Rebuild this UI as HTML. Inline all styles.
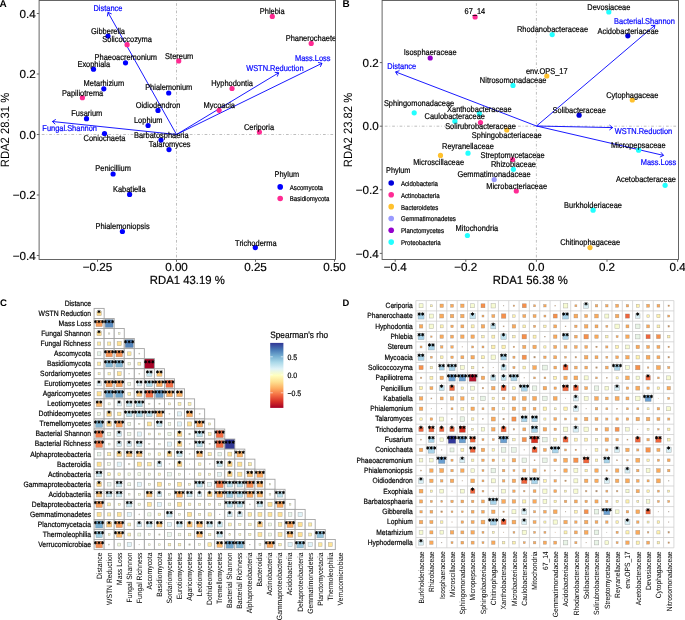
<!DOCTYPE html>
<html><head><meta charset="utf-8"><style>
html,body{margin:0;padding:0;background:#fff;}
body{width:685px;height:620px;overflow:hidden;}
svg{display:block;will-change:transform;text-rendering:geometricPrecision;}
</style></head><body>
<svg width="685" height="620" viewBox="0 0 685 620" font-family='"Liberation Sans", sans-serif'>
<rect width="685" height="620" fill="#fff"/>
<line x1="176.5" y1="0.45" x2="176.5" y2="259.5" stroke="#a8a8a8" stroke-width="0.75" stroke-dasharray="0.7 2 2.7 2"/>
<line x1="39.1" y1="134.5" x2="335.5" y2="134.5" stroke="#a8a8a8" stroke-width="0.75" stroke-dasharray="0.7 2 2.7 2"/>
<line x1="176.5" y1="134.5" x2="108" y2="12.4" stroke="#0000ff" stroke-width="0.9"/>
<polyline points="111.69,13.94 108,12.4 107.39,16.35" fill="none" stroke="#0000ff" stroke-width="0.9"/>
<line x1="176.5" y1="134.5" x2="52.4" y2="121.5" stroke="#0000ff" stroke-width="0.9"/>
<polyline points="55.79,119.38 52.4,121.5 55.28,124.28" fill="none" stroke="#0000ff" stroke-width="0.9"/>
<line x1="176.5" y1="134.5" x2="278.7" y2="72.8" stroke="#0000ff" stroke-width="0.9"/>
<polyline points="277.27,76.54 278.7,72.8 274.73,72.32" fill="none" stroke="#0000ff" stroke-width="0.9"/>
<line x1="176.5" y1="134.5" x2="322" y2="63.3" stroke="#0000ff" stroke-width="0.9"/>
<polyline points="320.25,66.9 322,63.3 318.09,62.47" fill="none" stroke="#0000ff" stroke-width="0.9"/>
<circle cx="108" cy="36" r="2.6" fill="#0000ff"/>
<circle cx="125.5" cy="62.8" r="2.6" fill="#0000ff"/>
<circle cx="93.5" cy="69.2" r="2.6" fill="#0000ff"/>
<circle cx="103.8" cy="88.8" r="2.6" fill="#0000ff"/>
<circle cx="168.7" cy="93" r="2.6" fill="#0000ff"/>
<circle cx="158" cy="110.4" r="2.6" fill="#0000ff"/>
<circle cx="86.5" cy="118.7" r="2.6" fill="#0000ff"/>
<circle cx="148.1" cy="125.5" r="2.6" fill="#0000ff"/>
<circle cx="104.5" cy="133.5" r="2.6" fill="#0000ff"/>
<circle cx="161" cy="140.1" r="2.6" fill="#0000ff"/>
<circle cx="169" cy="149.6" r="2.6" fill="#0000ff"/>
<circle cx="113.1" cy="174" r="2.6" fill="#0000ff"/>
<circle cx="129.6" cy="194.4" r="2.6" fill="#0000ff"/>
<circle cx="122.4" cy="231.5" r="2.6" fill="#0000ff"/>
<circle cx="255.3" cy="247.6" r="2.6" fill="#0000ff"/>
<circle cx="127.1" cy="44.7" r="2.6" fill="#ff2a92"/>
<circle cx="82.4" cy="97.7" r="2.6" fill="#ff2a92"/>
<circle cx="178.7" cy="60.9" r="2.6" fill="#ff2a92"/>
<circle cx="272.3" cy="16.4" r="2.6" fill="#ff2a92"/>
<circle cx="311.2" cy="43.4" r="2.6" fill="#ff2a92"/>
<circle cx="232" cy="88.5" r="2.6" fill="#ff2a92"/>
<circle cx="219.1" cy="110.3" r="2.6" fill="#ff2a92"/>
<circle cx="259.4" cy="132.1" r="2.6" fill="#ff2a92"/>
<text transform="translate(108,33.6) scale(1,1.13)" font-size="7.45" fill="#000" stroke="#000" stroke-width="0.18" text-anchor="middle" >Gibberella</text>
<text transform="translate(125.8,60.3) scale(1,1.13)" font-size="7.45" fill="#000" stroke="#000" stroke-width="0.18" text-anchor="middle" >Phaeoacremonium</text>
<text transform="translate(93.75,66.6) scale(1,1.13)" font-size="7.45" fill="#000" stroke="#000" stroke-width="0.18" text-anchor="middle" >Exophiala</text>
<text transform="translate(103.85,86.4) scale(1,1.13)" font-size="7.45" fill="#000" stroke="#000" stroke-width="0.18" text-anchor="middle" >Metarhizium</text>
<text transform="translate(168.7,90.4) scale(1,1.13)" font-size="7.45" fill="#000" stroke="#000" stroke-width="0.18" text-anchor="middle" >Phialemonium</text>
<text transform="translate(158,107.8) scale(1,1.13)" font-size="7.45" fill="#000" stroke="#000" stroke-width="0.18" text-anchor="middle" >Oidiodendron</text>
<text transform="translate(86.75,115.6) scale(1,1.13)" font-size="7.45" fill="#000" stroke="#000" stroke-width="0.18" text-anchor="middle" >Fusarium</text>
<text transform="translate(148.25,122.8) scale(1,1.13)" font-size="7.45" fill="#000" stroke="#000" stroke-width="0.18" text-anchor="middle" >Lophium</text>
<text transform="translate(104.45,141.4) scale(1,1.13)" font-size="7.45" fill="#000" stroke="#000" stroke-width="0.18" text-anchor="middle" >Coniochaeta</text>
<text transform="translate(161.3,137.8) scale(1,1.13)" font-size="7.45" fill="#000" stroke="#000" stroke-width="0.18" text-anchor="middle" >Barbatosphaeria</text>
<text transform="translate(169.7,147.1) scale(1,1.13)" font-size="7.45" fill="#000" stroke="#000" stroke-width="0.18" text-anchor="middle" >Talaromyces</text>
<text transform="translate(113.1,171.2) scale(1,1.13)" font-size="7.45" fill="#000" stroke="#000" stroke-width="0.18" text-anchor="middle" >Penicillium</text>
<text transform="translate(129.3,192) scale(1,1.13)" font-size="7.45" fill="#000" stroke="#000" stroke-width="0.18" text-anchor="middle" >Kabatiella</text>
<text transform="translate(122.55,229) scale(1,1.13)" font-size="7.45" fill="#000" stroke="#000" stroke-width="0.18" text-anchor="middle" >Phialemoniopsis</text>
<text transform="translate(255.85,246.2) scale(1,1.13)" font-size="7.45" fill="#000" stroke="#000" stroke-width="0.18" text-anchor="middle" >Trichoderma</text>
<text transform="translate(127.1,42.2) scale(1,1.13)" font-size="7.45" fill="#000" stroke="#000" stroke-width="0.18" text-anchor="middle" >Solicoccozyma</text>
<text transform="translate(82.55,95.6) scale(1,1.13)" font-size="7.45" fill="#000" stroke="#000" stroke-width="0.18" text-anchor="middle" >Papiliotrema</text>
<text transform="translate(179.15,59.2) scale(1,1.13)" font-size="7.45" fill="#000" stroke="#000" stroke-width="0.18" text-anchor="middle" >Stereum</text>
<text transform="translate(272.25,14) scale(1,1.13)" font-size="7.45" fill="#000" stroke="#000" stroke-width="0.18" text-anchor="middle" >Phlebia</text>
<text transform="translate(310.9,41) scale(1,1.13)" font-size="7.45" fill="#000" stroke="#000" stroke-width="0.18" text-anchor="middle" >Phanerochaete</text>
<text transform="translate(232.05,86.1) scale(1,1.13)" font-size="7.45" fill="#000" stroke="#000" stroke-width="0.18" text-anchor="middle" >Hyphodontia</text>
<text transform="translate(219.25,108.4) scale(1,1.13)" font-size="7.45" fill="#000" stroke="#000" stroke-width="0.18" text-anchor="middle" >Mycoacia</text>
<text transform="translate(259,130.4) scale(1,1.13)" font-size="7.45" fill="#000" stroke="#000" stroke-width="0.18" text-anchor="middle" >Ceriporia</text>
<text transform="translate(107.95,10.9) scale(1,1.13)" font-size="7.45" fill="#0000ff" stroke="#0000ff" stroke-width="0.18" text-anchor="middle" >Distance</text>
<text transform="translate(69.65,131.1) scale(1,1.13)" font-size="7.45" fill="#0000ff" stroke="#0000ff" stroke-width="0.18" text-anchor="middle" >Fungal.Shannon</text>
<text transform="translate(274.85,70.7) scale(1,1.13)" font-size="7.45" fill="#0000ff" stroke="#0000ff" stroke-width="0.18" text-anchor="middle" >WSTN.Reduction</text>
<text transform="translate(312.7,60.8) scale(1,1.13)" font-size="7.45" fill="#0000ff" stroke="#0000ff" stroke-width="0.18" text-anchor="middle" >Mass.Loss</text>
<rect x="39.1" y="0.45" width="296.4" height="259.05" fill="none" stroke="#555555" stroke-width="0.9"/>
<line x1="36.8" y1="13.5" x2="39.1" y2="13.5" stroke="#555555" stroke-width="0.9"/>
<text x="35.65" y="17.65" font-size="11.65" fill="#000" stroke="#000" stroke-width="0.18" text-anchor="end" >0.4</text>
<line x1="36.8" y1="74" x2="39.1" y2="74" stroke="#555555" stroke-width="0.9"/>
<text x="35.65" y="78.15" font-size="11.65" fill="#000" stroke="#000" stroke-width="0.18" text-anchor="end" >0.2</text>
<line x1="36.8" y1="134.5" x2="39.1" y2="134.5" stroke="#555555" stroke-width="0.9"/>
<text x="35.65" y="138.65" font-size="11.65" fill="#000" stroke="#000" stroke-width="0.18" text-anchor="end" >0.0</text>
<line x1="36.8" y1="195" x2="39.1" y2="195" stroke="#555555" stroke-width="0.9"/>
<text x="35.65" y="199.15" font-size="11.65" fill="#000" stroke="#000" stroke-width="0.18" text-anchor="end" >−0.2</text>
<line x1="36.8" y1="255.5" x2="39.1" y2="255.5" stroke="#555555" stroke-width="0.9"/>
<text x="35.65" y="259.65" font-size="11.65" fill="#000" stroke="#000" stroke-width="0.18" text-anchor="end" >−0.4</text>
<line x1="97.5" y1="259.5" x2="97.5" y2="261.8" stroke="#555555" stroke-width="0.9"/>
<text x="97.5" y="271.35" font-size="11.65" fill="#000" stroke="#000" stroke-width="0.18" text-anchor="middle" >−0.25</text>
<line x1="176.5" y1="259.5" x2="176.5" y2="261.8" stroke="#555555" stroke-width="0.9"/>
<text x="176.5" y="271.35" font-size="11.65" fill="#000" stroke="#000" stroke-width="0.18" text-anchor="middle" >0.00</text>
<line x1="255.5" y1="259.5" x2="255.5" y2="261.8" stroke="#555555" stroke-width="0.9"/>
<text x="255.5" y="271.35" font-size="11.65" fill="#000" stroke="#000" stroke-width="0.18" text-anchor="middle" >0.25</text>
<line x1="334.5" y1="259.5" x2="334.5" y2="261.8" stroke="#555555" stroke-width="0.9"/>
<text x="334.5" y="271.35" font-size="11.65" fill="#000" stroke="#000" stroke-width="0.18" text-anchor="middle" >0.50</text>
<text x="187.3" y="283.9" font-size="11.7" fill="#000" stroke="#000" stroke-width="0.18" text-anchor="middle" textLength="74.9" lengthAdjust="spacingAndGlyphs">RDA1 43.19 %</text>
<text transform="translate(9,129.97) rotate(-90)" font-size="12" text-anchor="middle" textLength="74.5" lengthAdjust="spacingAndGlyphs">RDA2 28.31 %</text>
<text x="-0.4" y="6.95" font-size="10" font-weight="bold">A</text>
<text transform="translate(274.6,177.3) scale(1,1.13)" font-size="7.35" fill="#000" stroke="#000" stroke-width="0.18" text-anchor="start" >Phylum</text>
<circle cx="280.2" cy="186.9" r="2.8" fill="#0000ff"/>
<circle cx="280.2" cy="198.5" r="2.8" fill="#ff2a92"/>
<text transform="translate(289.8,189.7) scale(1,1.13)" font-size="6.1" fill="#000" stroke="#000" stroke-width="0.18" text-anchor="start" >Ascomycota</text>
<text transform="translate(289.8,201.3) scale(1,1.13)" font-size="6.1" fill="#000" stroke="#000" stroke-width="0.18" text-anchor="start" >Basidiomycota</text>
<line x1="536.4" y1="0.45" x2="536.4" y2="259.5" stroke="#a8a8a8" stroke-width="0.75" stroke-dasharray="0.7 2 2.7 2"/>
<line x1="382.1" y1="126.2" x2="678.5" y2="126.2" stroke="#a8a8a8" stroke-width="0.75" stroke-dasharray="0.7 2 2.7 2"/>
<line x1="536.5" y1="126" x2="395.6" y2="71.9" stroke="#0000ff" stroke-width="0.9"/>
<polyline points="399.43,70.73 395.6,71.9 397.66,75.33" fill="none" stroke="#0000ff" stroke-width="0.9"/>
<line x1="536.5" y1="126" x2="654.9" y2="25.3" stroke="#0000ff" stroke-width="0.9"/>
<polyline points="654.09,29.22 654.9,25.3 650.9,25.47" fill="none" stroke="#0000ff" stroke-width="0.9"/>
<line x1="536.5" y1="126" x2="612.6" y2="127.6" stroke="#0000ff" stroke-width="0.9"/>
<polyline points="609.4,130 612.6,127.6 609.5,125.07" fill="none" stroke="#0000ff" stroke-width="0.9"/>
<line x1="536.5" y1="126" x2="663.5" y2="155.4" stroke="#0000ff" stroke-width="0.9"/>
<polyline points="659.87,157.09 663.5,155.4 660.98,152.29" fill="none" stroke="#0000ff" stroke-width="0.9"/>
<circle cx="627.8" cy="35.8" r="2.6" fill="#0000dc"/>
<circle cx="579.1" cy="115.2" r="2.6" fill="#0000dc"/>
<circle cx="475.1" cy="16.9" r="2.6" fill="#ff2b95"/>
<circle cx="480.5" cy="122.6" r="2.6" fill="#ff2b95"/>
<circle cx="512.6" cy="159.5" r="2.6" fill="#ff2b95"/>
<circle cx="516.3" cy="191" r="2.6" fill="#ff2b95"/>
<circle cx="546.8" cy="76" r="2.6" fill="#ffc12e"/>
<circle cx="506.8" cy="130" r="2.6" fill="#ffc12e"/>
<circle cx="632.3" cy="100" r="2.6" fill="#ffc12e"/>
<circle cx="440.5" cy="155.4" r="2.6" fill="#ffc12e"/>
<circle cx="590" cy="247.6" r="2.6" fill="#ffc12e"/>
<circle cx="494.2" cy="179.5" r="2.6" fill="#9a9aff"/>
<circle cx="430.2" cy="58" r="2.6" fill="#9400cc"/>
<circle cx="608.8" cy="12" r="2.6" fill="#22ffff"/>
<circle cx="552.2" cy="34.6" r="2.6" fill="#22ffff"/>
<circle cx="513" cy="85.4" r="2.6" fill="#22ffff"/>
<circle cx="414.2" cy="112.8" r="2.6" fill="#22ffff"/>
<circle cx="479.4" cy="113.6" r="2.6" fill="#22ffff"/>
<circle cx="454.9" cy="121.2" r="2.6" fill="#22ffff"/>
<circle cx="468" cy="153.2" r="2.6" fill="#22ffff"/>
<circle cx="513.4" cy="169.3" r="2.6" fill="#22ffff"/>
<circle cx="638.6" cy="150.2" r="2.6" fill="#22ffff"/>
<circle cx="665.1" cy="185.3" r="2.6" fill="#22ffff"/>
<circle cx="593.1" cy="210.2" r="2.6" fill="#22ffff"/>
<circle cx="467.4" cy="235.5" r="2.6" fill="#22ffff"/>
<text transform="translate(628.1,33.6) scale(1,1.13)" font-size="7.45" fill="#000" stroke="#000" stroke-width="0.18" text-anchor="middle" >Acidobacteriaceae</text>
<text transform="translate(579.2,112.5) scale(1,1.13)" font-size="7.45" fill="#000" stroke="#000" stroke-width="0.18" text-anchor="middle" >Solibacteraceae</text>
<text transform="translate(474.85,14.3) scale(1,1.13)" font-size="7.45" fill="#000" stroke="#000" stroke-width="0.18" text-anchor="middle" >67_14</text>
<text transform="translate(480.5,128.7) scale(1,1.13)" font-size="7.45" fill="#000" stroke="#000" stroke-width="0.18" text-anchor="middle" >Solirubrobacteraceae</text>
<text transform="translate(512.6,157.7) scale(1,1.13)" font-size="7.45" fill="#000" stroke="#000" stroke-width="0.18" text-anchor="middle" >Streptomycetaceae</text>
<text transform="translate(516.65,188.7) scale(1,1.13)" font-size="7.45" fill="#000" stroke="#000" stroke-width="0.18" text-anchor="middle" >Microbacteriaceae</text>
<text transform="translate(546.75,73.7) scale(1,1.13)" font-size="7.45" fill="#000" stroke="#000" stroke-width="0.18" text-anchor="middle" >env.OPS_17</text>
<text transform="translate(506.75,137.9) scale(1,1.13)" font-size="7.45" fill="#000" stroke="#000" stroke-width="0.18" text-anchor="middle" >Sphingobacteriaceae</text>
<text transform="translate(632.3,98) scale(1,1.13)" font-size="7.45" fill="#000" stroke="#000" stroke-width="0.18" text-anchor="middle" >Cytophagaceae</text>
<text transform="translate(438.6,164.6) scale(1,1.13)" font-size="7.45" fill="#000" stroke="#000" stroke-width="0.18" text-anchor="middle" >Microscillaceae</text>
<text transform="translate(590.15,244.9) scale(1,1.13)" font-size="7.45" fill="#000" stroke="#000" stroke-width="0.18" text-anchor="middle" >Chitinophagaceae</text>
<text transform="translate(494,177) scale(1,1.13)" font-size="7.45" fill="#000" stroke="#000" stroke-width="0.18" text-anchor="middle" >Gemmatimonadaceae</text>
<text transform="translate(430.15,55.4) scale(1,1.13)" font-size="7.45" fill="#000" stroke="#000" stroke-width="0.18" text-anchor="middle" >Isosphaeraceae</text>
<text transform="translate(608.85,9.8) scale(1,1.13)" font-size="7.45" fill="#000" stroke="#000" stroke-width="0.18" text-anchor="middle" >Devosiaceae</text>
<text transform="translate(552.45,32.4) scale(1,1.13)" font-size="7.45" fill="#000" stroke="#000" stroke-width="0.18" text-anchor="middle" >Rhodanobacteraceae</text>
<text transform="translate(513.15,83.4) scale(1,1.13)" font-size="7.45" fill="#000" stroke="#000" stroke-width="0.18" text-anchor="middle" >Nitrosomonadaceae</text>
<text transform="translate(419.05,106.1) scale(1,1.13)" font-size="7.45" fill="#000" stroke="#000" stroke-width="0.18" text-anchor="middle" >Sphingomonadaceae</text>
<text transform="translate(479.3,111.6) scale(1,1.13)" font-size="7.45" fill="#000" stroke="#000" stroke-width="0.18" text-anchor="middle" >Xanthobacteraceae</text>
<text transform="translate(454.8,118.6) scale(1,1.13)" font-size="7.45" fill="#000" stroke="#000" stroke-width="0.18" text-anchor="middle" >Caulobacteraceae</text>
<text transform="translate(467.95,148.9) scale(1,1.13)" font-size="7.45" fill="#000" stroke="#000" stroke-width="0.18" text-anchor="middle" >Reyranellaceae</text>
<text transform="translate(513.45,167) scale(1,1.13)" font-size="7.45" fill="#000" stroke="#000" stroke-width="0.18" text-anchor="middle" >Rhizobiaceae</text>
<text transform="translate(638.3,148.3) scale(1,1.13)" font-size="7.45" fill="#000" stroke="#000" stroke-width="0.18" text-anchor="middle" >Micropepsaceae</text>
<text transform="translate(646,181.6) scale(1,1.13)" font-size="7.45" fill="#000" stroke="#000" stroke-width="0.18" text-anchor="middle" >Acetobacteraceae</text>
<text transform="translate(593.05,207.8) scale(1,1.13)" font-size="7.45" fill="#000" stroke="#000" stroke-width="0.18" text-anchor="middle" >Burkholderiaceae</text>
<text transform="translate(476.9,231.2) scale(1,1.13)" font-size="7.45" fill="#000" stroke="#000" stroke-width="0.18" text-anchor="middle" >Mitochondria</text>
<text transform="translate(401.75,69.2) scale(1,1.13)" font-size="7.45" fill="#0000ff" stroke="#0000ff" stroke-width="0.18" text-anchor="middle" >Distance</text>
<text transform="translate(644.5,23.8) scale(1,1.13)" font-size="7.45" fill="#0000ff" stroke="#0000ff" stroke-width="0.18" text-anchor="middle" >Bacterial.Shannon</text>
<text transform="translate(643.5,133.6) scale(1,1.13)" font-size="7.45" fill="#0000ff" stroke="#0000ff" stroke-width="0.18" text-anchor="middle" >WSTN.Reduction</text>
<text transform="translate(658.45,164.6) scale(1,1.13)" font-size="7.45" fill="#0000ff" stroke="#0000ff" stroke-width="0.18" text-anchor="middle" >Mass.Loss</text>
<rect x="382.1" y="0.45" width="296.4" height="259.05" fill="none" stroke="#555555" stroke-width="0.9"/>
<line x1="379.8" y1="62.6" x2="382.1" y2="62.6" stroke="#555555" stroke-width="0.9"/>
<text x="378.65" y="66.75" font-size="11.65" fill="#000" stroke="#000" stroke-width="0.18" text-anchor="end" >0.2</text>
<line x1="379.8" y1="126.2" x2="382.1" y2="126.2" stroke="#555555" stroke-width="0.9"/>
<text x="378.65" y="130.35" font-size="11.65" fill="#000" stroke="#000" stroke-width="0.18" text-anchor="end" >0.0</text>
<line x1="379.8" y1="189.8" x2="382.1" y2="189.8" stroke="#555555" stroke-width="0.9"/>
<text x="378.65" y="193.95" font-size="11.65" fill="#000" stroke="#000" stroke-width="0.18" text-anchor="end" >−0.2</text>
<line x1="379.8" y1="253.4" x2="382.1" y2="253.4" stroke="#555555" stroke-width="0.9"/>
<text x="378.65" y="257.55" font-size="11.65" fill="#000" stroke="#000" stroke-width="0.18" text-anchor="end" >−0.4</text>
<line x1="395.2" y1="259.5" x2="395.2" y2="261.8" stroke="#555555" stroke-width="0.9"/>
<text x="395.2" y="271.35" font-size="11.65" fill="#000" stroke="#000" stroke-width="0.18" text-anchor="middle" >−0.4</text>
<line x1="465.8" y1="259.5" x2="465.8" y2="261.8" stroke="#555555" stroke-width="0.9"/>
<text x="465.8" y="271.35" font-size="11.65" fill="#000" stroke="#000" stroke-width="0.18" text-anchor="middle" >−0.2</text>
<line x1="536.4" y1="259.5" x2="536.4" y2="261.8" stroke="#555555" stroke-width="0.9"/>
<text x="536.4" y="271.35" font-size="11.65" fill="#000" stroke="#000" stroke-width="0.18" text-anchor="middle" >0.0</text>
<line x1="607" y1="259.5" x2="607" y2="261.8" stroke="#555555" stroke-width="0.9"/>
<text x="607" y="271.35" font-size="11.65" fill="#000" stroke="#000" stroke-width="0.18" text-anchor="middle" >0.2</text>
<line x1="677.6" y1="259.5" x2="677.6" y2="261.8" stroke="#555555" stroke-width="0.9"/>
<text x="677.6" y="271.35" font-size="11.65" fill="#000" stroke="#000" stroke-width="0.18" text-anchor="middle" >0.4</text>
<text x="530.3" y="283.9" font-size="11.7" fill="#000" stroke="#000" stroke-width="0.18" text-anchor="middle" textLength="74.9" lengthAdjust="spacingAndGlyphs">RDA1 56.38 %</text>
<text transform="translate(351.9,129.97) rotate(-90)" font-size="12" text-anchor="middle" textLength="74.5" lengthAdjust="spacingAndGlyphs">RDA2 23.82 %</text>
<text x="342.4" y="6.95" font-size="10" font-weight="bold">B</text>
<text transform="translate(386,173.2) scale(1,1.13)" font-size="7.35" fill="#000" stroke="#000" stroke-width="0.18" text-anchor="start" >Phylum</text>
<circle cx="391.2" cy="183" r="2.8" fill="#0000dc"/>
<text transform="translate(401,186) scale(1,1.13)" font-size="6.1" fill="#000" stroke="#000" stroke-width="0.18" text-anchor="start" >Acidobacteria</text>
<circle cx="391.2" cy="194.82" r="2.8" fill="#ff2b95"/>
<text transform="translate(401,197.82) scale(1,1.13)" font-size="6.1" fill="#000" stroke="#000" stroke-width="0.18" text-anchor="start" >Actinobacteria</text>
<circle cx="391.2" cy="206.64" r="2.8" fill="#ffc12e"/>
<text transform="translate(401,209.64) scale(1,1.13)" font-size="6.1" fill="#000" stroke="#000" stroke-width="0.18" text-anchor="start" >Bacteroidetes</text>
<circle cx="391.2" cy="218.46" r="2.8" fill="#9a9aff"/>
<text transform="translate(401,221.46) scale(1,1.13)" font-size="6.1" fill="#000" stroke="#000" stroke-width="0.18" text-anchor="start" >Gemmatimonadetes</text>
<circle cx="391.2" cy="230.28" r="2.8" fill="#9400cc"/>
<text transform="translate(401,233.28) scale(1,1.13)" font-size="6.1" fill="#000" stroke="#000" stroke-width="0.18" text-anchor="start" >Planctomycetes</text>
<circle cx="391.2" cy="242.1" r="2.8" fill="#22ffff"/>
<text transform="translate(401,245.1) scale(1,1.13)" font-size="6.1" fill="#000" stroke="#000" stroke-width="0.18" text-anchor="start" >Proteobacteria</text>
<text transform="translate(91.1,305.77) scale(1,1.13)" font-size="6.8" fill="#000" stroke="#000" stroke-width="0.18" text-anchor="end" >Distance</text>
<text transform="translate(91.1,315.82) scale(1,1.13)" font-size="6.8" fill="#000" stroke="#000" stroke-width="0.18" text-anchor="end" >WSTN Reduction</text>
<text transform="translate(91.1,325.88) scale(1,1.13)" font-size="6.8" fill="#000" stroke="#000" stroke-width="0.18" text-anchor="end" >Mass Loss</text>
<text transform="translate(91.1,335.93) scale(1,1.13)" font-size="6.8" fill="#000" stroke="#000" stroke-width="0.18" text-anchor="end" >Fungal Shannon</text>
<text transform="translate(91.1,345.98) scale(1,1.13)" font-size="6.8" fill="#000" stroke="#000" stroke-width="0.18" text-anchor="end" >Fungal Richness</text>
<text transform="translate(91.1,356.02) scale(1,1.13)" font-size="6.8" fill="#000" stroke="#000" stroke-width="0.18" text-anchor="end" >Ascomycota</text>
<text transform="translate(91.1,366.07) scale(1,1.13)" font-size="6.8" fill="#000" stroke="#000" stroke-width="0.18" text-anchor="end" >Basidiomycota</text>
<text transform="translate(91.1,376.12) scale(1,1.13)" font-size="6.8" fill="#000" stroke="#000" stroke-width="0.18" text-anchor="end" >Sordariomycetes</text>
<text transform="translate(91.1,386.18) scale(1,1.13)" font-size="6.8" fill="#000" stroke="#000" stroke-width="0.18" text-anchor="end" >Eurotiomycetes</text>
<text transform="translate(91.1,396.23) scale(1,1.13)" font-size="6.8" fill="#000" stroke="#000" stroke-width="0.18" text-anchor="end" >Agaricomycetes</text>
<text transform="translate(91.1,406.27) scale(1,1.13)" font-size="6.8" fill="#000" stroke="#000" stroke-width="0.18" text-anchor="end" >Leotiomycetes</text>
<text transform="translate(91.1,416.32) scale(1,1.13)" font-size="6.8" fill="#000" stroke="#000" stroke-width="0.18" text-anchor="end" >Dothideomycetes</text>
<text transform="translate(91.1,426.38) scale(1,1.13)" font-size="6.8" fill="#000" stroke="#000" stroke-width="0.18" text-anchor="end" >Tremellomycetes</text>
<text transform="translate(91.1,436.43) scale(1,1.13)" font-size="6.8" fill="#000" stroke="#000" stroke-width="0.18" text-anchor="end" >Bacterial Shannon</text>
<text transform="translate(91.1,446.48) scale(1,1.13)" font-size="6.8" fill="#000" stroke="#000" stroke-width="0.18" text-anchor="end" >Bacterial Richness</text>
<text transform="translate(91.1,456.52) scale(1,1.13)" font-size="6.8" fill="#000" stroke="#000" stroke-width="0.18" text-anchor="end" >Alphaproteobacteria</text>
<text transform="translate(91.1,466.58) scale(1,1.13)" font-size="6.8" fill="#000" stroke="#000" stroke-width="0.18" text-anchor="end" >Bacteroidia</text>
<text transform="translate(91.1,476.62) scale(1,1.13)" font-size="6.8" fill="#000" stroke="#000" stroke-width="0.18" text-anchor="end" >Actinobacteria</text>
<text transform="translate(91.1,486.68) scale(1,1.13)" font-size="6.8" fill="#000" stroke="#000" stroke-width="0.18" text-anchor="end" >Gammaproteobacteria</text>
<text transform="translate(91.1,496.73) scale(1,1.13)" font-size="6.8" fill="#000" stroke="#000" stroke-width="0.18" text-anchor="end" >Acidobacteriia</text>
<text transform="translate(91.1,506.77) scale(1,1.13)" font-size="6.8" fill="#000" stroke="#000" stroke-width="0.18" text-anchor="end" >Deltaproteobacteria</text>
<text transform="translate(91.1,516.83) scale(1,1.13)" font-size="6.8" fill="#000" stroke="#000" stroke-width="0.18" text-anchor="end" >Gemmatimonadetes</text>
<text transform="translate(91.1,526.88) scale(1,1.13)" font-size="6.8" fill="#000" stroke="#000" stroke-width="0.18" text-anchor="end" >Planctomycetacia</text>
<text transform="translate(91.1,536.93) scale(1,1.13)" font-size="6.8" fill="#000" stroke="#000" stroke-width="0.18" text-anchor="end" >Thermoleophilia</text>
<text transform="translate(91.1,546.98) scale(1,1.13)" font-size="6.8" fill="#000" stroke="#000" stroke-width="0.18" text-anchor="end" >Verrucomicrobiae</text>
<g fill="#fff" stroke="#a3a3a3" stroke-width="0.9">
<rect x="94.1" y="308.4" width="10.05" height="10.05"/>
<rect x="94.1" y="318.45" width="10.05" height="10.05"/>
<rect x="104.15" y="318.45" width="10.05" height="10.05"/>
<rect x="94.1" y="328.5" width="10.05" height="10.05"/>
<rect x="104.15" y="328.5" width="10.05" height="10.05"/>
<rect x="114.2" y="328.5" width="10.05" height="10.05"/>
<rect x="94.1" y="338.55" width="10.05" height="10.05"/>
<rect x="104.15" y="338.55" width="10.05" height="10.05"/>
<rect x="114.2" y="338.55" width="10.05" height="10.05"/>
<rect x="124.25" y="338.55" width="10.05" height="10.05"/>
<rect x="94.1" y="348.6" width="10.05" height="10.05"/>
<rect x="104.15" y="348.6" width="10.05" height="10.05"/>
<rect x="114.2" y="348.6" width="10.05" height="10.05"/>
<rect x="124.25" y="348.6" width="10.05" height="10.05"/>
<rect x="134.3" y="348.6" width="10.05" height="10.05"/>
<rect x="94.1" y="358.65" width="10.05" height="10.05"/>
<rect x="104.15" y="358.65" width="10.05" height="10.05"/>
<rect x="114.2" y="358.65" width="10.05" height="10.05"/>
<rect x="124.25" y="358.65" width="10.05" height="10.05"/>
<rect x="134.3" y="358.65" width="10.05" height="10.05"/>
<rect x="144.35" y="358.65" width="10.05" height="10.05"/>
<rect x="94.1" y="368.7" width="10.05" height="10.05"/>
<rect x="104.15" y="368.7" width="10.05" height="10.05"/>
<rect x="114.2" y="368.7" width="10.05" height="10.05"/>
<rect x="124.25" y="368.7" width="10.05" height="10.05"/>
<rect x="134.3" y="368.7" width="10.05" height="10.05"/>
<rect x="144.35" y="368.7" width="10.05" height="10.05"/>
<rect x="154.4" y="368.7" width="10.05" height="10.05"/>
<rect x="94.1" y="378.75" width="10.05" height="10.05"/>
<rect x="104.15" y="378.75" width="10.05" height="10.05"/>
<rect x="114.2" y="378.75" width="10.05" height="10.05"/>
<rect x="124.25" y="378.75" width="10.05" height="10.05"/>
<rect x="134.3" y="378.75" width="10.05" height="10.05"/>
<rect x="144.35" y="378.75" width="10.05" height="10.05"/>
<rect x="154.4" y="378.75" width="10.05" height="10.05"/>
<rect x="164.45" y="378.75" width="10.05" height="10.05"/>
<rect x="94.1" y="388.8" width="10.05" height="10.05"/>
<rect x="104.15" y="388.8" width="10.05" height="10.05"/>
<rect x="114.2" y="388.8" width="10.05" height="10.05"/>
<rect x="124.25" y="388.8" width="10.05" height="10.05"/>
<rect x="134.3" y="388.8" width="10.05" height="10.05"/>
<rect x="144.35" y="388.8" width="10.05" height="10.05"/>
<rect x="154.4" y="388.8" width="10.05" height="10.05"/>
<rect x="164.45" y="388.8" width="10.05" height="10.05"/>
<rect x="174.5" y="388.8" width="10.05" height="10.05"/>
<rect x="94.1" y="398.85" width="10.05" height="10.05"/>
<rect x="104.15" y="398.85" width="10.05" height="10.05"/>
<rect x="114.2" y="398.85" width="10.05" height="10.05"/>
<rect x="124.25" y="398.85" width="10.05" height="10.05"/>
<rect x="134.3" y="398.85" width="10.05" height="10.05"/>
<rect x="144.35" y="398.85" width="10.05" height="10.05"/>
<rect x="154.4" y="398.85" width="10.05" height="10.05"/>
<rect x="164.45" y="398.85" width="10.05" height="10.05"/>
<rect x="174.5" y="398.85" width="10.05" height="10.05"/>
<rect x="184.55" y="398.85" width="10.05" height="10.05"/>
<rect x="94.1" y="408.9" width="10.05" height="10.05"/>
<rect x="104.15" y="408.9" width="10.05" height="10.05"/>
<rect x="114.2" y="408.9" width="10.05" height="10.05"/>
<rect x="124.25" y="408.9" width="10.05" height="10.05"/>
<rect x="134.3" y="408.9" width="10.05" height="10.05"/>
<rect x="144.35" y="408.9" width="10.05" height="10.05"/>
<rect x="154.4" y="408.9" width="10.05" height="10.05"/>
<rect x="164.45" y="408.9" width="10.05" height="10.05"/>
<rect x="174.5" y="408.9" width="10.05" height="10.05"/>
<rect x="184.55" y="408.9" width="10.05" height="10.05"/>
<rect x="194.6" y="408.9" width="10.05" height="10.05"/>
<rect x="94.1" y="418.95" width="10.05" height="10.05"/>
<rect x="104.15" y="418.95" width="10.05" height="10.05"/>
<rect x="114.2" y="418.95" width="10.05" height="10.05"/>
<rect x="124.25" y="418.95" width="10.05" height="10.05"/>
<rect x="134.3" y="418.95" width="10.05" height="10.05"/>
<rect x="144.35" y="418.95" width="10.05" height="10.05"/>
<rect x="154.4" y="418.95" width="10.05" height="10.05"/>
<rect x="164.45" y="418.95" width="10.05" height="10.05"/>
<rect x="174.5" y="418.95" width="10.05" height="10.05"/>
<rect x="184.55" y="418.95" width="10.05" height="10.05"/>
<rect x="194.6" y="418.95" width="10.05" height="10.05"/>
<rect x="204.65" y="418.95" width="10.05" height="10.05"/>
<rect x="94.1" y="429" width="10.05" height="10.05"/>
<rect x="104.15" y="429" width="10.05" height="10.05"/>
<rect x="114.2" y="429" width="10.05" height="10.05"/>
<rect x="124.25" y="429" width="10.05" height="10.05"/>
<rect x="134.3" y="429" width="10.05" height="10.05"/>
<rect x="144.35" y="429" width="10.05" height="10.05"/>
<rect x="154.4" y="429" width="10.05" height="10.05"/>
<rect x="164.45" y="429" width="10.05" height="10.05"/>
<rect x="174.5" y="429" width="10.05" height="10.05"/>
<rect x="184.55" y="429" width="10.05" height="10.05"/>
<rect x="194.6" y="429" width="10.05" height="10.05"/>
<rect x="204.65" y="429" width="10.05" height="10.05"/>
<rect x="214.7" y="429" width="10.05" height="10.05"/>
<rect x="94.1" y="439.05" width="10.05" height="10.05"/>
<rect x="104.15" y="439.05" width="10.05" height="10.05"/>
<rect x="114.2" y="439.05" width="10.05" height="10.05"/>
<rect x="124.25" y="439.05" width="10.05" height="10.05"/>
<rect x="134.3" y="439.05" width="10.05" height="10.05"/>
<rect x="144.35" y="439.05" width="10.05" height="10.05"/>
<rect x="154.4" y="439.05" width="10.05" height="10.05"/>
<rect x="164.45" y="439.05" width="10.05" height="10.05"/>
<rect x="174.5" y="439.05" width="10.05" height="10.05"/>
<rect x="184.55" y="439.05" width="10.05" height="10.05"/>
<rect x="194.6" y="439.05" width="10.05" height="10.05"/>
<rect x="204.65" y="439.05" width="10.05" height="10.05"/>
<rect x="214.7" y="439.05" width="10.05" height="10.05"/>
<rect x="224.75" y="439.05" width="10.05" height="10.05"/>
<rect x="94.1" y="449.1" width="10.05" height="10.05"/>
<rect x="104.15" y="449.1" width="10.05" height="10.05"/>
<rect x="114.2" y="449.1" width="10.05" height="10.05"/>
<rect x="124.25" y="449.1" width="10.05" height="10.05"/>
<rect x="134.3" y="449.1" width="10.05" height="10.05"/>
<rect x="144.35" y="449.1" width="10.05" height="10.05"/>
<rect x="154.4" y="449.1" width="10.05" height="10.05"/>
<rect x="164.45" y="449.1" width="10.05" height="10.05"/>
<rect x="174.5" y="449.1" width="10.05" height="10.05"/>
<rect x="184.55" y="449.1" width="10.05" height="10.05"/>
<rect x="194.6" y="449.1" width="10.05" height="10.05"/>
<rect x="204.65" y="449.1" width="10.05" height="10.05"/>
<rect x="214.7" y="449.1" width="10.05" height="10.05"/>
<rect x="224.75" y="449.1" width="10.05" height="10.05"/>
<rect x="234.8" y="449.1" width="10.05" height="10.05"/>
<rect x="94.1" y="459.15" width="10.05" height="10.05"/>
<rect x="104.15" y="459.15" width="10.05" height="10.05"/>
<rect x="114.2" y="459.15" width="10.05" height="10.05"/>
<rect x="124.25" y="459.15" width="10.05" height="10.05"/>
<rect x="134.3" y="459.15" width="10.05" height="10.05"/>
<rect x="144.35" y="459.15" width="10.05" height="10.05"/>
<rect x="154.4" y="459.15" width="10.05" height="10.05"/>
<rect x="164.45" y="459.15" width="10.05" height="10.05"/>
<rect x="174.5" y="459.15" width="10.05" height="10.05"/>
<rect x="184.55" y="459.15" width="10.05" height="10.05"/>
<rect x="194.6" y="459.15" width="10.05" height="10.05"/>
<rect x="204.65" y="459.15" width="10.05" height="10.05"/>
<rect x="214.7" y="459.15" width="10.05" height="10.05"/>
<rect x="224.75" y="459.15" width="10.05" height="10.05"/>
<rect x="234.8" y="459.15" width="10.05" height="10.05"/>
<rect x="244.85" y="459.15" width="10.05" height="10.05"/>
<rect x="94.1" y="469.2" width="10.05" height="10.05"/>
<rect x="104.15" y="469.2" width="10.05" height="10.05"/>
<rect x="114.2" y="469.2" width="10.05" height="10.05"/>
<rect x="124.25" y="469.2" width="10.05" height="10.05"/>
<rect x="134.3" y="469.2" width="10.05" height="10.05"/>
<rect x="144.35" y="469.2" width="10.05" height="10.05"/>
<rect x="154.4" y="469.2" width="10.05" height="10.05"/>
<rect x="164.45" y="469.2" width="10.05" height="10.05"/>
<rect x="174.5" y="469.2" width="10.05" height="10.05"/>
<rect x="184.55" y="469.2" width="10.05" height="10.05"/>
<rect x="194.6" y="469.2" width="10.05" height="10.05"/>
<rect x="204.65" y="469.2" width="10.05" height="10.05"/>
<rect x="214.7" y="469.2" width="10.05" height="10.05"/>
<rect x="224.75" y="469.2" width="10.05" height="10.05"/>
<rect x="234.8" y="469.2" width="10.05" height="10.05"/>
<rect x="244.85" y="469.2" width="10.05" height="10.05"/>
<rect x="254.9" y="469.2" width="10.05" height="10.05"/>
<rect x="94.1" y="479.25" width="10.05" height="10.05"/>
<rect x="104.15" y="479.25" width="10.05" height="10.05"/>
<rect x="114.2" y="479.25" width="10.05" height="10.05"/>
<rect x="124.25" y="479.25" width="10.05" height="10.05"/>
<rect x="134.3" y="479.25" width="10.05" height="10.05"/>
<rect x="144.35" y="479.25" width="10.05" height="10.05"/>
<rect x="154.4" y="479.25" width="10.05" height="10.05"/>
<rect x="164.45" y="479.25" width="10.05" height="10.05"/>
<rect x="174.5" y="479.25" width="10.05" height="10.05"/>
<rect x="184.55" y="479.25" width="10.05" height="10.05"/>
<rect x="194.6" y="479.25" width="10.05" height="10.05"/>
<rect x="204.65" y="479.25" width="10.05" height="10.05"/>
<rect x="214.7" y="479.25" width="10.05" height="10.05"/>
<rect x="224.75" y="479.25" width="10.05" height="10.05"/>
<rect x="234.8" y="479.25" width="10.05" height="10.05"/>
<rect x="244.85" y="479.25" width="10.05" height="10.05"/>
<rect x="254.9" y="479.25" width="10.05" height="10.05"/>
<rect x="264.95" y="479.25" width="10.05" height="10.05"/>
<rect x="94.1" y="489.3" width="10.05" height="10.05"/>
<rect x="104.15" y="489.3" width="10.05" height="10.05"/>
<rect x="114.2" y="489.3" width="10.05" height="10.05"/>
<rect x="124.25" y="489.3" width="10.05" height="10.05"/>
<rect x="134.3" y="489.3" width="10.05" height="10.05"/>
<rect x="144.35" y="489.3" width="10.05" height="10.05"/>
<rect x="154.4" y="489.3" width="10.05" height="10.05"/>
<rect x="164.45" y="489.3" width="10.05" height="10.05"/>
<rect x="174.5" y="489.3" width="10.05" height="10.05"/>
<rect x="184.55" y="489.3" width="10.05" height="10.05"/>
<rect x="194.6" y="489.3" width="10.05" height="10.05"/>
<rect x="204.65" y="489.3" width="10.05" height="10.05"/>
<rect x="214.7" y="489.3" width="10.05" height="10.05"/>
<rect x="224.75" y="489.3" width="10.05" height="10.05"/>
<rect x="234.8" y="489.3" width="10.05" height="10.05"/>
<rect x="244.85" y="489.3" width="10.05" height="10.05"/>
<rect x="254.9" y="489.3" width="10.05" height="10.05"/>
<rect x="264.95" y="489.3" width="10.05" height="10.05"/>
<rect x="275" y="489.3" width="10.05" height="10.05"/>
<rect x="94.1" y="499.35" width="10.05" height="10.05"/>
<rect x="104.15" y="499.35" width="10.05" height="10.05"/>
<rect x="114.2" y="499.35" width="10.05" height="10.05"/>
<rect x="124.25" y="499.35" width="10.05" height="10.05"/>
<rect x="134.3" y="499.35" width="10.05" height="10.05"/>
<rect x="144.35" y="499.35" width="10.05" height="10.05"/>
<rect x="154.4" y="499.35" width="10.05" height="10.05"/>
<rect x="164.45" y="499.35" width="10.05" height="10.05"/>
<rect x="174.5" y="499.35" width="10.05" height="10.05"/>
<rect x="184.55" y="499.35" width="10.05" height="10.05"/>
<rect x="194.6" y="499.35" width="10.05" height="10.05"/>
<rect x="204.65" y="499.35" width="10.05" height="10.05"/>
<rect x="214.7" y="499.35" width="10.05" height="10.05"/>
<rect x="224.75" y="499.35" width="10.05" height="10.05"/>
<rect x="234.8" y="499.35" width="10.05" height="10.05"/>
<rect x="244.85" y="499.35" width="10.05" height="10.05"/>
<rect x="254.9" y="499.35" width="10.05" height="10.05"/>
<rect x="264.95" y="499.35" width="10.05" height="10.05"/>
<rect x="275" y="499.35" width="10.05" height="10.05"/>
<rect x="285.05" y="499.35" width="10.05" height="10.05"/>
<rect x="94.1" y="509.4" width="10.05" height="10.05"/>
<rect x="104.15" y="509.4" width="10.05" height="10.05"/>
<rect x="114.2" y="509.4" width="10.05" height="10.05"/>
<rect x="124.25" y="509.4" width="10.05" height="10.05"/>
<rect x="134.3" y="509.4" width="10.05" height="10.05"/>
<rect x="144.35" y="509.4" width="10.05" height="10.05"/>
<rect x="154.4" y="509.4" width="10.05" height="10.05"/>
<rect x="164.45" y="509.4" width="10.05" height="10.05"/>
<rect x="174.5" y="509.4" width="10.05" height="10.05"/>
<rect x="184.55" y="509.4" width="10.05" height="10.05"/>
<rect x="194.6" y="509.4" width="10.05" height="10.05"/>
<rect x="204.65" y="509.4" width="10.05" height="10.05"/>
<rect x="214.7" y="509.4" width="10.05" height="10.05"/>
<rect x="224.75" y="509.4" width="10.05" height="10.05"/>
<rect x="234.8" y="509.4" width="10.05" height="10.05"/>
<rect x="244.85" y="509.4" width="10.05" height="10.05"/>
<rect x="254.9" y="509.4" width="10.05" height="10.05"/>
<rect x="264.95" y="509.4" width="10.05" height="10.05"/>
<rect x="275" y="509.4" width="10.05" height="10.05"/>
<rect x="285.05" y="509.4" width="10.05" height="10.05"/>
<rect x="295.1" y="509.4" width="10.05" height="10.05"/>
<rect x="94.1" y="519.45" width="10.05" height="10.05"/>
<rect x="104.15" y="519.45" width="10.05" height="10.05"/>
<rect x="114.2" y="519.45" width="10.05" height="10.05"/>
<rect x="124.25" y="519.45" width="10.05" height="10.05"/>
<rect x="134.3" y="519.45" width="10.05" height="10.05"/>
<rect x="144.35" y="519.45" width="10.05" height="10.05"/>
<rect x="154.4" y="519.45" width="10.05" height="10.05"/>
<rect x="164.45" y="519.45" width="10.05" height="10.05"/>
<rect x="174.5" y="519.45" width="10.05" height="10.05"/>
<rect x="184.55" y="519.45" width="10.05" height="10.05"/>
<rect x="194.6" y="519.45" width="10.05" height="10.05"/>
<rect x="204.65" y="519.45" width="10.05" height="10.05"/>
<rect x="214.7" y="519.45" width="10.05" height="10.05"/>
<rect x="224.75" y="519.45" width="10.05" height="10.05"/>
<rect x="234.8" y="519.45" width="10.05" height="10.05"/>
<rect x="244.85" y="519.45" width="10.05" height="10.05"/>
<rect x="254.9" y="519.45" width="10.05" height="10.05"/>
<rect x="264.95" y="519.45" width="10.05" height="10.05"/>
<rect x="275" y="519.45" width="10.05" height="10.05"/>
<rect x="285.05" y="519.45" width="10.05" height="10.05"/>
<rect x="295.1" y="519.45" width="10.05" height="10.05"/>
<rect x="305.15" y="519.45" width="10.05" height="10.05"/>
<rect x="94.1" y="529.5" width="10.05" height="10.05"/>
<rect x="104.15" y="529.5" width="10.05" height="10.05"/>
<rect x="114.2" y="529.5" width="10.05" height="10.05"/>
<rect x="124.25" y="529.5" width="10.05" height="10.05"/>
<rect x="134.3" y="529.5" width="10.05" height="10.05"/>
<rect x="144.35" y="529.5" width="10.05" height="10.05"/>
<rect x="154.4" y="529.5" width="10.05" height="10.05"/>
<rect x="164.45" y="529.5" width="10.05" height="10.05"/>
<rect x="174.5" y="529.5" width="10.05" height="10.05"/>
<rect x="184.55" y="529.5" width="10.05" height="10.05"/>
<rect x="194.6" y="529.5" width="10.05" height="10.05"/>
<rect x="204.65" y="529.5" width="10.05" height="10.05"/>
<rect x="214.7" y="529.5" width="10.05" height="10.05"/>
<rect x="224.75" y="529.5" width="10.05" height="10.05"/>
<rect x="234.8" y="529.5" width="10.05" height="10.05"/>
<rect x="244.85" y="529.5" width="10.05" height="10.05"/>
<rect x="254.9" y="529.5" width="10.05" height="10.05"/>
<rect x="264.95" y="529.5" width="10.05" height="10.05"/>
<rect x="275" y="529.5" width="10.05" height="10.05"/>
<rect x="285.05" y="529.5" width="10.05" height="10.05"/>
<rect x="295.1" y="529.5" width="10.05" height="10.05"/>
<rect x="305.15" y="529.5" width="10.05" height="10.05"/>
<rect x="315.2" y="529.5" width="10.05" height="10.05"/>
<rect x="94.1" y="539.55" width="10.05" height="10.05"/>
<rect x="104.15" y="539.55" width="10.05" height="10.05"/>
<rect x="114.2" y="539.55" width="10.05" height="10.05"/>
<rect x="124.25" y="539.55" width="10.05" height="10.05"/>
<rect x="134.3" y="539.55" width="10.05" height="10.05"/>
<rect x="144.35" y="539.55" width="10.05" height="10.05"/>
<rect x="154.4" y="539.55" width="10.05" height="10.05"/>
<rect x="164.45" y="539.55" width="10.05" height="10.05"/>
<rect x="174.5" y="539.55" width="10.05" height="10.05"/>
<rect x="184.55" y="539.55" width="10.05" height="10.05"/>
<rect x="194.6" y="539.55" width="10.05" height="10.05"/>
<rect x="204.65" y="539.55" width="10.05" height="10.05"/>
<rect x="214.7" y="539.55" width="10.05" height="10.05"/>
<rect x="224.75" y="539.55" width="10.05" height="10.05"/>
<rect x="234.8" y="539.55" width="10.05" height="10.05"/>
<rect x="244.85" y="539.55" width="10.05" height="10.05"/>
<rect x="254.9" y="539.55" width="10.05" height="10.05"/>
<rect x="264.95" y="539.55" width="10.05" height="10.05"/>
<rect x="275" y="539.55" width="10.05" height="10.05"/>
<rect x="285.05" y="539.55" width="10.05" height="10.05"/>
<rect x="295.1" y="539.55" width="10.05" height="10.05"/>
<rect x="305.15" y="539.55" width="10.05" height="10.05"/>
<rect x="315.2" y="539.55" width="10.05" height="10.05"/>
<rect x="325.25" y="539.55" width="10.05" height="10.05"/>
</g>
<rect x="96.93" y="311.23" width="4.38" height="4.38" fill="#fedb8b" stroke="#808080" stroke-opacity="0.6" stroke-width="0.5"/>
<rect x="95.99" y="320.34" width="6.27" height="6.27" fill="#fb9e5a" stroke="#808080" stroke-opacity="0.6" stroke-width="0.5"/>
<rect x="105.21" y="319.51" width="7.93" height="7.93" fill="#588bc0" stroke="#808080" stroke-opacity="0.6" stroke-width="0.5"/>
<rect x="96.93" y="331.33" width="4.38" height="4.38" fill="#fedb8b" stroke="#808080" stroke-opacity="0.6" stroke-width="0.5"/>
<rect x="108.51" y="332.86" width="1.32" height="1.32" fill="#fcfec5" stroke="#808080" stroke-opacity="0.6" stroke-width="0.5"/>
<rect x="118.42" y="332.72" width="1.62" height="1.62" fill="#fafdc8" stroke="#808080" stroke-opacity="0.6" stroke-width="0.5"/>
<rect x="97.51" y="341.96" width="3.24" height="3.24" fill="#feeca3" stroke="#808080" stroke-opacity="0.6" stroke-width="0.5"/>
<rect x="107.56" y="341.96" width="3.24" height="3.24" fill="#feeca3" stroke="#808080" stroke-opacity="0.6" stroke-width="0.5"/>
<rect x="117.14" y="341.49" width="4.18" height="4.18" fill="#fee090" stroke="#808080" stroke-opacity="0.6" stroke-width="0.5"/>
<rect x="125.23" y="339.53" width="8.09" height="8.09" fill="#5183bb" stroke="#808080" stroke-opacity="0.6" stroke-width="0.5"/>
<rect x="97.32" y="351.82" width="3.62" height="3.62" fill="#e8f6ea" stroke="#808080" stroke-opacity="0.6" stroke-width="0.5"/>
<rect x="105.94" y="350.39" width="6.48" height="6.48" fill="#f99455" stroke="#808080" stroke-opacity="0.6" stroke-width="0.5"/>
<rect x="115.99" y="350.39" width="6.48" height="6.48" fill="#f99455" stroke="#808080" stroke-opacity="0.6" stroke-width="0.5"/>
<rect x="127.47" y="351.82" width="3.62" height="3.62" fill="#fee89c" stroke="#808080" stroke-opacity="0.6" stroke-width="0.5"/>
<rect x="138.86" y="353.16" width="0.93" height="0.93" fill="#fdfec2" stroke="#808080" stroke-opacity="0.6" stroke-width="0.5"/>
<rect x="97.51" y="362.06" width="3.24" height="3.24" fill="#feeca3" stroke="#808080" stroke-opacity="0.6" stroke-width="0.5"/>
<rect x="105.71" y="360.21" width="6.93" height="6.93" fill="#82b8d7" stroke="#808080" stroke-opacity="0.6" stroke-width="0.5"/>
<rect x="115.76" y="360.21" width="6.93" height="6.93" fill="#82b8d7" stroke="#808080" stroke-opacity="0.6" stroke-width="0.5"/>
<rect x="127.95" y="362.35" width="2.64" height="2.64" fill="#f3fad6" stroke="#808080" stroke-opacity="0.6" stroke-width="0.5"/>
<rect x="137.85" y="362.2" width="2.96" height="2.96" fill="#fef0a8" stroke="#808080" stroke-opacity="0.6" stroke-width="0.5"/>
<rect x="144.73" y="359.03" width="9.3" height="9.3" fill="#a80226" stroke="#808080" stroke-opacity="0.6" stroke-width="0.5"/>
<rect x="98.08" y="372.68" width="2.09" height="2.09" fill="#fff7b3" stroke="#808080" stroke-opacity="0.6" stroke-width="0.5"/>
<rect x="107.94" y="372.49" width="2.47" height="2.47" fill="#fff4af" stroke="#808080" stroke-opacity="0.6" stroke-width="0.5"/>
<rect x="117.24" y="371.74" width="3.97" height="3.97" fill="#fee395" stroke="#808080" stroke-opacity="0.6" stroke-width="0.5"/>
<rect x="128.81" y="373.26" width="0.93" height="0.93" fill="#fdfec2" stroke="#808080" stroke-opacity="0.6" stroke-width="0.5"/>
<rect x="138.86" y="373.26" width="0.93" height="0.93" fill="#fdfec2" stroke="#808080" stroke-opacity="0.6" stroke-width="0.5"/>
<rect x="146.82" y="371.17" width="5.12" height="5.12" fill="#c6e6f0" stroke="#808080" stroke-opacity="0.6" stroke-width="0.5"/>
<rect x="156.87" y="371.17" width="5.12" height="5.12" fill="#fec778" stroke="#808080" stroke-opacity="0.6" stroke-width="0.5"/>
<rect x="97.04" y="381.69" width="4.18" height="4.18" fill="#e0f3f8" stroke="#808080" stroke-opacity="0.6" stroke-width="0.5"/>
<rect x="106.04" y="380.64" width="6.27" height="6.27" fill="#fb9e5a" stroke="#808080" stroke-opacity="0.6" stroke-width="0.5"/>
<rect x="116.09" y="380.64" width="6.27" height="6.27" fill="#fb9e5a" stroke="#808080" stroke-opacity="0.6" stroke-width="0.5"/>
<rect x="127.8" y="382.3" width="2.96" height="2.96" fill="#f0f9dc" stroke="#808080" stroke-opacity="0.6" stroke-width="0.5"/>
<rect x="137.13" y="381.58" width="4.38" height="4.38" fill="#dbf0f6" stroke="#808080" stroke-opacity="0.6" stroke-width="0.5"/>
<rect x="146.49" y="380.89" width="5.76" height="5.76" fill="#b0dcea" stroke="#808080" stroke-opacity="0.6" stroke-width="0.5"/>
<rect x="156.47" y="380.82" width="5.91" height="5.91" fill="#fdae61" stroke="#808080" stroke-opacity="0.6" stroke-width="0.5"/>
<rect x="165.86" y="380.16" width="7.24" height="7.24" fill="#f46d43" stroke="#808080" stroke-opacity="0.6" stroke-width="0.5"/>
<rect x="97.04" y="391.74" width="4.18" height="4.18" fill="#fee090" stroke="#808080" stroke-opacity="0.6" stroke-width="0.5"/>
<rect x="105.5" y="390.15" width="7.36" height="7.36" fill="#6fa7ce" stroke="#808080" stroke-opacity="0.6" stroke-width="0.5"/>
<rect x="115.55" y="390.15" width="7.36" height="7.36" fill="#6fa7ce" stroke="#808080" stroke-opacity="0.6" stroke-width="0.5"/>
<rect x="127.8" y="392.35" width="2.96" height="2.96" fill="#fef0a8" stroke="#808080" stroke-opacity="0.6" stroke-width="0.5"/>
<rect x="136.77" y="391.27" width="5.12" height="5.12" fill="#fec778" stroke="#808080" stroke-opacity="0.6" stroke-width="0.5"/>
<rect x="145.76" y="390.21" width="7.24" height="7.24" fill="#f46d43" stroke="#808080" stroke-opacity="0.6" stroke-width="0.5"/>
<rect x="155.63" y="390.03" width="7.59" height="7.59" fill="#669cc8" stroke="#808080" stroke-opacity="0.6" stroke-width="0.5"/>
<rect x="166.52" y="390.87" width="5.91" height="5.91" fill="#fdae61" stroke="#808080" stroke-opacity="0.6" stroke-width="0.5"/>
<rect x="176.64" y="390.94" width="5.76" height="5.76" fill="#fdb366" stroke="#808080" stroke-opacity="0.6" stroke-width="0.5"/>
<rect x="96.36" y="401.11" width="5.53" height="5.53" fill="#fdba6d" stroke="#808080" stroke-opacity="0.6" stroke-width="0.5"/>
<rect x="108.13" y="402.83" width="2.09" height="2.09" fill="#f7fccd" stroke="#808080" stroke-opacity="0.6" stroke-width="0.5"/>
<rect x="117.14" y="401.79" width="4.18" height="4.18" fill="#e0f3f8" stroke="#808080" stroke-opacity="0.6" stroke-width="0.5"/>
<rect x="126.72" y="401.32" width="5.12" height="5.12" fill="#c6e6f0" stroke="#808080" stroke-opacity="0.6" stroke-width="0.5"/>
<rect x="136.44" y="400.99" width="5.76" height="5.76" fill="#b0dcea" stroke="#808080" stroke-opacity="0.6" stroke-width="0.5"/>
<rect x="148.71" y="403.21" width="1.32" height="1.32" fill="#fcfec5" stroke="#808080" stroke-opacity="0.6" stroke-width="0.5"/>
<rect x="158.76" y="403.21" width="1.32" height="1.32" fill="#fcfec5" stroke="#808080" stroke-opacity="0.6" stroke-width="0.5"/>
<rect x="168.43" y="402.83" width="2.09" height="2.09" fill="#fff7b3" stroke="#808080" stroke-opacity="0.6" stroke-width="0.5"/>
<rect x="178.05" y="402.4" width="2.96" height="2.96" fill="#fef0a8" stroke="#808080" stroke-opacity="0.6" stroke-width="0.5"/>
<rect x="188.1" y="402.4" width="2.96" height="2.96" fill="#fef0a8" stroke="#808080" stroke-opacity="0.6" stroke-width="0.5"/>
<rect x="97.65" y="412.45" width="2.96" height="2.96" fill="#f0f9dc" stroke="#808080" stroke-opacity="0.6" stroke-width="0.5"/>
<rect x="106.84" y="411.59" width="4.67" height="4.67" fill="#fed484" stroke="#808080" stroke-opacity="0.6" stroke-width="0.5"/>
<rect x="117.42" y="412.12" width="3.62" height="3.62" fill="#fee89c" stroke="#808080" stroke-opacity="0.6" stroke-width="0.5"/>
<rect x="126.51" y="411.16" width="5.53" height="5.53" fill="#b8e0ed" stroke="#808080" stroke-opacity="0.6" stroke-width="0.5"/>
<rect x="136.37" y="410.97" width="5.91" height="5.91" fill="#abd9e9" stroke="#808080" stroke-opacity="0.6" stroke-width="0.5"/>
<rect x="146.61" y="411.16" width="5.53" height="5.53" fill="#b8e0ed" stroke="#808080" stroke-opacity="0.6" stroke-width="0.5"/>
<rect x="156.47" y="410.97" width="5.91" height="5.91" fill="#fdae61" stroke="#808080" stroke-opacity="0.6" stroke-width="0.5"/>
<rect x="169.01" y="413.46" width="0.93" height="0.93" fill="#fdfec2" stroke="#808080" stroke-opacity="0.6" stroke-width="0.5"/>
<rect x="177.44" y="411.84" width="4.18" height="4.18" fill="#e0f3f8" stroke="#808080" stroke-opacity="0.6" stroke-width="0.5"/>
<rect x="186.62" y="410.97" width="5.91" height="5.91" fill="#fdae61" stroke="#808080" stroke-opacity="0.6" stroke-width="0.5"/>
<rect x="199.16" y="413.46" width="0.93" height="0.93" fill="#fdfec2" stroke="#808080" stroke-opacity="0.6" stroke-width="0.5"/>
<rect x="95.66" y="420.51" width="6.93" height="6.93" fill="#82b8d7" stroke="#808080" stroke-opacity="0.6" stroke-width="0.5"/>
<rect x="106.84" y="421.64" width="4.67" height="4.67" fill="#fed484" stroke="#808080" stroke-opacity="0.6" stroke-width="0.5"/>
<rect x="116.09" y="420.84" width="6.27" height="6.27" fill="#fb9e5a" stroke="#808080" stroke-opacity="0.6" stroke-width="0.5"/>
<rect x="127.8" y="422.5" width="2.96" height="2.96" fill="#f0f9dc" stroke="#808080" stroke-opacity="0.6" stroke-width="0.5"/>
<rect x="138.66" y="423.31" width="1.32" height="1.32" fill="#fcfec5" stroke="#808080" stroke-opacity="0.6" stroke-width="0.5"/>
<rect x="147.39" y="421.99" width="3.97" height="3.97" fill="#fee395" stroke="#808080" stroke-opacity="0.6" stroke-width="0.5"/>
<rect x="156.87" y="421.42" width="5.12" height="5.12" fill="#c6e6f0" stroke="#808080" stroke-opacity="0.6" stroke-width="0.5"/>
<rect x="168.15" y="422.65" width="2.64" height="2.64" fill="#f3fad6" stroke="#808080" stroke-opacity="0.6" stroke-width="0.5"/>
<rect x="177.44" y="421.89" width="4.18" height="4.18" fill="#e0f3f8" stroke="#808080" stroke-opacity="0.6" stroke-width="0.5"/>
<rect x="187.49" y="421.89" width="4.18" height="4.18" fill="#fee090" stroke="#808080" stroke-opacity="0.6" stroke-width="0.5"/>
<rect x="196.6" y="420.95" width="6.06" height="6.06" fill="#fca85e" stroke="#808080" stroke-opacity="0.6" stroke-width="0.5"/>
<rect x="208.63" y="422.93" width="2.09" height="2.09" fill="#fff7b3" stroke="#808080" stroke-opacity="0.6" stroke-width="0.5"/>
<rect x="95.66" y="430.56" width="6.93" height="6.93" fill="#f67d4a" stroke="#808080" stroke-opacity="0.6" stroke-width="0.5"/>
<rect x="107.56" y="432.41" width="3.24" height="3.24" fill="#ecf8e1" stroke="#808080" stroke-opacity="0.6" stroke-width="0.5"/>
<rect x="116.89" y="431.69" width="4.67" height="4.67" fill="#d3ecf4" stroke="#808080" stroke-opacity="0.6" stroke-width="0.5"/>
<rect x="127.66" y="432.41" width="3.24" height="3.24" fill="#ecf8e1" stroke="#808080" stroke-opacity="0.6" stroke-width="0.5"/>
<rect x="137.24" y="431.94" width="4.18" height="4.18" fill="#e0f3f8" stroke="#808080" stroke-opacity="0.6" stroke-width="0.5"/>
<rect x="148.44" y="433.09" width="1.87" height="1.87" fill="#fff9b6" stroke="#808080" stroke-opacity="0.6" stroke-width="0.5"/>
<rect x="158.49" y="433.09" width="1.87" height="1.87" fill="#fff9b6" stroke="#808080" stroke-opacity="0.6" stroke-width="0.5"/>
<rect x="167.86" y="432.41" width="3.24" height="3.24" fill="#ecf8e1" stroke="#808080" stroke-opacity="0.6" stroke-width="0.5"/>
<rect x="177.19" y="431.69" width="4.67" height="4.67" fill="#fed484" stroke="#808080" stroke-opacity="0.6" stroke-width="0.5"/>
<rect x="188.77" y="433.22" width="1.62" height="1.62" fill="#fafdc8" stroke="#808080" stroke-opacity="0.6" stroke-width="0.5"/>
<rect x="196.86" y="431.26" width="5.53" height="5.53" fill="#b8e0ed" stroke="#808080" stroke-opacity="0.6" stroke-width="0.5"/>
<rect x="208.2" y="432.55" width="2.96" height="2.96" fill="#fef0a8" stroke="#808080" stroke-opacity="0.6" stroke-width="0.5"/>
<rect x="216.11" y="430.41" width="7.24" height="7.24" fill="#f46d43" stroke="#808080" stroke-opacity="0.6" stroke-width="0.5"/>
<rect x="95.66" y="440.61" width="6.93" height="6.93" fill="#f67d4a" stroke="#808080" stroke-opacity="0.6" stroke-width="0.5"/>
<rect x="108.24" y="443.14" width="1.87" height="1.87" fill="#f9fdca" stroke="#808080" stroke-opacity="0.6" stroke-width="0.5"/>
<rect x="116.89" y="441.74" width="4.67" height="4.67" fill="#d3ecf4" stroke="#808080" stroke-opacity="0.6" stroke-width="0.5"/>
<rect x="126.94" y="441.74" width="4.67" height="4.67" fill="#d3ecf4" stroke="#808080" stroke-opacity="0.6" stroke-width="0.5"/>
<rect x="136.77" y="441.52" width="5.12" height="5.12" fill="#c6e6f0" stroke="#808080" stroke-opacity="0.6" stroke-width="0.5"/>
<rect x="148.71" y="443.41" width="1.32" height="1.32" fill="#fcfec5" stroke="#808080" stroke-opacity="0.6" stroke-width="0.5"/>
<rect x="158.62" y="443.27" width="1.62" height="1.62" fill="#fafdc8" stroke="#808080" stroke-opacity="0.6" stroke-width="0.5"/>
<rect x="167.39" y="441.99" width="4.18" height="4.18" fill="#e0f3f8" stroke="#808080" stroke-opacity="0.6" stroke-width="0.5"/>
<rect x="177.19" y="441.74" width="4.67" height="4.67" fill="#fed484" stroke="#808080" stroke-opacity="0.6" stroke-width="0.5"/>
<rect x="189.11" y="443.61" width="0.93" height="0.93" fill="#fdfec2" stroke="#808080" stroke-opacity="0.6" stroke-width="0.5"/>
<rect x="196.86" y="441.31" width="5.53" height="5.53" fill="#b8e0ed" stroke="#808080" stroke-opacity="0.6" stroke-width="0.5"/>
<rect x="209.01" y="443.41" width="1.32" height="1.32" fill="#fcfec5" stroke="#808080" stroke-opacity="0.6" stroke-width="0.5"/>
<rect x="216.11" y="440.46" width="7.24" height="7.24" fill="#f46d43" stroke="#808080" stroke-opacity="0.6" stroke-width="0.5"/>
<rect x="225.13" y="439.43" width="9.3" height="9.3" fill="#323997" stroke="#808080" stroke-opacity="0.6" stroke-width="0.5"/>
<rect x="97.32" y="452.32" width="3.62" height="3.62" fill="#e8f6ea" stroke="#808080" stroke-opacity="0.6" stroke-width="0.5"/>
<rect x="107.56" y="452.51" width="3.24" height="3.24" fill="#feeca3" stroke="#808080" stroke-opacity="0.6" stroke-width="0.5"/>
<rect x="116.89" y="451.79" width="4.67" height="4.67" fill="#fed484" stroke="#808080" stroke-opacity="0.6" stroke-width="0.5"/>
<rect x="126.63" y="451.48" width="5.29" height="5.29" fill="#fdc274" stroke="#808080" stroke-opacity="0.6" stroke-width="0.5"/>
<rect x="136.68" y="451.48" width="5.29" height="5.29" fill="#fdc274" stroke="#808080" stroke-opacity="0.6" stroke-width="0.5"/>
<rect x="148.33" y="453.08" width="2.09" height="2.09" fill="#f7fccd" stroke="#808080" stroke-opacity="0.6" stroke-width="0.5"/>
<rect x="158.1" y="452.8" width="2.64" height="2.64" fill="#fff3ac" stroke="#808080" stroke-opacity="0.6" stroke-width="0.5"/>
<rect x="167.14" y="451.79" width="4.67" height="4.67" fill="#fed484" stroke="#808080" stroke-opacity="0.6" stroke-width="0.5"/>
<rect x="176.97" y="451.57" width="5.12" height="5.12" fill="#c6e6f0" stroke="#808080" stroke-opacity="0.6" stroke-width="0.5"/>
<rect x="189.11" y="453.66" width="0.93" height="0.93" fill="#fdfec2" stroke="#808080" stroke-opacity="0.6" stroke-width="0.5"/>
<rect x="196.86" y="451.36" width="5.53" height="5.53" fill="#fdba6d" stroke="#808080" stroke-opacity="0.6" stroke-width="0.5"/>
<rect x="208.06" y="452.51" width="3.24" height="3.24" fill="#feeca3" stroke="#808080" stroke-opacity="0.6" stroke-width="0.5"/>
<rect x="217.92" y="452.32" width="3.62" height="3.62" fill="#e8f6ea" stroke="#808080" stroke-opacity="0.6" stroke-width="0.5"/>
<rect x="227.79" y="452.14" width="3.97" height="3.97" fill="#fee395" stroke="#808080" stroke-opacity="0.6" stroke-width="0.5"/>
<rect x="236.94" y="451.24" width="5.76" height="5.76" fill="#fdb366" stroke="#808080" stroke-opacity="0.6" stroke-width="0.5"/>
<rect x="97.04" y="462.09" width="4.18" height="4.18" fill="#fee090" stroke="#808080" stroke-opacity="0.6" stroke-width="0.5"/>
<rect x="107.7" y="462.7" width="2.96" height="2.96" fill="#f0f9dc" stroke="#808080" stroke-opacity="0.6" stroke-width="0.5"/>
<rect x="117.14" y="462.09" width="4.18" height="4.18" fill="#e0f3f8" stroke="#808080" stroke-opacity="0.6" stroke-width="0.5"/>
<rect x="128.61" y="463.51" width="1.32" height="1.32" fill="#fcfec5" stroke="#808080" stroke-opacity="0.6" stroke-width="0.5"/>
<rect x="137.24" y="462.09" width="4.18" height="4.18" fill="#fee090" stroke="#808080" stroke-opacity="0.6" stroke-width="0.5"/>
<rect x="147.57" y="462.37" width="3.62" height="3.62" fill="#fee89c" stroke="#808080" stroke-opacity="0.6" stroke-width="0.5"/>
<rect x="157.09" y="461.84" width="4.67" height="4.67" fill="#d3ecf4" stroke="#808080" stroke-opacity="0.6" stroke-width="0.5"/>
<rect x="169.01" y="463.71" width="0.93" height="0.93" fill="#fdfec2" stroke="#808080" stroke-opacity="0.6" stroke-width="0.5"/>
<rect x="177.19" y="461.84" width="4.67" height="4.67" fill="#fed484" stroke="#808080" stroke-opacity="0.6" stroke-width="0.5"/>
<rect x="189.24" y="463.84" width="0.66" height="0.66" fill="#feffc0" stroke="#808080" stroke-opacity="0.6" stroke-width="0.5"/>
<rect x="198.3" y="462.85" width="2.64" height="2.64" fill="#fff3ac" stroke="#808080" stroke-opacity="0.6" stroke-width="0.5"/>
<rect x="209.21" y="463.71" width="0.93" height="0.93" fill="#fdfec2" stroke="#808080" stroke-opacity="0.6" stroke-width="0.5"/>
<rect x="217.17" y="461.62" width="5.12" height="5.12" fill="#c6e6f0" stroke="#808080" stroke-opacity="0.6" stroke-width="0.5"/>
<rect x="227.44" y="461.84" width="4.67" height="4.67" fill="#fed484" stroke="#808080" stroke-opacity="0.6" stroke-width="0.5"/>
<rect x="237.74" y="462.09" width="4.18" height="4.18" fill="#fee090" stroke="#808080" stroke-opacity="0.6" stroke-width="0.5"/>
<rect x="248.26" y="462.56" width="3.24" height="3.24" fill="#feeca3" stroke="#808080" stroke-opacity="0.6" stroke-width="0.5"/>
<rect x="96.57" y="471.67" width="5.12" height="5.12" fill="#c6e6f0" stroke="#808080" stroke-opacity="0.6" stroke-width="0.5"/>
<rect x="107.7" y="472.75" width="2.96" height="2.96" fill="#fef0a8" stroke="#808080" stroke-opacity="0.6" stroke-width="0.5"/>
<rect x="117.9" y="472.9" width="2.64" height="2.64" fill="#fff3ac" stroke="#808080" stroke-opacity="0.6" stroke-width="0.5"/>
<rect x="127.95" y="472.9" width="2.64" height="2.64" fill="#f3fad6" stroke="#808080" stroke-opacity="0.6" stroke-width="0.5"/>
<rect x="137.85" y="472.75" width="2.96" height="2.96" fill="#f0f9dc" stroke="#808080" stroke-opacity="0.6" stroke-width="0.5"/>
<rect x="148.23" y="473.08" width="2.29" height="2.29" fill="#f6fbd0" stroke="#808080" stroke-opacity="0.6" stroke-width="0.5"/>
<rect x="158.19" y="472.99" width="2.47" height="2.47" fill="#fff4af" stroke="#808080" stroke-opacity="0.6" stroke-width="0.5"/>
<rect x="167.67" y="472.42" width="3.62" height="3.62" fill="#e8f6ea" stroke="#808080" stroke-opacity="0.6" stroke-width="0.5"/>
<rect x="178.48" y="473.18" width="2.09" height="2.09" fill="#f7fccd" stroke="#808080" stroke-opacity="0.6" stroke-width="0.5"/>
<rect x="189.11" y="473.76" width="0.93" height="0.93" fill="#fdfec2" stroke="#808080" stroke-opacity="0.6" stroke-width="0.5"/>
<rect x="198.3" y="472.9" width="2.64" height="2.64" fill="#fff3ac" stroke="#808080" stroke-opacity="0.6" stroke-width="0.5"/>
<rect x="208.63" y="473.18" width="2.09" height="2.09" fill="#fff7b3" stroke="#808080" stroke-opacity="0.6" stroke-width="0.5"/>
<rect x="217.74" y="472.24" width="3.97" height="3.97" fill="#e3f4f2" stroke="#808080" stroke-opacity="0.6" stroke-width="0.5"/>
<rect x="227.44" y="471.89" width="4.67" height="4.67" fill="#fed484" stroke="#808080" stroke-opacity="0.6" stroke-width="0.5"/>
<rect x="237.74" y="472.14" width="4.18" height="4.18" fill="#fee090" stroke="#808080" stroke-opacity="0.6" stroke-width="0.5"/>
<rect x="247.23" y="471.58" width="5.29" height="5.29" fill="#fdc274" stroke="#808080" stroke-opacity="0.6" stroke-width="0.5"/>
<rect x="256.9" y="471.2" width="6.06" height="6.06" fill="#fca85e" stroke="#808080" stroke-opacity="0.6" stroke-width="0.5"/>
<rect x="96.79" y="481.94" width="4.67" height="4.67" fill="#fed484" stroke="#808080" stroke-opacity="0.6" stroke-width="0.5"/>
<rect x="107.37" y="482.47" width="3.62" height="3.62" fill="#e8f6ea" stroke="#808080" stroke-opacity="0.6" stroke-width="0.5"/>
<rect x="116.67" y="481.72" width="5.12" height="5.12" fill="#c6e6f0" stroke="#808080" stroke-opacity="0.6" stroke-width="0.5"/>
<rect x="127.8" y="482.8" width="2.96" height="2.96" fill="#f0f9dc" stroke="#808080" stroke-opacity="0.6" stroke-width="0.5"/>
<rect x="137.24" y="482.19" width="4.18" height="4.18" fill="#e0f3f8" stroke="#808080" stroke-opacity="0.6" stroke-width="0.5"/>
<rect x="148.33" y="483.23" width="2.09" height="2.09" fill="#f7fccd" stroke="#808080" stroke-opacity="0.6" stroke-width="0.5"/>
<rect x="157.34" y="482.19" width="4.18" height="4.18" fill="#fee090" stroke="#808080" stroke-opacity="0.6" stroke-width="0.5"/>
<rect x="168.43" y="483.23" width="2.09" height="2.09" fill="#fff7b3" stroke="#808080" stroke-opacity="0.6" stroke-width="0.5"/>
<rect x="177.54" y="482.29" width="3.97" height="3.97" fill="#fee395" stroke="#808080" stroke-opacity="0.6" stroke-width="0.5"/>
<rect x="188.53" y="483.23" width="2.09" height="2.09" fill="#fff7b3" stroke="#808080" stroke-opacity="0.6" stroke-width="0.5"/>
<rect x="196.86" y="481.51" width="5.53" height="5.53" fill="#b8e0ed" stroke="#808080" stroke-opacity="0.6" stroke-width="0.5"/>
<rect x="207.69" y="482.29" width="3.97" height="3.97" fill="#e3f4f2" stroke="#808080" stroke-opacity="0.6" stroke-width="0.5"/>
<rect x="216.26" y="480.81" width="6.93" height="6.93" fill="#f67d4a" stroke="#808080" stroke-opacity="0.6" stroke-width="0.5"/>
<rect x="227.01" y="481.51" width="5.53" height="5.53" fill="#b8e0ed" stroke="#808080" stroke-opacity="0.6" stroke-width="0.5"/>
<rect x="237.06" y="481.51" width="5.53" height="5.53" fill="#b8e0ed" stroke="#808080" stroke-opacity="0.6" stroke-width="0.5"/>
<rect x="246.57" y="480.97" width="6.61" height="6.61" fill="#f88e52" stroke="#808080" stroke-opacity="0.6" stroke-width="0.5"/>
<rect x="257.04" y="481.39" width="5.76" height="5.76" fill="#fdb366" stroke="#808080" stroke-opacity="0.6" stroke-width="0.5"/>
<rect x="269.31" y="483.61" width="1.32" height="1.32" fill="#fcfec5" stroke="#808080" stroke-opacity="0.6" stroke-width="0.5"/>
<rect x="96.48" y="491.68" width="5.29" height="5.29" fill="#fdc274" stroke="#808080" stroke-opacity="0.6" stroke-width="0.5"/>
<rect x="106.62" y="491.77" width="5.12" height="5.12" fill="#c6e6f0" stroke="#808080" stroke-opacity="0.6" stroke-width="0.5"/>
<rect x="116.67" y="491.77" width="5.12" height="5.12" fill="#c6e6f0" stroke="#808080" stroke-opacity="0.6" stroke-width="0.5"/>
<rect x="128.47" y="493.52" width="1.62" height="1.62" fill="#fafdc8" stroke="#808080" stroke-opacity="0.6" stroke-width="0.5"/>
<rect x="138.28" y="493.28" width="2.09" height="2.09" fill="#f7fccd" stroke="#808080" stroke-opacity="0.6" stroke-width="0.5"/>
<rect x="146.73" y="491.68" width="5.29" height="5.29" fill="#fdc274" stroke="#808080" stroke-opacity="0.6" stroke-width="0.5"/>
<rect x="157.09" y="491.99" width="4.67" height="4.67" fill="#d3ecf4" stroke="#808080" stroke-opacity="0.6" stroke-width="0.5"/>
<rect x="168.43" y="493.28" width="2.09" height="2.09" fill="#f7fccd" stroke="#808080" stroke-opacity="0.6" stroke-width="0.5"/>
<rect x="176.57" y="491.37" width="5.91" height="5.91" fill="#fdae61" stroke="#808080" stroke-opacity="0.6" stroke-width="0.5"/>
<rect x="187.1" y="491.85" width="4.95" height="4.95" fill="#cbe9f2" stroke="#808080" stroke-opacity="0.6" stroke-width="0.5"/>
<rect x="197.43" y="492.13" width="4.38" height="4.38" fill="#dbf0f6" stroke="#808080" stroke-opacity="0.6" stroke-width="0.5"/>
<rect x="207.34" y="491.99" width="4.67" height="4.67" fill="#fed484" stroke="#808080" stroke-opacity="0.6" stroke-width="0.5"/>
<rect x="216.77" y="491.37" width="5.91" height="5.91" fill="#fdae61" stroke="#808080" stroke-opacity="0.6" stroke-width="0.5"/>
<rect x="226.64" y="491.19" width="6.27" height="6.27" fill="#9dcee3" stroke="#808080" stroke-opacity="0.6" stroke-width="0.5"/>
<rect x="236.94" y="491.44" width="5.76" height="5.76" fill="#b0dcea" stroke="#808080" stroke-opacity="0.6" stroke-width="0.5"/>
<rect x="246.85" y="491.3" width="6.06" height="6.06" fill="#fca85e" stroke="#808080" stroke-opacity="0.6" stroke-width="0.5"/>
<rect x="257.16" y="491.56" width="5.53" height="5.53" fill="#fdba6d" stroke="#808080" stroke-opacity="0.6" stroke-width="0.5"/>
<rect x="269.17" y="493.52" width="1.62" height="1.62" fill="#fafdc8" stroke="#808080" stroke-opacity="0.6" stroke-width="0.5"/>
<rect x="277.26" y="491.56" width="5.53" height="5.53" fill="#b8e0ed" stroke="#808080" stroke-opacity="0.6" stroke-width="0.5"/>
<rect x="95.99" y="501.24" width="6.27" height="6.27" fill="#fb9e5a" stroke="#808080" stroke-opacity="0.6" stroke-width="0.5"/>
<rect x="107.7" y="502.9" width="2.96" height="2.96" fill="#fef0a8" stroke="#808080" stroke-opacity="0.6" stroke-width="0.5"/>
<rect x="118.18" y="503.33" width="2.09" height="2.09" fill="#fff7b3" stroke="#808080" stroke-opacity="0.6" stroke-width="0.5"/>
<rect x="126.72" y="501.82" width="5.12" height="5.12" fill="#c6e6f0" stroke="#808080" stroke-opacity="0.6" stroke-width="0.5"/>
<rect x="138.09" y="503.14" width="2.47" height="2.47" fill="#f4fbd3" stroke="#808080" stroke-opacity="0.6" stroke-width="0.5"/>
<rect x="147.39" y="502.39" width="3.97" height="3.97" fill="#fee395" stroke="#808080" stroke-opacity="0.6" stroke-width="0.5"/>
<rect x="157.34" y="502.29" width="4.18" height="4.18" fill="#e0f3f8" stroke="#808080" stroke-opacity="0.6" stroke-width="0.5"/>
<rect x="168.15" y="503.05" width="2.64" height="2.64" fill="#f3fad6" stroke="#808080" stroke-opacity="0.6" stroke-width="0.5"/>
<rect x="177.44" y="502.29" width="4.18" height="4.18" fill="#fee090" stroke="#808080" stroke-opacity="0.6" stroke-width="0.5"/>
<rect x="188.25" y="503.05" width="2.64" height="2.64" fill="#fff3ac" stroke="#808080" stroke-opacity="0.6" stroke-width="0.5"/>
<rect x="198.48" y="503.23" width="2.29" height="2.29" fill="#fff6b1" stroke="#808080" stroke-opacity="0.6" stroke-width="0.5"/>
<rect x="208.63" y="503.33" width="2.09" height="2.09" fill="#fff7b3" stroke="#808080" stroke-opacity="0.6" stroke-width="0.5"/>
<rect x="218.68" y="503.33" width="2.09" height="2.09" fill="#f7fccd" stroke="#808080" stroke-opacity="0.6" stroke-width="0.5"/>
<rect x="227.01" y="501.61" width="5.53" height="5.53" fill="#b8e0ed" stroke="#808080" stroke-opacity="0.6" stroke-width="0.5"/>
<rect x="237.06" y="501.61" width="5.53" height="5.53" fill="#b8e0ed" stroke="#808080" stroke-opacity="0.6" stroke-width="0.5"/>
<rect x="249.41" y="503.91" width="0.93" height="0.93" fill="#fdfec2" stroke="#808080" stroke-opacity="0.6" stroke-width="0.5"/>
<rect x="257.37" y="501.82" width="5.12" height="5.12" fill="#c6e6f0" stroke="#808080" stroke-opacity="0.6" stroke-width="0.5"/>
<rect x="267.89" y="502.29" width="4.18" height="4.18" fill="#fee090" stroke="#808080" stroke-opacity="0.6" stroke-width="0.5"/>
<rect x="277" y="501.35" width="6.06" height="6.06" fill="#fca85e" stroke="#808080" stroke-opacity="0.6" stroke-width="0.5"/>
<rect x="289.27" y="503.57" width="1.62" height="1.62" fill="#fafdc8" stroke="#808080" stroke-opacity="0.6" stroke-width="0.5"/>
<rect x="97.04" y="512.34" width="4.18" height="4.18" fill="#fee090" stroke="#808080" stroke-opacity="0.6" stroke-width="0.5"/>
<rect x="107.56" y="512.81" width="3.24" height="3.24" fill="#feeca3" stroke="#808080" stroke-opacity="0.6" stroke-width="0.5"/>
<rect x="117.24" y="512.44" width="3.97" height="3.97" fill="#fee395" stroke="#808080" stroke-opacity="0.6" stroke-width="0.5"/>
<rect x="127.19" y="512.34" width="4.18" height="4.18" fill="#e0f3f8" stroke="#808080" stroke-opacity="0.6" stroke-width="0.5"/>
<rect x="138.86" y="513.96" width="0.93" height="0.93" fill="#fdfec2" stroke="#808080" stroke-opacity="0.6" stroke-width="0.5"/>
<rect x="147.76" y="512.81" width="3.24" height="3.24" fill="#ecf8e1" stroke="#808080" stroke-opacity="0.6" stroke-width="0.5"/>
<rect x="158.1" y="513.1" width="2.64" height="2.64" fill="#fff3ac" stroke="#808080" stroke-opacity="0.6" stroke-width="0.5"/>
<rect x="166.92" y="511.87" width="5.12" height="5.12" fill="#c6e6f0" stroke="#808080" stroke-opacity="0.6" stroke-width="0.5"/>
<rect x="178.59" y="513.49" width="1.87" height="1.87" fill="#f9fdca" stroke="#808080" stroke-opacity="0.6" stroke-width="0.5"/>
<rect x="187.49" y="512.34" width="4.18" height="4.18" fill="#fee090" stroke="#808080" stroke-opacity="0.6" stroke-width="0.5"/>
<rect x="198.48" y="513.28" width="2.29" height="2.29" fill="#fff6b1" stroke="#808080" stroke-opacity="0.6" stroke-width="0.5"/>
<rect x="208.06" y="512.81" width="3.24" height="3.24" fill="#feeca3" stroke="#808080" stroke-opacity="0.6" stroke-width="0.5"/>
<rect x="219.39" y="514.09" width="0.66" height="0.66" fill="#feffc0" stroke="#808080" stroke-opacity="0.6" stroke-width="0.5"/>
<rect x="227.44" y="512.09" width="4.67" height="4.67" fill="#d3ecf4" stroke="#808080" stroke-opacity="0.6" stroke-width="0.5"/>
<rect x="237.49" y="512.09" width="4.67" height="4.67" fill="#d3ecf4" stroke="#808080" stroke-opacity="0.6" stroke-width="0.5"/>
<rect x="248.07" y="512.62" width="3.62" height="3.62" fill="#fee89c" stroke="#808080" stroke-opacity="0.6" stroke-width="0.5"/>
<rect x="257.94" y="512.44" width="3.97" height="3.97" fill="#fee395" stroke="#808080" stroke-opacity="0.6" stroke-width="0.5"/>
<rect x="267.99" y="512.44" width="3.97" height="3.97" fill="#fee395" stroke="#808080" stroke-opacity="0.6" stroke-width="0.5"/>
<rect x="277.94" y="512.34" width="4.18" height="4.18" fill="#fee090" stroke="#808080" stroke-opacity="0.6" stroke-width="0.5"/>
<rect x="288.27" y="512.62" width="3.62" height="3.62" fill="#e8f6ea" stroke="#808080" stroke-opacity="0.6" stroke-width="0.5"/>
<rect x="298.04" y="512.34" width="4.18" height="4.18" fill="#e0f3f8" stroke="#808080" stroke-opacity="0.6" stroke-width="0.5"/>
<rect x="95.51" y="520.86" width="7.24" height="7.24" fill="#74add1" stroke="#808080" stroke-opacity="0.6" stroke-width="0.5"/>
<rect x="106.62" y="521.92" width="5.12" height="5.12" fill="#fec778" stroke="#808080" stroke-opacity="0.6" stroke-width="0.5"/>
<rect x="116.09" y="521.34" width="6.27" height="6.27" fill="#fb9e5a" stroke="#808080" stroke-opacity="0.6" stroke-width="0.5"/>
<rect x="127.8" y="523" width="2.96" height="2.96" fill="#fef0a8" stroke="#808080" stroke-opacity="0.6" stroke-width="0.5"/>
<rect x="136.99" y="522.14" width="4.67" height="4.67" fill="#d3ecf4" stroke="#808080" stroke-opacity="0.6" stroke-width="0.5"/>
<rect x="146.82" y="521.92" width="5.12" height="5.12" fill="#c6e6f0" stroke="#808080" stroke-opacity="0.6" stroke-width="0.5"/>
<rect x="156.87" y="521.92" width="5.12" height="5.12" fill="#fec778" stroke="#808080" stroke-opacity="0.6" stroke-width="0.5"/>
<rect x="167.39" y="522.39" width="4.18" height="4.18" fill="#e0f3f8" stroke="#808080" stroke-opacity="0.6" stroke-width="0.5"/>
<rect x="176.97" y="521.92" width="5.12" height="5.12" fill="#c6e6f0" stroke="#808080" stroke-opacity="0.6" stroke-width="0.5"/>
<rect x="187.02" y="521.92" width="5.12" height="5.12" fill="#fec778" stroke="#808080" stroke-opacity="0.6" stroke-width="0.5"/>
<rect x="196.86" y="521.71" width="5.53" height="5.53" fill="#fdba6d" stroke="#808080" stroke-opacity="0.6" stroke-width="0.5"/>
<rect x="207.12" y="521.92" width="5.12" height="5.12" fill="#c6e6f0" stroke="#808080" stroke-opacity="0.6" stroke-width="0.5"/>
<rect x="217.25" y="522" width="4.95" height="4.95" fill="#cbe9f2" stroke="#808080" stroke-opacity="0.6" stroke-width="0.5"/>
<rect x="228.3" y="523" width="2.96" height="2.96" fill="#fef0a8" stroke="#808080" stroke-opacity="0.6" stroke-width="0.5"/>
<rect x="238.68" y="523.33" width="2.29" height="2.29" fill="#fff6b1" stroke="#808080" stroke-opacity="0.6" stroke-width="0.5"/>
<rect x="248.55" y="523.15" width="2.64" height="2.64" fill="#fff3ac" stroke="#808080" stroke-opacity="0.6" stroke-width="0.5"/>
<rect x="257.45" y="522" width="4.95" height="4.95" fill="#fecc7d" stroke="#808080" stroke-opacity="0.6" stroke-width="0.5"/>
<rect x="268.5" y="523" width="2.96" height="2.96" fill="#f0f9dc" stroke="#808080" stroke-opacity="0.6" stroke-width="0.5"/>
<rect x="278.22" y="522.67" width="3.62" height="3.62" fill="#fee89c" stroke="#808080" stroke-opacity="0.6" stroke-width="0.5"/>
<rect x="287.05" y="521.45" width="6.06" height="6.06" fill="#fca85e" stroke="#808080" stroke-opacity="0.6" stroke-width="0.5"/>
<rect x="298.04" y="522.39" width="4.18" height="4.18" fill="#fee090" stroke="#808080" stroke-opacity="0.6" stroke-width="0.5"/>
<rect x="308.56" y="522.86" width="3.24" height="3.24" fill="#feeca3" stroke="#808080" stroke-opacity="0.6" stroke-width="0.5"/>
<rect x="95.99" y="531.39" width="6.27" height="6.27" fill="#9dcee3" stroke="#808080" stroke-opacity="0.6" stroke-width="0.5"/>
<rect x="108.24" y="533.59" width="1.87" height="1.87" fill="#fff9b6" stroke="#808080" stroke-opacity="0.6" stroke-width="0.5"/>
<rect x="116.46" y="531.76" width="5.53" height="5.53" fill="#fdba6d" stroke="#808080" stroke-opacity="0.6" stroke-width="0.5"/>
<rect x="127.8" y="533.05" width="2.96" height="2.96" fill="#fef0a8" stroke="#808080" stroke-opacity="0.6" stroke-width="0.5"/>
<rect x="137.85" y="533.05" width="2.96" height="2.96" fill="#f0f9dc" stroke="#808080" stroke-opacity="0.6" stroke-width="0.5"/>
<rect x="148.57" y="533.72" width="1.62" height="1.62" fill="#fafdc8" stroke="#808080" stroke-opacity="0.6" stroke-width="0.5"/>
<rect x="158.76" y="533.86" width="1.32" height="1.32" fill="#fcfec5" stroke="#808080" stroke-opacity="0.6" stroke-width="0.5"/>
<rect x="167.67" y="532.72" width="3.62" height="3.62" fill="#e8f6ea" stroke="#808080" stroke-opacity="0.6" stroke-width="0.5"/>
<rect x="178.2" y="533.2" width="2.64" height="2.64" fill="#f3fad6" stroke="#808080" stroke-opacity="0.6" stroke-width="0.5"/>
<rect x="188.25" y="533.2" width="2.64" height="2.64" fill="#fff3ac" stroke="#808080" stroke-opacity="0.6" stroke-width="0.5"/>
<rect x="196.86" y="531.76" width="5.53" height="5.53" fill="#fdba6d" stroke="#808080" stroke-opacity="0.6" stroke-width="0.5"/>
<rect x="208.44" y="533.29" width="2.47" height="2.47" fill="#fff4af" stroke="#808080" stroke-opacity="0.6" stroke-width="0.5"/>
<rect x="217.17" y="531.97" width="5.12" height="5.12" fill="#c6e6f0" stroke="#808080" stroke-opacity="0.6" stroke-width="0.5"/>
<rect x="228.84" y="533.59" width="1.87" height="1.87" fill="#fff9b6" stroke="#808080" stroke-opacity="0.6" stroke-width="0.5"/>
<rect x="238.78" y="533.48" width="2.09" height="2.09" fill="#fff7b3" stroke="#808080" stroke-opacity="0.6" stroke-width="0.5"/>
<rect x="248.73" y="533.38" width="2.29" height="2.29" fill="#fff6b1" stroke="#808080" stroke-opacity="0.6" stroke-width="0.5"/>
<rect x="257.94" y="532.54" width="3.97" height="3.97" fill="#fee395" stroke="#808080" stroke-opacity="0.6" stroke-width="0.5"/>
<rect x="268.5" y="533.05" width="2.96" height="2.96" fill="#f0f9dc" stroke="#808080" stroke-opacity="0.6" stroke-width="0.5"/>
<rect x="278.04" y="532.54" width="3.97" height="3.97" fill="#fee395" stroke="#808080" stroke-opacity="0.6" stroke-width="0.5"/>
<rect x="287.31" y="531.76" width="5.53" height="5.53" fill="#fdba6d" stroke="#808080" stroke-opacity="0.6" stroke-width="0.5"/>
<rect x="298.04" y="532.44" width="4.18" height="4.18" fill="#fee090" stroke="#808080" stroke-opacity="0.6" stroke-width="0.5"/>
<rect x="308.7" y="533.05" width="2.96" height="2.96" fill="#fef0a8" stroke="#808080" stroke-opacity="0.6" stroke-width="0.5"/>
<rect x="316.92" y="531.22" width="6.61" height="6.61" fill="#90c3dd" stroke="#808080" stroke-opacity="0.6" stroke-width="0.5"/>
<rect x="95.82" y="541.27" width="6.61" height="6.61" fill="#f88e52" stroke="#808080" stroke-opacity="0.6" stroke-width="0.5"/>
<rect x="108.71" y="544.11" width="0.93" height="0.93" fill="#fdfec2" stroke="#808080" stroke-opacity="0.6" stroke-width="0.5"/>
<rect x="117.75" y="543.1" width="2.96" height="2.96" fill="#f0f9dc" stroke="#808080" stroke-opacity="0.6" stroke-width="0.5"/>
<rect x="127.19" y="542.49" width="4.18" height="4.18" fill="#e0f3f8" stroke="#808080" stroke-opacity="0.6" stroke-width="0.5"/>
<rect x="138.99" y="544.24" width="0.66" height="0.66" fill="#feffc0" stroke="#808080" stroke-opacity="0.6" stroke-width="0.5"/>
<rect x="148.57" y="543.77" width="1.62" height="1.62" fill="#fafdc8" stroke="#808080" stroke-opacity="0.6" stroke-width="0.5"/>
<rect x="158.62" y="543.77" width="1.62" height="1.62" fill="#fafdc8" stroke="#808080" stroke-opacity="0.6" stroke-width="0.5"/>
<rect x="168.15" y="543.25" width="2.64" height="2.64" fill="#fff3ac" stroke="#808080" stroke-opacity="0.6" stroke-width="0.5"/>
<rect x="178.2" y="543.25" width="2.64" height="2.64" fill="#fff3ac" stroke="#808080" stroke-opacity="0.6" stroke-width="0.5"/>
<rect x="188.77" y="543.77" width="1.62" height="1.62" fill="#fafdc8" stroke="#808080" stroke-opacity="0.6" stroke-width="0.5"/>
<rect x="198.69" y="543.64" width="1.87" height="1.87" fill="#f9fdca" stroke="#808080" stroke-opacity="0.6" stroke-width="0.5"/>
<rect x="207.87" y="542.77" width="3.62" height="3.62" fill="#fee89c" stroke="#808080" stroke-opacity="0.6" stroke-width="0.5"/>
<rect x="216.96" y="541.81" width="5.53" height="5.53" fill="#fdba6d" stroke="#808080" stroke-opacity="0.6" stroke-width="0.5"/>
<rect x="226.1" y="540.9" width="7.36" height="7.36" fill="#6fa7ce" stroke="#808080" stroke-opacity="0.6" stroke-width="0.5"/>
<rect x="236.36" y="541.11" width="6.93" height="6.93" fill="#82b8d7" stroke="#808080" stroke-opacity="0.6" stroke-width="0.5"/>
<rect x="249.54" y="544.24" width="0.66" height="0.66" fill="#feffc0" stroke="#808080" stroke-opacity="0.6" stroke-width="0.5"/>
<rect x="258.99" y="543.64" width="1.87" height="1.87" fill="#f9fdca" stroke="#808080" stroke-opacity="0.6" stroke-width="0.5"/>
<rect x="266.95" y="541.55" width="6.06" height="6.06" fill="#fca85e" stroke="#808080" stroke-opacity="0.6" stroke-width="0.5"/>
<rect x="278.7" y="543.25" width="2.64" height="2.64" fill="#fff3ac" stroke="#808080" stroke-opacity="0.6" stroke-width="0.5"/>
<rect x="287.99" y="542.49" width="4.18" height="4.18" fill="#e0f3f8" stroke="#808080" stroke-opacity="0.6" stroke-width="0.5"/>
<rect x="296.82" y="541.27" width="6.61" height="6.61" fill="#90c3dd" stroke="#808080" stroke-opacity="0.6" stroke-width="0.5"/>
<rect x="308.09" y="542.49" width="4.18" height="4.18" fill="#e0f3f8" stroke="#808080" stroke-opacity="0.6" stroke-width="0.5"/>
<rect x="318.42" y="542.77" width="3.62" height="3.62" fill="#fee89c" stroke="#808080" stroke-opacity="0.6" stroke-width="0.5"/>
<rect x="328.29" y="542.59" width="3.97" height="3.97" fill="#fee395" stroke="#808080" stroke-opacity="0.6" stroke-width="0.5"/>
<path d="M98.97 310.27L98.97 312.88M97.85 310.93L100.1 312.22M97.85 312.22L100.1 310.93M95.38 320.32L95.38 322.93M94.25 320.98L96.5 322.27M94.25 322.27L96.5 320.98M98.97 320.32L98.97 322.93M97.85 320.98L100.1 322.27M97.85 322.27L100.1 320.98M102.57 320.32L102.57 322.93M101.45 320.98L103.7 322.27M101.45 322.27L103.7 320.98M105.42 320.32L105.42 322.93M104.3 320.98L106.55 322.27M104.3 322.27L106.55 320.98M109.02 320.32L109.02 322.93M107.9 320.98L110.15 322.27M107.9 322.27L110.15 320.98M112.62 320.32L112.62 322.93M111.5 320.98L113.75 322.27M111.5 322.27L113.75 320.98M98.97 330.38L98.97 332.98M97.85 331.03L100.1 332.32M97.85 332.32L100.1 331.03M125.53 340.43L125.53 343.03M124.4 341.08L126.65 342.38M124.4 342.38L126.65 341.08M129.12 340.43L129.12 343.03M128 341.08L130.25 342.38M128 342.38L130.25 341.08M132.72 340.43L132.72 343.03M131.6 341.08L133.85 342.38M131.6 342.38L133.85 341.08M105.42 350.47L105.42 353.07M104.3 351.12L106.55 352.42M104.3 352.42L106.55 351.12M109.02 350.47L109.02 353.07M107.9 351.12L110.15 352.42M107.9 352.42L110.15 351.12M112.62 350.47L112.62 353.07M111.5 351.12L113.75 352.42M111.5 352.42L113.75 351.12M115.47 350.47L115.47 353.07M114.35 351.12L116.6 352.42M114.35 352.42L116.6 351.12M119.07 350.47L119.07 353.07M117.95 351.12L120.2 352.42M117.95 352.42L120.2 351.12M122.67 350.47L122.67 353.07M121.55 351.12L123.8 352.42M121.55 352.42L123.8 351.12M105.42 360.52L105.42 363.12M104.3 361.18L106.55 362.47M104.3 362.47L106.55 361.18M109.02 360.52L109.02 363.12M107.9 361.18L110.15 362.47M107.9 362.47L110.15 361.18M112.62 360.52L112.62 363.12M111.5 361.18L113.75 362.47M111.5 362.47L113.75 361.18M115.47 360.52L115.47 363.12M114.35 361.18L116.6 362.47M114.35 362.47L116.6 361.18M119.07 360.52L119.07 363.12M117.95 361.18L120.2 362.47M117.95 362.47L120.2 361.18M122.67 360.52L122.67 363.12M121.55 361.18L123.8 362.47M121.55 362.47L123.8 361.18M145.62 360.52L145.62 363.12M144.5 361.18L146.75 362.47M144.5 362.47L146.75 361.18M149.22 360.52L149.22 363.12M148.1 361.18L150.35 362.47M148.1 362.47L150.35 361.18M152.82 360.52L152.82 363.12M151.7 361.18L153.95 362.47M151.7 362.47L153.95 361.18M147.42 370.57L147.42 373.18M146.3 371.23L148.55 372.52M146.3 372.52L148.55 371.23M151.03 370.57L151.03 373.18M149.9 371.23L152.15 372.52M149.9 372.52L152.15 371.23M157.47 370.57L157.47 373.18M156.35 371.23L158.6 372.52M156.35 372.52L158.6 371.23M161.08 370.57L161.08 373.18M159.95 371.23L162.2 372.52M159.95 372.52L162.2 371.23M98.97 380.62L98.97 383.23M97.85 381.28L100.1 382.57M97.85 382.57L100.1 381.28M105.42 380.62L105.42 383.23M104.3 381.28L106.55 382.57M104.3 382.57L106.55 381.28M109.02 380.62L109.02 383.23M107.9 381.28L110.15 382.57M107.9 382.57L110.15 381.28M112.62 380.62L112.62 383.23M111.5 381.28L113.75 382.57M111.5 382.57L113.75 381.28M115.47 380.62L115.47 383.23M114.35 381.28L116.6 382.57M114.35 382.57L116.6 381.28M119.07 380.62L119.07 383.23M117.95 381.28L120.2 382.57M117.95 382.57L120.2 381.28M122.67 380.62L122.67 383.23M121.55 381.28L123.8 382.57M121.55 382.57L123.8 381.28M137.37 380.62L137.37 383.23M136.25 381.28L138.5 382.57M136.25 382.57L138.5 381.28M140.97 380.62L140.97 383.23M139.85 381.28L142.1 382.57M139.85 382.57L142.1 381.28M145.62 380.62L145.62 383.23M144.5 381.28L146.75 382.57M144.5 382.57L146.75 381.28M149.22 380.62L149.22 383.23M148.1 381.28L150.35 382.57M148.1 382.57L150.35 381.28M152.82 380.62L152.82 383.23M151.7 381.28L153.95 382.57M151.7 382.57L153.95 381.28M155.68 380.62L155.68 383.23M154.55 381.28L156.8 382.57M154.55 382.57L156.8 381.28M159.28 380.62L159.28 383.23M158.15 381.28L160.4 382.57M158.15 382.57L160.4 381.28M162.88 380.62L162.88 383.23M161.75 381.28L164 382.57M161.75 382.57L164 381.28M165.72 380.62L165.72 383.23M164.6 381.28L166.85 382.57M164.6 382.57L166.85 381.28M169.32 380.62L169.32 383.23M168.2 381.28L170.45 382.57M168.2 382.57L170.45 381.28M172.92 380.62L172.92 383.23M171.8 381.28L174.05 382.57M171.8 382.57L174.05 381.28M105.42 390.68L105.42 393.28M104.3 391.33L106.55 392.62M104.3 392.62L106.55 391.33M109.02 390.68L109.02 393.28M107.9 391.33L110.15 392.62M107.9 392.62L110.15 391.33M112.62 390.68L112.62 393.28M111.5 391.33L113.75 392.62M111.5 392.62L113.75 391.33M115.47 390.68L115.47 393.28M114.35 391.33L116.6 392.62M114.35 392.62L116.6 391.33M119.07 390.68L119.07 393.28M117.95 391.33L120.2 392.62M117.95 392.62L120.2 391.33M122.67 390.68L122.67 393.28M121.55 391.33L123.8 392.62M121.55 392.62L123.8 391.33M137.37 390.68L137.37 393.28M136.25 391.33L138.5 392.62M136.25 392.62L138.5 391.33M140.97 390.68L140.97 393.28M139.85 391.33L142.1 392.62M139.85 392.62L142.1 391.33M145.62 390.68L145.62 393.28M144.5 391.33L146.75 392.62M144.5 392.62L146.75 391.33M149.22 390.68L149.22 393.28M148.1 391.33L150.35 392.62M148.1 392.62L150.35 391.33M152.82 390.68L152.82 393.28M151.7 391.33L153.95 392.62M151.7 392.62L153.95 391.33M155.68 390.68L155.68 393.28M154.55 391.33L156.8 392.62M154.55 392.62L156.8 391.33M159.28 390.68L159.28 393.28M158.15 391.33L160.4 392.62M158.15 392.62L160.4 391.33M162.88 390.68L162.88 393.28M161.75 391.33L164 392.62M161.75 392.62L164 391.33M165.72 390.68L165.72 393.28M164.6 391.33L166.85 392.62M164.6 392.62L166.85 391.33M169.32 390.68L169.32 393.28M168.2 391.33L170.45 392.62M168.2 392.62L170.45 391.33M172.92 390.68L172.92 393.28M171.8 391.33L174.05 392.62M171.8 392.62L174.05 391.33M177.57 390.68L177.57 393.28M176.45 391.33L178.7 392.62M176.45 392.62L178.7 391.33M181.18 390.68L181.18 393.28M180.05 391.33L182.3 392.62M180.05 392.62L182.3 391.33M97.17 400.72L97.17 403.32M96.05 401.38L98.3 402.67M96.05 402.67L98.3 401.38M100.77 400.72L100.77 403.32M99.65 401.38L101.9 402.67M99.65 402.67L101.9 401.38M119.07 400.72L119.07 403.32M117.95 401.38L120.2 402.67M117.95 402.67L120.2 401.38M127.33 400.72L127.33 403.32M126.2 401.38L128.45 402.67M126.2 402.67L128.45 401.38M130.93 400.72L130.93 403.32M129.8 401.38L132.05 402.67M129.8 402.67L132.05 401.38M135.57 400.72L135.57 403.32M134.45 401.38L136.7 402.67M134.45 402.67L136.7 401.38M139.17 400.72L139.17 403.32M138.05 401.38L140.3 402.67M138.05 402.67L140.3 401.38M142.77 400.72L142.77 403.32M141.65 401.38L143.9 402.67M141.65 402.67L143.9 401.38M109.02 410.77L109.02 413.38M107.9 411.43L110.15 412.72M107.9 412.72L110.15 411.43M125.53 410.77L125.53 413.38M124.4 411.43L126.65 412.72M124.4 412.72L126.65 411.43M129.12 410.77L129.12 413.38M128 411.43L130.25 412.72M128 412.72L130.25 411.43M132.72 410.77L132.72 413.38M131.6 411.43L133.85 412.72M131.6 412.72L133.85 411.43M135.57 410.77L135.57 413.38M134.45 411.43L136.7 412.72M134.45 412.72L136.7 411.43M139.17 410.77L139.17 413.38M138.05 411.43L140.3 412.72M138.05 412.72L140.3 411.43M142.77 410.77L142.77 413.38M141.65 411.43L143.9 412.72M141.65 412.72L143.9 411.43M145.62 410.77L145.62 413.38M144.5 411.43L146.75 412.72M144.5 412.72L146.75 411.43M149.22 410.77L149.22 413.38M148.1 411.43L150.35 412.72M148.1 412.72L150.35 411.43M152.82 410.77L152.82 413.38M151.7 411.43L153.95 412.72M151.7 412.72L153.95 411.43M155.68 410.77L155.68 413.38M154.55 411.43L156.8 412.72M154.55 412.72L156.8 411.43M159.28 410.77L159.28 413.38M158.15 411.43L160.4 412.72M158.15 412.72L160.4 411.43M162.88 410.77L162.88 413.38M161.75 411.43L164 412.72M161.75 412.72L164 411.43M187.62 410.77L187.62 413.38M186.5 411.43L188.75 412.72M186.5 412.72L188.75 411.43M191.22 410.77L191.22 413.38M190.1 411.43L192.35 412.72M190.1 412.72L192.35 411.43M95.38 420.82L95.38 423.43M94.25 421.48L96.5 422.77M94.25 422.77L96.5 421.48M98.97 420.82L98.97 423.43M97.85 421.48L100.1 422.77M97.85 422.77L100.1 421.48M102.57 420.82L102.57 423.43M101.45 421.48L103.7 422.77M101.45 422.77L103.7 421.48M109.02 420.82L109.02 423.43M107.9 421.48L110.15 422.77M107.9 422.77L110.15 421.48M115.47 420.82L115.47 423.43M114.35 421.48L116.6 422.77M114.35 422.77L116.6 421.48M119.07 420.82L119.07 423.43M117.95 421.48L120.2 422.77M117.95 422.77L120.2 421.48M122.67 420.82L122.67 423.43M121.55 421.48L123.8 422.77M121.55 422.77L123.8 421.48M157.47 420.82L157.47 423.43M156.35 421.48L158.6 422.77M156.35 422.77L158.6 421.48M161.08 420.82L161.08 423.43M159.95 421.48L162.2 422.77M159.95 422.77L162.2 421.48M195.88 420.82L195.88 423.43M194.75 421.48L197 422.77M194.75 422.77L197 421.48M199.47 420.82L199.47 423.43M198.35 421.48L200.6 422.77M198.35 422.77L200.6 421.48M203.07 420.82L203.07 423.43M201.95 421.48L204.2 422.77M201.95 422.77L204.2 421.48M95.38 430.88L95.38 433.48M94.25 431.53L96.5 432.82M94.25 432.82L96.5 431.53M98.97 430.88L98.97 433.48M97.85 431.53L100.1 432.82M97.85 432.82L100.1 431.53M102.57 430.88L102.57 433.48M101.45 431.53L103.7 432.82M101.45 432.82L103.7 431.53M119.07 430.88L119.07 433.48M117.95 431.53L120.2 432.82M117.95 432.82L120.2 431.53M179.38 430.88L179.38 433.48M178.25 431.53L180.5 432.82M178.25 432.82L180.5 431.53M195.88 430.88L195.88 433.48M194.75 431.53L197 432.82M194.75 432.82L197 431.53M199.47 430.88L199.47 433.48M198.35 431.53L200.6 432.82M198.35 432.82L200.6 431.53M203.07 430.88L203.07 433.48M201.95 431.53L204.2 432.82M201.95 432.82L204.2 431.53M215.98 430.88L215.98 433.48M214.85 431.53L217.1 432.82M214.85 432.82L217.1 431.53M219.58 430.88L219.58 433.48M218.45 431.53L220.7 432.82M218.45 432.82L220.7 431.53M223.18 430.88L223.18 433.48M222.05 431.53L224.3 432.82M222.05 432.82L224.3 431.53M95.38 440.93L95.38 443.53M94.25 441.58L96.5 442.88M94.25 442.88L96.5 441.58M98.97 440.93L98.97 443.53M97.85 441.58L100.1 442.88M97.85 442.88L100.1 441.58M102.57 440.93L102.57 443.53M101.45 441.58L103.7 442.88M101.45 442.88L103.7 441.58M119.07 440.93L119.07 443.53M117.95 441.58L120.2 442.88M117.95 442.88L120.2 441.58M129.12 440.93L129.12 443.53M128 441.58L130.25 442.88M128 442.88L130.25 441.58M137.37 440.93L137.37 443.53M136.25 441.58L138.5 442.88M136.25 442.88L138.5 441.58M140.97 440.93L140.97 443.53M139.85 441.58L142.1 442.88M139.85 442.88L142.1 441.58M179.38 440.93L179.38 443.53M178.25 441.58L180.5 442.88M178.25 442.88L180.5 441.58M195.88 440.93L195.88 443.53M194.75 441.58L197 442.88M194.75 442.88L197 441.58M199.47 440.93L199.47 443.53M198.35 441.58L200.6 442.88M198.35 442.88L200.6 441.58M203.07 440.93L203.07 443.53M201.95 441.58L204.2 442.88M201.95 442.88L204.2 441.58M215.98 440.93L215.98 443.53M214.85 441.58L217.1 442.88M214.85 442.88L217.1 441.58M219.58 440.93L219.58 443.53M218.45 441.58L220.7 442.88M218.45 442.88L220.7 441.58M223.18 440.93L223.18 443.53M222.05 441.58L224.3 442.88M222.05 442.88L224.3 441.58M226.03 440.93L226.03 443.53M224.9 441.58L227.15 442.88M224.9 442.88L227.15 441.58M229.62 440.93L229.62 443.53M228.5 441.58L230.75 442.88M228.5 442.88L230.75 441.58M233.22 440.93L233.22 443.53M232.1 441.58L234.35 442.88M232.1 442.88L234.35 441.58M119.07 450.97L119.07 453.57M117.95 451.62L120.2 452.92M117.95 452.92L120.2 451.62M127.33 450.97L127.33 453.57M126.2 451.62L128.45 452.92M126.2 452.92L128.45 451.62M130.93 450.97L130.93 453.57M129.8 451.62L132.05 452.92M129.8 452.92L132.05 451.62M137.37 450.97L137.37 453.57M136.25 451.62L138.5 452.92M136.25 452.92L138.5 451.62M140.97 450.97L140.97 453.57M139.85 451.62L142.1 452.92M139.85 452.92L142.1 451.62M169.32 450.97L169.32 453.57M168.2 451.62L170.45 452.92M168.2 452.92L170.45 451.62M177.57 450.97L177.57 453.57M176.45 451.62L178.7 452.92M176.45 452.92L178.7 451.62M181.18 450.97L181.18 453.57M180.05 451.62L182.3 452.92M180.05 452.92L182.3 451.62M197.67 450.97L197.67 453.57M196.55 451.62L198.8 452.92M196.55 452.92L198.8 451.62M201.28 450.97L201.28 453.57M200.15 451.62L202.4 452.92M200.15 452.92L202.4 451.62M236.08 450.97L236.08 453.57M234.95 451.62L237.2 452.92M234.95 452.92L237.2 451.62M239.68 450.97L239.68 453.57M238.55 451.62L240.8 452.92M238.55 452.92L240.8 451.62M243.28 450.97L243.28 453.57M242.15 451.62L244.4 452.92M242.15 452.92L244.4 451.62M159.28 461.03L159.28 463.63M158.15 461.68L160.4 462.98M158.15 462.98L160.4 461.68M179.38 461.03L179.38 463.63M178.25 461.68L180.5 462.98M178.25 462.98L180.5 461.68M217.78 461.03L217.78 463.63M216.65 461.68L218.9 462.98M216.65 462.98L218.9 461.68M221.38 461.03L221.38 463.63M220.25 461.68L222.5 462.98M220.25 462.98L222.5 461.68M229.62 461.03L229.62 463.63M228.5 461.68L230.75 462.98M228.5 462.98L230.75 461.68M97.17 471.07L97.17 473.68M96.05 471.73L98.3 473.02M96.05 473.02L98.3 471.73M100.77 471.07L100.77 473.68M99.65 471.73L101.9 473.02M99.65 473.02L101.9 471.73M229.62 471.07L229.62 473.68M228.5 471.73L230.75 473.02M228.5 473.02L230.75 471.73M247.92 471.07L247.92 473.68M246.8 471.73L249.05 473.02M246.8 473.02L249.05 471.73M251.53 471.07L251.53 473.68M250.4 471.73L252.65 473.02M250.4 473.02L252.65 471.73M256.18 471.07L256.18 473.68M255.05 471.73L257.3 473.02M255.05 473.02L257.3 471.73M259.78 471.07L259.78 473.68M258.65 471.73L260.9 473.02M258.65 473.02L260.9 471.73M263.38 471.07L263.38 473.68M262.25 471.73L264.5 473.02M262.25 473.02L264.5 471.73M98.97 481.12L98.97 483.73M97.85 481.78L100.1 483.07M97.85 483.07L100.1 481.78M117.27 481.12L117.27 483.73M116.15 481.78L118.4 483.07M116.15 483.07L118.4 481.78M120.87 481.12L120.87 483.73M119.75 481.78L122 483.07M119.75 483.07L122 481.78M195.88 481.12L195.88 483.73M194.75 481.78L197 483.07M194.75 483.07L197 481.78M199.47 481.12L199.47 483.73M198.35 481.78L200.6 483.07M198.35 483.07L200.6 481.78M203.07 481.12L203.07 483.73M201.95 481.78L204.2 483.07M201.95 483.07L204.2 481.78M215.98 481.12L215.98 483.73M214.85 481.78L217.1 483.07M214.85 483.07L217.1 481.78M219.58 481.12L219.58 483.73M218.45 481.78L220.7 483.07M218.45 483.07L220.7 481.78M223.18 481.12L223.18 483.73M222.05 481.78L224.3 483.07M222.05 483.07L224.3 481.78M226.03 481.12L226.03 483.73M224.9 481.78L227.15 483.07M224.9 483.07L227.15 481.78M229.62 481.12L229.62 483.73M228.5 481.78L230.75 483.07M228.5 483.07L230.75 481.78M233.22 481.12L233.22 483.73M232.1 481.78L234.35 483.07M232.1 483.07L234.35 481.78M236.08 481.12L236.08 483.73M234.95 481.78L237.2 483.07M234.95 483.07L237.2 481.78M239.68 481.12L239.68 483.73M238.55 481.78L240.8 483.07M238.55 483.07L240.8 481.78M243.28 481.12L243.28 483.73M242.15 481.78L244.4 483.07M242.15 483.07L244.4 481.78M246.12 481.12L246.12 483.73M245 481.78L247.25 483.07M245 483.07L247.25 481.78M249.72 481.12L249.72 483.73M248.6 481.78L250.85 483.07M248.6 483.07L250.85 481.78M253.32 481.12L253.32 483.73M252.2 481.78L254.45 483.07M252.2 483.07L254.45 481.78M257.98 481.12L257.98 483.73M256.85 481.78L259.1 483.07M256.85 483.07L259.1 481.78M261.58 481.12L261.58 483.73M260.45 481.78L262.7 483.07M260.45 483.07L262.7 481.78M97.17 491.18L97.17 493.78M96.05 491.83L98.3 493.12M96.05 493.12L98.3 491.83M100.77 491.18L100.77 493.78M99.65 491.83L101.9 493.12M99.65 493.12L101.9 491.83M107.22 491.18L107.22 493.78M106.1 491.83L108.35 493.12M106.1 493.12L108.35 491.83M110.82 491.18L110.82 493.78M109.7 491.83L111.95 493.12M109.7 493.12L111.95 491.83M117.27 491.18L117.27 493.78M116.15 491.83L118.4 493.12M116.15 493.12L118.4 491.83M120.87 491.18L120.87 493.78M119.75 491.83L122 493.12M119.75 493.12L122 491.83M147.42 491.18L147.42 493.78M146.3 491.83L148.55 493.12M146.3 493.12L148.55 491.83M151.03 491.18L151.03 493.78M149.9 491.83L152.15 493.12M149.9 493.12L152.15 491.83M159.28 491.18L159.28 493.78M158.15 491.83L160.4 493.12M158.15 493.12L160.4 491.83M175.78 491.18L175.78 493.78M174.65 491.83L176.9 493.12M174.65 493.12L176.9 491.83M179.38 491.18L179.38 493.78M178.25 491.83L180.5 493.12M178.25 493.12L180.5 491.83M182.97 491.18L182.97 493.78M181.85 491.83L184.1 493.12M181.85 493.12L184.1 491.83M187.62 491.18L187.62 493.78M186.5 491.83L188.75 493.12M186.5 493.12L188.75 491.83M191.22 491.18L191.22 493.78M190.1 491.83L192.35 493.12M190.1 493.12L192.35 491.83M199.47 491.18L199.47 493.78M198.35 491.83L200.6 493.12M198.35 493.12L200.6 491.83M209.53 491.18L209.53 493.78M208.4 491.83L210.65 493.12M208.4 493.12L210.65 491.83M215.98 491.18L215.98 493.78M214.85 491.83L217.1 493.12M214.85 493.12L217.1 491.83M219.58 491.18L219.58 493.78M218.45 491.83L220.7 493.12M218.45 493.12L220.7 491.83M223.18 491.18L223.18 493.78M222.05 491.83L224.3 493.12M222.05 493.12L224.3 491.83M226.03 491.18L226.03 493.78M224.9 491.83L227.15 493.12M224.9 493.12L227.15 491.83M229.62 491.18L229.62 493.78M228.5 491.83L230.75 493.12M228.5 493.12L230.75 491.83M233.22 491.18L233.22 493.78M232.1 491.83L234.35 493.12M232.1 493.12L234.35 491.83M236.08 491.18L236.08 493.78M234.95 491.83L237.2 493.12M234.95 493.12L237.2 491.83M239.68 491.18L239.68 493.78M238.55 491.83L240.8 493.12M238.55 493.12L240.8 491.83M243.28 491.18L243.28 493.78M242.15 491.83L244.4 493.12M242.15 493.12L244.4 491.83M246.12 491.18L246.12 493.78M245 491.83L247.25 493.12M245 493.12L247.25 491.83M249.72 491.18L249.72 493.78M248.6 491.83L250.85 493.12M248.6 493.12L250.85 491.83M253.32 491.18L253.32 493.78M252.2 491.83L254.45 493.12M252.2 493.12L254.45 491.83M257.98 491.18L257.98 493.78M256.85 491.83L259.1 493.12M256.85 493.12L259.1 491.83M261.58 491.18L261.58 493.78M260.45 491.83L262.7 493.12M260.45 493.12L262.7 491.83M276.27 491.18L276.27 493.78M275.15 491.83L277.4 493.12M275.15 493.12L277.4 491.83M279.88 491.18L279.88 493.78M278.75 491.83L281 493.12M278.75 493.12L281 491.83M283.48 491.18L283.48 493.78M282.35 491.83L284.6 493.12M282.35 493.12L284.6 491.83M95.38 501.22L95.38 503.82M94.25 501.88L96.5 503.17M94.25 503.17L96.5 501.88M98.97 501.22L98.97 503.82M97.85 501.88L100.1 503.17M97.85 503.17L100.1 501.88M102.57 501.22L102.57 503.82M101.45 501.88L103.7 503.17M101.45 503.17L103.7 501.88M127.33 501.22L127.33 503.82M126.2 501.88L128.45 503.17M126.2 503.17L128.45 501.88M130.93 501.22L130.93 503.82M129.8 501.88L132.05 503.17M129.8 503.17L132.05 501.88M226.03 501.22L226.03 503.82M224.9 501.88L227.15 503.17M224.9 503.17L227.15 501.88M229.62 501.22L229.62 503.82M228.5 501.88L230.75 503.17M228.5 503.17L230.75 501.88M233.22 501.22L233.22 503.82M232.1 501.88L234.35 503.17M232.1 503.17L234.35 501.88M236.08 501.22L236.08 503.82M234.95 501.88L237.2 503.17M234.95 503.17L237.2 501.88M239.68 501.22L239.68 503.82M238.55 501.88L240.8 503.17M238.55 503.17L240.8 501.88M243.28 501.22L243.28 503.82M242.15 501.88L244.4 503.17M242.15 503.17L244.4 501.88M257.98 501.22L257.98 503.82M256.85 501.88L259.1 503.17M256.85 503.17L259.1 501.88M261.58 501.22L261.58 503.82M260.45 501.88L262.7 503.17M260.45 503.17L262.7 501.88M276.27 501.22L276.27 503.82M275.15 501.88L277.4 503.17M275.15 503.17L277.4 501.88M279.88 501.22L279.88 503.82M278.75 501.88L281 503.17M278.75 503.17L281 501.88M283.48 501.22L283.48 503.82M282.35 501.88L284.6 503.17M282.35 503.17L284.6 501.88M167.52 511.28L167.52 513.88M166.4 511.93L168.65 513.23M166.4 513.23L168.65 511.93M171.12 511.28L171.12 513.88M170 511.93L172.25 513.23M170 513.23L172.25 511.93M229.62 511.28L229.62 513.88M228.5 511.93L230.75 513.23M228.5 513.23L230.75 511.93M239.68 511.28L239.68 513.88M238.55 511.93L240.8 513.23M238.55 513.23L240.8 511.93M95.38 521.33L95.38 523.92M94.25 521.98L96.5 523.27M94.25 523.27L96.5 521.98M98.97 521.33L98.97 523.92M97.85 521.98L100.1 523.27M97.85 523.27L100.1 521.98M102.57 521.33L102.57 523.92M101.45 521.98L103.7 523.27M101.45 523.27L103.7 521.98M109.02 521.33L109.02 523.92M107.9 521.98L110.15 523.27M107.9 523.27L110.15 521.98M115.47 521.33L115.47 523.92M114.35 521.98L116.6 523.27M114.35 523.27L116.6 521.98M119.07 521.33L119.07 523.92M117.95 521.98L120.2 523.27M117.95 523.27L120.2 521.98M122.67 521.33L122.67 523.92M121.55 521.98L123.8 523.27M121.55 523.27L123.8 521.98M139.17 521.33L139.17 523.92M138.05 521.98L140.3 523.27M138.05 523.27L140.3 521.98M147.42 521.33L147.42 523.92M146.3 521.98L148.55 523.27M146.3 523.27L148.55 521.98M151.03 521.33L151.03 523.92M149.9 521.98L152.15 523.27M149.9 523.27L152.15 521.98M157.47 521.33L157.47 523.92M156.35 521.98L158.6 523.27M156.35 523.27L158.6 521.98M161.08 521.33L161.08 523.92M159.95 521.98L162.2 523.27M159.95 523.27L162.2 521.98M177.57 521.33L177.57 523.92M176.45 521.98L178.7 523.27M176.45 523.27L178.7 521.98M181.18 521.33L181.18 523.92M180.05 521.98L182.3 523.27M180.05 523.27L182.3 521.98M189.42 521.33L189.42 523.92M188.3 521.98L190.55 523.27M188.3 523.27L190.55 521.98M197.67 521.33L197.67 523.92M196.55 521.98L198.8 523.27M196.55 523.27L198.8 521.98M201.28 521.33L201.28 523.92M200.15 521.98L202.4 523.27M200.15 523.27L202.4 521.98M207.72 521.33L207.72 523.92M206.6 521.98L208.85 523.27M206.6 523.27L208.85 521.98M211.33 521.33L211.33 523.92M210.2 521.98L212.45 523.27M210.2 523.27L212.45 521.98M219.58 521.33L219.58 523.92M218.45 521.98L220.7 523.27M218.45 523.27L220.7 521.98M259.78 521.33L259.78 523.92M258.65 521.98L260.9 523.27M258.65 523.27L260.9 521.98M286.33 521.33L286.33 523.92M285.2 521.98L287.45 523.27M285.2 523.27L287.45 521.98M289.93 521.33L289.93 523.92M288.8 521.98L291.05 523.27M288.8 523.27L291.05 521.98M293.53 521.33L293.53 523.92M292.4 521.98L294.65 523.27M292.4 523.27L294.65 521.98M95.38 531.38L95.38 533.98M94.25 532.03L96.5 533.33M94.25 533.33L96.5 532.03M98.97 531.38L98.97 533.98M97.85 532.03L100.1 533.33M97.85 533.33L100.1 532.03M102.57 531.38L102.57 533.98M101.45 532.03L103.7 533.33M101.45 533.33L103.7 532.03M115.47 531.38L115.47 533.98M114.35 532.03L116.6 533.33M114.35 533.33L116.6 532.03M119.07 531.38L119.07 533.98M117.95 532.03L120.2 533.33M117.95 533.33L120.2 532.03M122.67 531.38L122.67 533.98M121.55 532.03L123.8 533.33M121.55 533.33L123.8 532.03M197.67 531.38L197.67 533.98M196.55 532.03L198.8 533.33M196.55 533.33L198.8 532.03M201.28 531.38L201.28 533.98M200.15 532.03L202.4 533.33M200.15 533.33L202.4 532.03M217.78 531.38L217.78 533.98M216.65 532.03L218.9 533.33M216.65 533.33L218.9 532.03M221.38 531.38L221.38 533.98M220.25 532.03L222.5 533.33M220.25 533.33L222.5 532.03M288.13 531.38L288.13 533.98M287 532.03L289.25 533.33M287 533.33L289.25 532.03M291.73 531.38L291.73 533.98M290.6 532.03L292.85 533.33M290.6 533.33L292.85 532.03M316.48 531.38L316.48 533.98M315.35 532.03L317.6 533.33M315.35 533.33L317.6 532.03M320.08 531.38L320.08 533.98M318.95 532.03L321.2 533.33M318.95 533.33L321.2 532.03M323.68 531.38L323.68 533.98M322.55 532.03L324.8 533.33M322.55 533.33L324.8 532.03M95.38 541.43L95.38 544.02M94.25 542.08L96.5 543.38M94.25 543.38L96.5 542.08M98.97 541.43L98.97 544.02M97.85 542.08L100.1 543.38M97.85 543.38L100.1 542.08M102.57 541.43L102.57 544.02M101.45 542.08L103.7 543.38M101.45 543.38L103.7 542.08M217.78 541.43L217.78 544.02M216.65 542.08L218.9 543.38M216.65 543.38L218.9 542.08M221.38 541.43L221.38 544.02M220.25 542.08L222.5 543.38M220.25 543.38L222.5 542.08M226.03 541.43L226.03 544.02M224.9 542.08L227.15 543.38M224.9 543.38L227.15 542.08M229.62 541.43L229.62 544.02M228.5 542.08L230.75 543.38M228.5 543.38L230.75 542.08M233.22 541.43L233.22 544.02M232.1 542.08L234.35 543.38M232.1 543.38L234.35 542.08M236.08 541.43L236.08 544.02M234.95 542.08L237.2 543.38M234.95 543.38L237.2 542.08M239.68 541.43L239.68 544.02M238.55 542.08L240.8 543.38M238.55 543.38L240.8 542.08M243.28 541.43L243.28 544.02M242.15 542.08L244.4 543.38M242.15 543.38L244.4 542.08M266.23 541.43L266.23 544.02M265.1 542.08L267.35 543.38M265.1 543.38L267.35 542.08M269.83 541.43L269.83 544.02M268.7 542.08L270.95 543.38M268.7 543.38L270.95 542.08M273.43 541.43L273.43 544.02M272.3 542.08L274.55 543.38M272.3 543.38L274.55 542.08M296.38 541.43L296.38 544.02M295.25 542.08L297.5 543.38M295.25 543.38L297.5 542.08M299.98 541.43L299.98 544.02M298.85 542.08L301.1 543.38M298.85 543.38L301.1 542.08M303.58 541.43L303.58 544.02M302.45 542.08L304.7 543.38M302.45 543.38L304.7 542.08" stroke="#000" stroke-width="0.8" stroke-linecap="round" fill="none"/>
<g fill="#000"><circle cx="98.97" cy="311.57" r="0.85"/><circle cx="95.38" cy="321.62" r="0.85"/><circle cx="98.97" cy="321.62" r="0.85"/><circle cx="102.57" cy="321.62" r="0.85"/><circle cx="105.42" cy="321.62" r="0.85"/><circle cx="109.02" cy="321.62" r="0.85"/><circle cx="112.62" cy="321.62" r="0.85"/><circle cx="98.97" cy="331.68" r="0.85"/><circle cx="125.53" cy="341.73" r="0.85"/><circle cx="129.12" cy="341.73" r="0.85"/><circle cx="132.72" cy="341.73" r="0.85"/><circle cx="105.42" cy="351.77" r="0.85"/><circle cx="109.02" cy="351.77" r="0.85"/><circle cx="112.62" cy="351.77" r="0.85"/><circle cx="115.47" cy="351.77" r="0.85"/><circle cx="119.07" cy="351.77" r="0.85"/><circle cx="122.67" cy="351.77" r="0.85"/><circle cx="105.42" cy="361.82" r="0.85"/><circle cx="109.02" cy="361.82" r="0.85"/><circle cx="112.62" cy="361.82" r="0.85"/><circle cx="115.47" cy="361.82" r="0.85"/><circle cx="119.07" cy="361.82" r="0.85"/><circle cx="122.67" cy="361.82" r="0.85"/><circle cx="145.62" cy="361.82" r="0.85"/><circle cx="149.22" cy="361.82" r="0.85"/><circle cx="152.82" cy="361.82" r="0.85"/><circle cx="147.42" cy="371.88" r="0.85"/><circle cx="151.03" cy="371.88" r="0.85"/><circle cx="157.47" cy="371.88" r="0.85"/><circle cx="161.08" cy="371.88" r="0.85"/><circle cx="98.97" cy="381.93" r="0.85"/><circle cx="105.42" cy="381.93" r="0.85"/><circle cx="109.02" cy="381.93" r="0.85"/><circle cx="112.62" cy="381.93" r="0.85"/><circle cx="115.47" cy="381.93" r="0.85"/><circle cx="119.07" cy="381.93" r="0.85"/><circle cx="122.67" cy="381.93" r="0.85"/><circle cx="137.37" cy="381.93" r="0.85"/><circle cx="140.97" cy="381.93" r="0.85"/><circle cx="145.62" cy="381.93" r="0.85"/><circle cx="149.22" cy="381.93" r="0.85"/><circle cx="152.82" cy="381.93" r="0.85"/><circle cx="155.68" cy="381.93" r="0.85"/><circle cx="159.28" cy="381.93" r="0.85"/><circle cx="162.88" cy="381.93" r="0.85"/><circle cx="165.72" cy="381.93" r="0.85"/><circle cx="169.32" cy="381.93" r="0.85"/><circle cx="172.92" cy="381.93" r="0.85"/><circle cx="105.42" cy="391.98" r="0.85"/><circle cx="109.02" cy="391.98" r="0.85"/><circle cx="112.62" cy="391.98" r="0.85"/><circle cx="115.47" cy="391.98" r="0.85"/><circle cx="119.07" cy="391.98" r="0.85"/><circle cx="122.67" cy="391.98" r="0.85"/><circle cx="137.37" cy="391.98" r="0.85"/><circle cx="140.97" cy="391.98" r="0.85"/><circle cx="145.62" cy="391.98" r="0.85"/><circle cx="149.22" cy="391.98" r="0.85"/><circle cx="152.82" cy="391.98" r="0.85"/><circle cx="155.68" cy="391.98" r="0.85"/><circle cx="159.28" cy="391.98" r="0.85"/><circle cx="162.88" cy="391.98" r="0.85"/><circle cx="165.72" cy="391.98" r="0.85"/><circle cx="169.32" cy="391.98" r="0.85"/><circle cx="172.92" cy="391.98" r="0.85"/><circle cx="177.57" cy="391.98" r="0.85"/><circle cx="181.18" cy="391.98" r="0.85"/><circle cx="97.17" cy="402.02" r="0.85"/><circle cx="100.77" cy="402.02" r="0.85"/><circle cx="119.07" cy="402.02" r="0.85"/><circle cx="127.33" cy="402.02" r="0.85"/><circle cx="130.93" cy="402.02" r="0.85"/><circle cx="135.57" cy="402.02" r="0.85"/><circle cx="139.17" cy="402.02" r="0.85"/><circle cx="142.77" cy="402.02" r="0.85"/><circle cx="109.02" cy="412.07" r="0.85"/><circle cx="125.53" cy="412.07" r="0.85"/><circle cx="129.12" cy="412.07" r="0.85"/><circle cx="132.72" cy="412.07" r="0.85"/><circle cx="135.57" cy="412.07" r="0.85"/><circle cx="139.17" cy="412.07" r="0.85"/><circle cx="142.77" cy="412.07" r="0.85"/><circle cx="145.62" cy="412.07" r="0.85"/><circle cx="149.22" cy="412.07" r="0.85"/><circle cx="152.82" cy="412.07" r="0.85"/><circle cx="155.68" cy="412.07" r="0.85"/><circle cx="159.28" cy="412.07" r="0.85"/><circle cx="162.88" cy="412.07" r="0.85"/><circle cx="187.62" cy="412.07" r="0.85"/><circle cx="191.22" cy="412.07" r="0.85"/><circle cx="95.38" cy="422.12" r="0.85"/><circle cx="98.97" cy="422.12" r="0.85"/><circle cx="102.57" cy="422.12" r="0.85"/><circle cx="109.02" cy="422.12" r="0.85"/><circle cx="115.47" cy="422.12" r="0.85"/><circle cx="119.07" cy="422.12" r="0.85"/><circle cx="122.67" cy="422.12" r="0.85"/><circle cx="157.47" cy="422.12" r="0.85"/><circle cx="161.08" cy="422.12" r="0.85"/><circle cx="195.88" cy="422.12" r="0.85"/><circle cx="199.47" cy="422.12" r="0.85"/><circle cx="203.07" cy="422.12" r="0.85"/><circle cx="95.38" cy="432.18" r="0.85"/><circle cx="98.97" cy="432.18" r="0.85"/><circle cx="102.57" cy="432.18" r="0.85"/><circle cx="119.07" cy="432.18" r="0.85"/><circle cx="179.38" cy="432.18" r="0.85"/><circle cx="195.88" cy="432.18" r="0.85"/><circle cx="199.47" cy="432.18" r="0.85"/><circle cx="203.07" cy="432.18" r="0.85"/><circle cx="215.98" cy="432.18" r="0.85"/><circle cx="219.58" cy="432.18" r="0.85"/><circle cx="223.18" cy="432.18" r="0.85"/><circle cx="95.38" cy="442.23" r="0.85"/><circle cx="98.97" cy="442.23" r="0.85"/><circle cx="102.57" cy="442.23" r="0.85"/><circle cx="119.07" cy="442.23" r="0.85"/><circle cx="129.12" cy="442.23" r="0.85"/><circle cx="137.37" cy="442.23" r="0.85"/><circle cx="140.97" cy="442.23" r="0.85"/><circle cx="179.38" cy="442.23" r="0.85"/><circle cx="195.88" cy="442.23" r="0.85"/><circle cx="199.47" cy="442.23" r="0.85"/><circle cx="203.07" cy="442.23" r="0.85"/><circle cx="215.98" cy="442.23" r="0.85"/><circle cx="219.58" cy="442.23" r="0.85"/><circle cx="223.18" cy="442.23" r="0.85"/><circle cx="226.03" cy="442.23" r="0.85"/><circle cx="229.62" cy="442.23" r="0.85"/><circle cx="233.22" cy="442.23" r="0.85"/><circle cx="119.07" cy="452.27" r="0.85"/><circle cx="127.33" cy="452.27" r="0.85"/><circle cx="130.93" cy="452.27" r="0.85"/><circle cx="137.37" cy="452.27" r="0.85"/><circle cx="140.97" cy="452.27" r="0.85"/><circle cx="169.32" cy="452.27" r="0.85"/><circle cx="177.57" cy="452.27" r="0.85"/><circle cx="181.18" cy="452.27" r="0.85"/><circle cx="197.67" cy="452.27" r="0.85"/><circle cx="201.28" cy="452.27" r="0.85"/><circle cx="236.08" cy="452.27" r="0.85"/><circle cx="239.68" cy="452.27" r="0.85"/><circle cx="243.28" cy="452.27" r="0.85"/><circle cx="159.28" cy="462.33" r="0.85"/><circle cx="179.38" cy="462.33" r="0.85"/><circle cx="217.78" cy="462.33" r="0.85"/><circle cx="221.38" cy="462.33" r="0.85"/><circle cx="229.62" cy="462.33" r="0.85"/><circle cx="97.17" cy="472.38" r="0.85"/><circle cx="100.77" cy="472.38" r="0.85"/><circle cx="229.62" cy="472.38" r="0.85"/><circle cx="247.92" cy="472.38" r="0.85"/><circle cx="251.53" cy="472.38" r="0.85"/><circle cx="256.18" cy="472.38" r="0.85"/><circle cx="259.78" cy="472.38" r="0.85"/><circle cx="263.38" cy="472.38" r="0.85"/><circle cx="98.97" cy="482.43" r="0.85"/><circle cx="117.27" cy="482.43" r="0.85"/><circle cx="120.87" cy="482.43" r="0.85"/><circle cx="195.88" cy="482.43" r="0.85"/><circle cx="199.47" cy="482.43" r="0.85"/><circle cx="203.07" cy="482.43" r="0.85"/><circle cx="215.98" cy="482.43" r="0.85"/><circle cx="219.58" cy="482.43" r="0.85"/><circle cx="223.18" cy="482.43" r="0.85"/><circle cx="226.03" cy="482.43" r="0.85"/><circle cx="229.62" cy="482.43" r="0.85"/><circle cx="233.22" cy="482.43" r="0.85"/><circle cx="236.08" cy="482.43" r="0.85"/><circle cx="239.68" cy="482.43" r="0.85"/><circle cx="243.28" cy="482.43" r="0.85"/><circle cx="246.12" cy="482.43" r="0.85"/><circle cx="249.72" cy="482.43" r="0.85"/><circle cx="253.32" cy="482.43" r="0.85"/><circle cx="257.98" cy="482.43" r="0.85"/><circle cx="261.58" cy="482.43" r="0.85"/><circle cx="97.17" cy="492.48" r="0.85"/><circle cx="100.77" cy="492.48" r="0.85"/><circle cx="107.22" cy="492.48" r="0.85"/><circle cx="110.82" cy="492.48" r="0.85"/><circle cx="117.27" cy="492.48" r="0.85"/><circle cx="120.87" cy="492.48" r="0.85"/><circle cx="147.42" cy="492.48" r="0.85"/><circle cx="151.03" cy="492.48" r="0.85"/><circle cx="159.28" cy="492.48" r="0.85"/><circle cx="175.78" cy="492.48" r="0.85"/><circle cx="179.38" cy="492.48" r="0.85"/><circle cx="182.97" cy="492.48" r="0.85"/><circle cx="187.62" cy="492.48" r="0.85"/><circle cx="191.22" cy="492.48" r="0.85"/><circle cx="199.47" cy="492.48" r="0.85"/><circle cx="209.53" cy="492.48" r="0.85"/><circle cx="215.98" cy="492.48" r="0.85"/><circle cx="219.58" cy="492.48" r="0.85"/><circle cx="223.18" cy="492.48" r="0.85"/><circle cx="226.03" cy="492.48" r="0.85"/><circle cx="229.62" cy="492.48" r="0.85"/><circle cx="233.22" cy="492.48" r="0.85"/><circle cx="236.08" cy="492.48" r="0.85"/><circle cx="239.68" cy="492.48" r="0.85"/><circle cx="243.28" cy="492.48" r="0.85"/><circle cx="246.12" cy="492.48" r="0.85"/><circle cx="249.72" cy="492.48" r="0.85"/><circle cx="253.32" cy="492.48" r="0.85"/><circle cx="257.98" cy="492.48" r="0.85"/><circle cx="261.58" cy="492.48" r="0.85"/><circle cx="276.27" cy="492.48" r="0.85"/><circle cx="279.88" cy="492.48" r="0.85"/><circle cx="283.48" cy="492.48" r="0.85"/><circle cx="95.38" cy="502.52" r="0.85"/><circle cx="98.97" cy="502.52" r="0.85"/><circle cx="102.57" cy="502.52" r="0.85"/><circle cx="127.33" cy="502.52" r="0.85"/><circle cx="130.93" cy="502.52" r="0.85"/><circle cx="226.03" cy="502.52" r="0.85"/><circle cx="229.62" cy="502.52" r="0.85"/><circle cx="233.22" cy="502.52" r="0.85"/><circle cx="236.08" cy="502.52" r="0.85"/><circle cx="239.68" cy="502.52" r="0.85"/><circle cx="243.28" cy="502.52" r="0.85"/><circle cx="257.98" cy="502.52" r="0.85"/><circle cx="261.58" cy="502.52" r="0.85"/><circle cx="276.27" cy="502.52" r="0.85"/><circle cx="279.88" cy="502.52" r="0.85"/><circle cx="283.48" cy="502.52" r="0.85"/><circle cx="167.52" cy="512.58" r="0.85"/><circle cx="171.12" cy="512.58" r="0.85"/><circle cx="229.62" cy="512.58" r="0.85"/><circle cx="239.68" cy="512.58" r="0.85"/><circle cx="95.38" cy="522.62" r="0.85"/><circle cx="98.97" cy="522.62" r="0.85"/><circle cx="102.57" cy="522.62" r="0.85"/><circle cx="109.02" cy="522.62" r="0.85"/><circle cx="115.47" cy="522.62" r="0.85"/><circle cx="119.07" cy="522.62" r="0.85"/><circle cx="122.67" cy="522.62" r="0.85"/><circle cx="139.17" cy="522.62" r="0.85"/><circle cx="147.42" cy="522.62" r="0.85"/><circle cx="151.03" cy="522.62" r="0.85"/><circle cx="157.47" cy="522.62" r="0.85"/><circle cx="161.08" cy="522.62" r="0.85"/><circle cx="177.57" cy="522.62" r="0.85"/><circle cx="181.18" cy="522.62" r="0.85"/><circle cx="189.42" cy="522.62" r="0.85"/><circle cx="197.67" cy="522.62" r="0.85"/><circle cx="201.28" cy="522.62" r="0.85"/><circle cx="207.72" cy="522.62" r="0.85"/><circle cx="211.33" cy="522.62" r="0.85"/><circle cx="219.58" cy="522.62" r="0.85"/><circle cx="259.78" cy="522.62" r="0.85"/><circle cx="286.33" cy="522.62" r="0.85"/><circle cx="289.93" cy="522.62" r="0.85"/><circle cx="293.53" cy="522.62" r="0.85"/><circle cx="95.38" cy="532.68" r="0.85"/><circle cx="98.97" cy="532.68" r="0.85"/><circle cx="102.57" cy="532.68" r="0.85"/><circle cx="115.47" cy="532.68" r="0.85"/><circle cx="119.07" cy="532.68" r="0.85"/><circle cx="122.67" cy="532.68" r="0.85"/><circle cx="197.67" cy="532.68" r="0.85"/><circle cx="201.28" cy="532.68" r="0.85"/><circle cx="217.78" cy="532.68" r="0.85"/><circle cx="221.38" cy="532.68" r="0.85"/><circle cx="288.13" cy="532.68" r="0.85"/><circle cx="291.73" cy="532.68" r="0.85"/><circle cx="316.48" cy="532.68" r="0.85"/><circle cx="320.08" cy="532.68" r="0.85"/><circle cx="323.68" cy="532.68" r="0.85"/><circle cx="95.38" cy="542.73" r="0.85"/><circle cx="98.97" cy="542.73" r="0.85"/><circle cx="102.57" cy="542.73" r="0.85"/><circle cx="217.78" cy="542.73" r="0.85"/><circle cx="221.38" cy="542.73" r="0.85"/><circle cx="226.03" cy="542.73" r="0.85"/><circle cx="229.62" cy="542.73" r="0.85"/><circle cx="233.22" cy="542.73" r="0.85"/><circle cx="236.08" cy="542.73" r="0.85"/><circle cx="239.68" cy="542.73" r="0.85"/><circle cx="243.28" cy="542.73" r="0.85"/><circle cx="266.23" cy="542.73" r="0.85"/><circle cx="269.83" cy="542.73" r="0.85"/><circle cx="273.43" cy="542.73" r="0.85"/><circle cx="296.38" cy="542.73" r="0.85"/><circle cx="299.98" cy="542.73" r="0.85"/><circle cx="303.58" cy="542.73" r="0.85"/></g>
<text transform="translate(101.53,552.5) rotate(-90) scale(1,1.13)" font-size="6.8" text-anchor="end">Distance</text>
<text transform="translate(111.58,552.5) rotate(-90) scale(1,1.13)" font-size="6.8" text-anchor="end">WSTN Reduction</text>
<text transform="translate(121.62,552.5) rotate(-90) scale(1,1.13)" font-size="6.8" text-anchor="end">Mass Loss</text>
<text transform="translate(131.68,552.5) rotate(-90) scale(1,1.13)" font-size="6.8" text-anchor="end">Fungal Shannon</text>
<text transform="translate(141.72,552.5) rotate(-90) scale(1,1.13)" font-size="6.8" text-anchor="end">Fungal Richness</text>
<text transform="translate(151.78,552.5) rotate(-90) scale(1,1.13)" font-size="6.8" text-anchor="end">Ascomycota</text>
<text transform="translate(161.83,552.5) rotate(-90) scale(1,1.13)" font-size="6.8" text-anchor="end">Basidiomycota</text>
<text transform="translate(171.88,552.5) rotate(-90) scale(1,1.13)" font-size="6.8" text-anchor="end">Sordariomycetes</text>
<text transform="translate(181.93,552.5) rotate(-90) scale(1,1.13)" font-size="6.8" text-anchor="end">Eurotiomycetes</text>
<text transform="translate(191.97,552.5) rotate(-90) scale(1,1.13)" font-size="6.8" text-anchor="end">Agaricomycetes</text>
<text transform="translate(202.03,552.5) rotate(-90) scale(1,1.13)" font-size="6.8" text-anchor="end">Leotiomycetes</text>
<text transform="translate(212.08,552.5) rotate(-90) scale(1,1.13)" font-size="6.8" text-anchor="end">Dothideomycetes</text>
<text transform="translate(222.13,552.5) rotate(-90) scale(1,1.13)" font-size="6.8" text-anchor="end">Tremellomycetes</text>
<text transform="translate(232.18,552.5) rotate(-90) scale(1,1.13)" font-size="6.8" text-anchor="end">Bacterial Shannon</text>
<text transform="translate(242.23,552.5) rotate(-90) scale(1,1.13)" font-size="6.8" text-anchor="end">Bacterial Richness</text>
<text transform="translate(252.28,552.5) rotate(-90) scale(1,1.13)" font-size="6.8" text-anchor="end">Alphaproteobacteria</text>
<text transform="translate(262.32,552.5) rotate(-90) scale(1,1.13)" font-size="6.8" text-anchor="end">Bacteroidia</text>
<text transform="translate(272.38,552.5) rotate(-90) scale(1,1.13)" font-size="6.8" text-anchor="end">Actinobacteria</text>
<text transform="translate(282.42,552.5) rotate(-90) scale(1,1.13)" font-size="6.8" text-anchor="end">Gammaproteobacteria</text>
<text transform="translate(292.48,552.5) rotate(-90) scale(1,1.13)" font-size="6.8" text-anchor="end">Acidobacteriia</text>
<text transform="translate(302.52,552.5) rotate(-90) scale(1,1.13)" font-size="6.8" text-anchor="end">Deltaproteobacteria</text>
<text transform="translate(312.57,552.5) rotate(-90) scale(1,1.13)" font-size="6.8" text-anchor="end">Gemmatimonadetes</text>
<text transform="translate(322.62,552.5) rotate(-90) scale(1,1.13)" font-size="6.8" text-anchor="end">Planctomycetacia</text>
<text transform="translate(332.67,552.5) rotate(-90) scale(1,1.13)" font-size="6.8" text-anchor="end">Thermoleophilia</text>
<text transform="translate(342.73,552.5) rotate(-90) scale(1,1.13)" font-size="6.8" text-anchor="end">Verrucomicrobiae</text>
<defs><linearGradient id="cb" x1="0" y1="1" x2="0" y2="0">
<stop offset="0" stop-color="#a50026"/>
<stop offset="0.1" stop-color="#d73027"/>
<stop offset="0.2" stop-color="#f46d43"/>
<stop offset="0.3" stop-color="#fdae61"/>
<stop offset="0.4" stop-color="#fee090"/>
<stop offset="0.5" stop-color="#ffffbf"/>
<stop offset="0.6" stop-color="#e0f3f8"/>
<stop offset="0.7" stop-color="#abd9e9"/>
<stop offset="0.8" stop-color="#74add1"/>
<stop offset="0.9" stop-color="#4575b4"/>
<stop offset="1" stop-color="#313695"/>
</linearGradient></defs>
<rect x="270.2" y="342.9" width="13.2" height="65" fill="url(#cb)"/>
<line x1="270.2" y1="356.8" x2="272.8" y2="356.8" stroke="#fff" stroke-width="0.6"/>
<line x1="280.8" y1="356.8" x2="283.4" y2="356.8" stroke="#fff" stroke-width="0.6"/>
<text transform="translate(287.4,359.9) scale(1,1.13)" font-size="7" fill="#000" stroke="#000" stroke-width="0.18" text-anchor="start" >0.5</text>
<line x1="270.2" y1="374.8" x2="272.8" y2="374.8" stroke="#fff" stroke-width="0.6"/>
<line x1="280.8" y1="374.8" x2="283.4" y2="374.8" stroke="#fff" stroke-width="0.6"/>
<text transform="translate(287.4,377.9) scale(1,1.13)" font-size="7" fill="#000" stroke="#000" stroke-width="0.18" text-anchor="start" >0.0</text>
<line x1="270.2" y1="392.8" x2="272.8" y2="392.8" stroke="#fff" stroke-width="0.6"/>
<line x1="280.8" y1="392.8" x2="283.4" y2="392.8" stroke="#fff" stroke-width="0.6"/>
<text transform="translate(287.4,395.9) scale(1,1.13)" font-size="7" fill="#000" stroke="#000" stroke-width="0.18" text-anchor="start" >−0.5</text>
<text transform="translate(270.2,337.8) scale(1,1.13)" font-size="8.25" fill="#000" stroke="#000" stroke-width="0.18" text-anchor="start" >Spearman's rho</text>
<text x="0" y="306.4" font-size="9.6" font-weight="bold">C</text>
<text transform="translate(412.7,308.15) scale(1,1.13)" font-size="6.7" fill="#000" stroke="#000" stroke-width="0.18" text-anchor="end" >Ceriporia</text>
<text transform="translate(412.7,318.45) scale(1,1.13)" font-size="6.7" fill="#000" stroke="#000" stroke-width="0.18" text-anchor="end" >Phanerochaete</text>
<text transform="translate(412.7,328.75) scale(1,1.13)" font-size="6.7" fill="#000" stroke="#000" stroke-width="0.18" text-anchor="end" >Hyphodontia</text>
<text transform="translate(412.7,339.05) scale(1,1.13)" font-size="6.7" fill="#000" stroke="#000" stroke-width="0.18" text-anchor="end" >Phlebia</text>
<text transform="translate(412.7,349.35) scale(1,1.13)" font-size="6.7" fill="#000" stroke="#000" stroke-width="0.18" text-anchor="end" >Stereum</text>
<text transform="translate(412.7,359.65) scale(1,1.13)" font-size="6.7" fill="#000" stroke="#000" stroke-width="0.18" text-anchor="end" >Mycoacia</text>
<text transform="translate(412.7,369.95) scale(1,1.13)" font-size="6.7" fill="#000" stroke="#000" stroke-width="0.18" text-anchor="end" >Solicoccozyma</text>
<text transform="translate(412.7,380.25) scale(1,1.13)" font-size="6.7" fill="#000" stroke="#000" stroke-width="0.18" text-anchor="end" >Papiliotrema</text>
<text transform="translate(412.7,390.55) scale(1,1.13)" font-size="6.7" fill="#000" stroke="#000" stroke-width="0.18" text-anchor="end" >Penicillium</text>
<text transform="translate(412.7,400.85) scale(1,1.13)" font-size="6.7" fill="#000" stroke="#000" stroke-width="0.18" text-anchor="end" >Kabatiella</text>
<text transform="translate(412.7,411.15) scale(1,1.13)" font-size="6.7" fill="#000" stroke="#000" stroke-width="0.18" text-anchor="end" >Phialemonium</text>
<text transform="translate(412.7,421.45) scale(1,1.13)" font-size="6.7" fill="#000" stroke="#000" stroke-width="0.18" text-anchor="end" >Talaromyces</text>
<text transform="translate(412.7,431.75) scale(1,1.13)" font-size="6.7" fill="#000" stroke="#000" stroke-width="0.18" text-anchor="end" >Trichoderma</text>
<text transform="translate(412.7,442.05) scale(1,1.13)" font-size="6.7" fill="#000" stroke="#000" stroke-width="0.18" text-anchor="end" >Fusarium</text>
<text transform="translate(412.7,452.35) scale(1,1.13)" font-size="6.7" fill="#000" stroke="#000" stroke-width="0.18" text-anchor="end" >Coniochaeta</text>
<text transform="translate(412.7,462.65) scale(1,1.13)" font-size="6.7" fill="#000" stroke="#000" stroke-width="0.18" text-anchor="end" >Phaeoacremonium</text>
<text transform="translate(412.7,472.95) scale(1,1.13)" font-size="6.7" fill="#000" stroke="#000" stroke-width="0.18" text-anchor="end" >Phialemoniopsis</text>
<text transform="translate(412.7,483.25) scale(1,1.13)" font-size="6.7" fill="#000" stroke="#000" stroke-width="0.18" text-anchor="end" >Oidiodendron</text>
<text transform="translate(412.7,493.55) scale(1,1.13)" font-size="6.7" fill="#000" stroke="#000" stroke-width="0.18" text-anchor="end" >Exophiala</text>
<text transform="translate(412.7,503.85) scale(1,1.13)" font-size="6.7" fill="#000" stroke="#000" stroke-width="0.18" text-anchor="end" >Barbatosphaeria</text>
<text transform="translate(412.7,514.15) scale(1,1.13)" font-size="6.7" fill="#000" stroke="#000" stroke-width="0.18" text-anchor="end" >Gibberella</text>
<text transform="translate(412.7,524.45) scale(1,1.13)" font-size="6.7" fill="#000" stroke="#000" stroke-width="0.18" text-anchor="end" >Lophium</text>
<text transform="translate(412.7,534.75) scale(1,1.13)" font-size="6.7" fill="#000" stroke="#000" stroke-width="0.18" text-anchor="end" >Metarhizium</text>
<text transform="translate(412.7,545.05) scale(1,1.13)" font-size="6.7" fill="#000" stroke="#000" stroke-width="0.18" text-anchor="end" >Hyphodermella</text>
<g stroke="#cfcfcf" stroke-width="0.8">
<line x1="415.9" y1="300.6" x2="415.9" y2="547.8"/>
<line x1="426.22" y1="300.6" x2="426.22" y2="547.8"/>
<line x1="436.54" y1="300.6" x2="436.54" y2="547.8"/>
<line x1="446.86" y1="300.6" x2="446.86" y2="547.8"/>
<line x1="457.18" y1="300.6" x2="457.18" y2="547.8"/>
<line x1="467.5" y1="300.6" x2="467.5" y2="547.8"/>
<line x1="477.82" y1="300.6" x2="477.82" y2="547.8"/>
<line x1="488.14" y1="300.6" x2="488.14" y2="547.8"/>
<line x1="498.46" y1="300.6" x2="498.46" y2="547.8"/>
<line x1="508.78" y1="300.6" x2="508.78" y2="547.8"/>
<line x1="519.1" y1="300.6" x2="519.1" y2="547.8"/>
<line x1="529.42" y1="300.6" x2="529.42" y2="547.8"/>
<line x1="539.74" y1="300.6" x2="539.74" y2="547.8"/>
<line x1="550.06" y1="300.6" x2="550.06" y2="547.8"/>
<line x1="560.38" y1="300.6" x2="560.38" y2="547.8"/>
<line x1="570.7" y1="300.6" x2="570.7" y2="547.8"/>
<line x1="581.02" y1="300.6" x2="581.02" y2="547.8"/>
<line x1="591.34" y1="300.6" x2="591.34" y2="547.8"/>
<line x1="601.66" y1="300.6" x2="601.66" y2="547.8"/>
<line x1="611.98" y1="300.6" x2="611.98" y2="547.8"/>
<line x1="622.3" y1="300.6" x2="622.3" y2="547.8"/>
<line x1="632.62" y1="300.6" x2="632.62" y2="547.8"/>
<line x1="642.94" y1="300.6" x2="642.94" y2="547.8"/>
<line x1="653.26" y1="300.6" x2="653.26" y2="547.8"/>
<line x1="663.58" y1="300.6" x2="663.58" y2="547.8"/>
<line x1="673.9" y1="300.6" x2="673.9" y2="547.8"/>
<line x1="415.9" y1="300.6" x2="673.9" y2="300.6"/>
<line x1="415.9" y1="310.9" x2="673.9" y2="310.9"/>
<line x1="415.9" y1="321.2" x2="673.9" y2="321.2"/>
<line x1="415.9" y1="331.5" x2="673.9" y2="331.5"/>
<line x1="415.9" y1="341.8" x2="673.9" y2="341.8"/>
<line x1="415.9" y1="352.1" x2="673.9" y2="352.1"/>
<line x1="415.9" y1="362.4" x2="673.9" y2="362.4"/>
<line x1="415.9" y1="372.7" x2="673.9" y2="372.7"/>
<line x1="415.9" y1="383" x2="673.9" y2="383"/>
<line x1="415.9" y1="393.3" x2="673.9" y2="393.3"/>
<line x1="415.9" y1="403.6" x2="673.9" y2="403.6"/>
<line x1="415.9" y1="413.9" x2="673.9" y2="413.9"/>
<line x1="415.9" y1="424.2" x2="673.9" y2="424.2"/>
<line x1="415.9" y1="434.5" x2="673.9" y2="434.5"/>
<line x1="415.9" y1="444.8" x2="673.9" y2="444.8"/>
<line x1="415.9" y1="455.1" x2="673.9" y2="455.1"/>
<line x1="415.9" y1="465.4" x2="673.9" y2="465.4"/>
<line x1="415.9" y1="475.7" x2="673.9" y2="475.7"/>
<line x1="415.9" y1="486" x2="673.9" y2="486"/>
<line x1="415.9" y1="496.3" x2="673.9" y2="496.3"/>
<line x1="415.9" y1="506.6" x2="673.9" y2="506.6"/>
<line x1="415.9" y1="516.9" x2="673.9" y2="516.9"/>
<line x1="415.9" y1="527.2" x2="673.9" y2="527.2"/>
<line x1="415.9" y1="537.5" x2="673.9" y2="537.5"/>
<line x1="415.9" y1="547.8" x2="673.9" y2="547.8"/>
</g>
<rect x="419.06" y="303.75" width="4" height="4" fill="#f7fbd2" stroke="#7a7a7a" stroke-opacity="0.55" stroke-width="0.5"/>
<rect x="430.38" y="304.75" width="2" height="2" fill="#fff2ae" stroke="#7a7a7a" stroke-opacity="0.55" stroke-width="0.5"/>
<rect x="439.95" y="304" width="3.5" height="3.5" fill="#fbaa5a" stroke="#7a7a7a" stroke-opacity="0.55" stroke-width="0.5"/>
<rect x="450.52" y="304.25" width="3" height="3" fill="#fbaa5a" stroke="#7a7a7a" stroke-opacity="0.55" stroke-width="0.5"/>
<rect x="460.59" y="304" width="3.5" height="3.5" fill="#fbaa5a" stroke="#7a7a7a" stroke-opacity="0.55" stroke-width="0.5"/>
<rect x="470.66" y="303.75" width="4" height="4" fill="#f7fbd2" stroke="#7a7a7a" stroke-opacity="0.55" stroke-width="0.5"/>
<rect x="480.98" y="303.75" width="4" height="4" fill="#f7904a" stroke="#7a7a7a" stroke-opacity="0.55" stroke-width="0.5"/>
<rect x="491.05" y="303.5" width="4.5" height="4.5" fill="#f7fbd2" stroke="#7a7a7a" stroke-opacity="0.55" stroke-width="0.5"/>
<rect x="503.37" y="305.5" width="0.5" height="0.5" fill="#fbaa5a" stroke="#7a7a7a" stroke-opacity="0.55" stroke-width="0.5"/>
<rect x="513.19" y="305" width="1.5" height="1.5" fill="#fbaa5a" stroke="#7a7a7a" stroke-opacity="0.55" stroke-width="0.5"/>
<rect x="522.26" y="303.75" width="4" height="4" fill="#f7904a" stroke="#7a7a7a" stroke-opacity="0.55" stroke-width="0.5"/>
<rect x="533.58" y="304.75" width="2" height="2" fill="#fbaa5a" stroke="#7a7a7a" stroke-opacity="0.55" stroke-width="0.5"/>
<rect x="543.65" y="304.5" width="2.5" height="2.5" fill="#fbaa5a" stroke="#7a7a7a" stroke-opacity="0.55" stroke-width="0.5"/>
<rect x="554.82" y="305.35" width="0.8" height="0.8" fill="#fbaa5a" stroke="#7a7a7a" stroke-opacity="0.55" stroke-width="0.5"/>
<rect x="563.29" y="303.5" width="4.5" height="4.5" fill="#f7fbd2" stroke="#7a7a7a" stroke-opacity="0.55" stroke-width="0.5"/>
<rect x="574.86" y="304.75" width="2" height="2" fill="#fbaa5a" stroke="#7a7a7a" stroke-opacity="0.55" stroke-width="0.5"/>
<rect x="583.68" y="303.25" width="5" height="5" fill="#d8eef4" stroke="#7a7a7a" stroke-opacity="0.55" stroke-width="0.5"/>
<rect x="595.25" y="304.5" width="2.5" height="2.5" fill="#fbaa5a" stroke="#7a7a7a" stroke-opacity="0.55" stroke-width="0.5"/>
<rect x="605.57" y="304.5" width="2.5" height="2.5" fill="#fbaa5a" stroke="#7a7a7a" stroke-opacity="0.55" stroke-width="0.5"/>
<rect x="615.64" y="304.25" width="3" height="3" fill="#fbaa5a" stroke="#7a7a7a" stroke-opacity="0.55" stroke-width="0.5"/>
<rect x="626.21" y="304.5" width="2.5" height="2.5" fill="#fbaa5a" stroke="#7a7a7a" stroke-opacity="0.55" stroke-width="0.5"/>
<rect x="636.28" y="304.25" width="3" height="3" fill="#fff2ae" stroke="#7a7a7a" stroke-opacity="0.55" stroke-width="0.5"/>
<rect x="646.6" y="304.25" width="3" height="3" fill="#fbaa5a" stroke="#7a7a7a" stroke-opacity="0.55" stroke-width="0.5"/>
<rect x="657.02" y="304.35" width="2.8" height="2.8" fill="#fbaa5a" stroke="#7a7a7a" stroke-opacity="0.55" stroke-width="0.5"/>
<rect x="667.99" y="305" width="1.5" height="1.5" fill="#fbaa5a" stroke="#7a7a7a" stroke-opacity="0.55" stroke-width="0.5"/>
<rect x="418.06" y="313.05" width="6" height="6" fill="#a9d4ea" stroke="#7a7a7a" stroke-opacity="0.55" stroke-width="0.5"/>
<rect x="429.38" y="314.05" width="4" height="4" fill="#f7fbd2" stroke="#7a7a7a" stroke-opacity="0.55" stroke-width="0.5"/>
<rect x="439.7" y="314.05" width="4" height="4" fill="#fbaa5a" stroke="#7a7a7a" stroke-opacity="0.55" stroke-width="0.5"/>
<rect x="450.27" y="314.3" width="3.5" height="3.5" fill="#fbaa5a" stroke="#7a7a7a" stroke-opacity="0.55" stroke-width="0.5"/>
<rect x="460.59" y="314.3" width="3.5" height="3.5" fill="#fbaa5a" stroke="#7a7a7a" stroke-opacity="0.55" stroke-width="0.5"/>
<rect x="469.91" y="313.3" width="5.5" height="5.5" fill="#c2e3ef" stroke="#7a7a7a" stroke-opacity="0.55" stroke-width="0.5"/>
<rect x="481.98" y="315.05" width="2" height="2" fill="#fbaa5a" stroke="#7a7a7a" stroke-opacity="0.55" stroke-width="0.5"/>
<rect x="491.8" y="314.55" width="3" height="3" fill="#fbaa5a" stroke="#7a7a7a" stroke-opacity="0.55" stroke-width="0.5"/>
<rect x="501.37" y="313.8" width="4.5" height="4.5" fill="#f7904a" stroke="#7a7a7a" stroke-opacity="0.55" stroke-width="0.5"/>
<rect x="512.69" y="314.8" width="2.5" height="2.5" fill="#fff2ae" stroke="#7a7a7a" stroke-opacity="0.55" stroke-width="0.5"/>
<rect x="522.76" y="314.55" width="3" height="3" fill="#fbaa5a" stroke="#7a7a7a" stroke-opacity="0.55" stroke-width="0.5"/>
<rect x="533.08" y="314.55" width="3" height="3" fill="#fbaa5a" stroke="#7a7a7a" stroke-opacity="0.55" stroke-width="0.5"/>
<rect x="543.9" y="315.05" width="2" height="2" fill="#fbaa5a" stroke="#7a7a7a" stroke-opacity="0.55" stroke-width="0.5"/>
<rect x="553.22" y="314.05" width="4" height="4" fill="#f7904a" stroke="#7a7a7a" stroke-opacity="0.55" stroke-width="0.5"/>
<rect x="562.54" y="313.05" width="6" height="6" fill="#a9d4ea" stroke="#7a7a7a" stroke-opacity="0.55" stroke-width="0.5"/>
<rect x="573.96" y="314.15" width="3.8" height="3.8" fill="#fbaa5a" stroke="#7a7a7a" stroke-opacity="0.55" stroke-width="0.5"/>
<rect x="584.68" y="314.55" width="3" height="3" fill="#fbaa5a" stroke="#7a7a7a" stroke-opacity="0.55" stroke-width="0.5"/>
<rect x="594.6" y="314.15" width="3.8" height="3.8" fill="#fbaa5a" stroke="#7a7a7a" stroke-opacity="0.55" stroke-width="0.5"/>
<rect x="604.82" y="314.05" width="4" height="4" fill="#f7fbd2" stroke="#7a7a7a" stroke-opacity="0.55" stroke-width="0.5"/>
<rect x="615.39" y="314.3" width="3.5" height="3.5" fill="#fbaa5a" stroke="#7a7a7a" stroke-opacity="0.55" stroke-width="0.5"/>
<rect x="625.36" y="313.95" width="4.2" height="4.2" fill="#f0653c" stroke="#7a7a7a" stroke-opacity="0.55" stroke-width="0.5"/>
<rect x="635.53" y="313.8" width="4.5" height="4.5" fill="#d8eef4" stroke="#7a7a7a" stroke-opacity="0.55" stroke-width="0.5"/>
<rect x="646.85" y="314.8" width="2.5" height="2.5" fill="#fff2ae" stroke="#7a7a7a" stroke-opacity="0.55" stroke-width="0.5"/>
<rect x="656.82" y="314.45" width="3.2" height="3.2" fill="#fff2ae" stroke="#7a7a7a" stroke-opacity="0.55" stroke-width="0.5"/>
<rect x="667.74" y="315.05" width="2" height="2" fill="#fbaa5a" stroke="#7a7a7a" stroke-opacity="0.55" stroke-width="0.5"/>
<rect x="419.31" y="324.6" width="3.5" height="3.5" fill="#fbaa5a" stroke="#7a7a7a" stroke-opacity="0.55" stroke-width="0.5"/>
<rect x="429.13" y="324.1" width="4.5" height="4.5" fill="#f7fbd2" stroke="#7a7a7a" stroke-opacity="0.55" stroke-width="0.5"/>
<rect x="440.2" y="324.85" width="3" height="3" fill="#fff2ae" stroke="#7a7a7a" stroke-opacity="0.55" stroke-width="0.5"/>
<rect x="450.77" y="325.1" width="2.5" height="2.5" fill="#fbaa5a" stroke="#7a7a7a" stroke-opacity="0.55" stroke-width="0.5"/>
<rect x="460.84" y="324.85" width="3" height="3" fill="#fbaa5a" stroke="#7a7a7a" stroke-opacity="0.55" stroke-width="0.5"/>
<rect x="471.16" y="324.85" width="3" height="3" fill="#fff2ae" stroke="#7a7a7a" stroke-opacity="0.55" stroke-width="0.5"/>
<rect x="481.23" y="324.6" width="3.5" height="3.5" fill="#fbaa5a" stroke="#7a7a7a" stroke-opacity="0.55" stroke-width="0.5"/>
<rect x="490.8" y="323.85" width="5" height="5" fill="#c2e3ef" stroke="#7a7a7a" stroke-opacity="0.55" stroke-width="0.5"/>
<rect x="503.12" y="325.85" width="1" height="1" fill="#fbaa5a" stroke="#7a7a7a" stroke-opacity="0.55" stroke-width="0.5"/>
<rect x="512.19" y="324.6" width="3.5" height="3.5" fill="#fbaa5a" stroke="#7a7a7a" stroke-opacity="0.55" stroke-width="0.5"/>
<rect x="522.86" y="324.95" width="2.8" height="2.8" fill="#fff2ae" stroke="#7a7a7a" stroke-opacity="0.55" stroke-width="0.5"/>
<rect x="533.48" y="325.25" width="2.2" height="2.2" fill="#fbaa5a" stroke="#7a7a7a" stroke-opacity="0.55" stroke-width="0.5"/>
<rect x="543.65" y="325.1" width="2.5" height="2.5" fill="#fff2ae" stroke="#7a7a7a" stroke-opacity="0.55" stroke-width="0.5"/>
<rect x="553.72" y="324.85" width="3" height="3" fill="#fbaa5a" stroke="#7a7a7a" stroke-opacity="0.55" stroke-width="0.5"/>
<rect x="565.14" y="325.95" width="0.8" height="0.8" fill="#fbaa5a" stroke="#7a7a7a" stroke-opacity="0.55" stroke-width="0.5"/>
<rect x="574.61" y="325.1" width="2.5" height="2.5" fill="#fbaa5a" stroke="#7a7a7a" stroke-opacity="0.55" stroke-width="0.5"/>
<rect x="584.43" y="324.6" width="3.5" height="3.5" fill="#fbaa5a" stroke="#7a7a7a" stroke-opacity="0.55" stroke-width="0.5"/>
<rect x="595" y="324.85" width="3" height="3" fill="#fbaa5a" stroke="#7a7a7a" stroke-opacity="0.55" stroke-width="0.5"/>
<rect x="605.82" y="325.35" width="2" height="2" fill="#fbaa5a" stroke="#7a7a7a" stroke-opacity="0.55" stroke-width="0.5"/>
<rect x="614.89" y="324.1" width="4.5" height="4.5" fill="#f7fbd2" stroke="#7a7a7a" stroke-opacity="0.55" stroke-width="0.5"/>
<rect x="625.96" y="324.85" width="3" height="3" fill="#fbaa5a" stroke="#7a7a7a" stroke-opacity="0.55" stroke-width="0.5"/>
<rect x="635.53" y="324.1" width="4.5" height="4.5" fill="#e8f4e6" stroke="#7a7a7a" stroke-opacity="0.55" stroke-width="0.5"/>
<rect x="646.6" y="324.85" width="3" height="3" fill="#fbaa5a" stroke="#7a7a7a" stroke-opacity="0.55" stroke-width="0.5"/>
<rect x="657.02" y="324.95" width="2.8" height="2.8" fill="#fff2ae" stroke="#7a7a7a" stroke-opacity="0.55" stroke-width="0.5"/>
<rect x="667.99" y="325.6" width="1.5" height="1.5" fill="#fbaa5a" stroke="#7a7a7a" stroke-opacity="0.55" stroke-width="0.5"/>
<rect x="418.06" y="333.65" width="6" height="6" fill="#a9d4ea" stroke="#7a7a7a" stroke-opacity="0.55" stroke-width="0.5"/>
<rect x="430.63" y="335.9" width="1.5" height="1.5" fill="#fbaa5a" stroke="#7a7a7a" stroke-opacity="0.55" stroke-width="0.5"/>
<rect x="439.95" y="334.9" width="3.5" height="3.5" fill="#fbaa5a" stroke="#7a7a7a" stroke-opacity="0.55" stroke-width="0.5"/>
<rect x="450.52" y="335.15" width="3" height="3" fill="#fbaa5a" stroke="#7a7a7a" stroke-opacity="0.55" stroke-width="0.5"/>
<rect x="460.59" y="334.9" width="3.5" height="3.5" fill="#fbaa5a" stroke="#7a7a7a" stroke-opacity="0.55" stroke-width="0.5"/>
<rect x="470.91" y="334.9" width="3.5" height="3.5" fill="#fbaa5a" stroke="#7a7a7a" stroke-opacity="0.55" stroke-width="0.5"/>
<rect x="481.73" y="335.4" width="2.5" height="2.5" fill="#fff2ae" stroke="#7a7a7a" stroke-opacity="0.55" stroke-width="0.5"/>
<rect x="491.8" y="335.15" width="3" height="3" fill="#fff2ae" stroke="#7a7a7a" stroke-opacity="0.55" stroke-width="0.5"/>
<rect x="500.87" y="333.9" width="5.5" height="5.5" fill="#c2e3ef" stroke="#7a7a7a" stroke-opacity="0.55" stroke-width="0.5"/>
<rect x="512.69" y="335.4" width="2.5" height="2.5" fill="#fff2ae" stroke="#7a7a7a" stroke-opacity="0.55" stroke-width="0.5"/>
<rect x="522.01" y="334.4" width="4.5" height="4.5" fill="#f7904a" stroke="#7a7a7a" stroke-opacity="0.55" stroke-width="0.5"/>
<rect x="533.08" y="335.15" width="3" height="3" fill="#fff2ae" stroke="#7a7a7a" stroke-opacity="0.55" stroke-width="0.5"/>
<rect x="544.5" y="336.25" width="0.8" height="0.8" fill="#fbaa5a" stroke="#7a7a7a" stroke-opacity="0.55" stroke-width="0.5"/>
<rect x="553.47" y="334.9" width="3.5" height="3.5" fill="#fbaa5a" stroke="#7a7a7a" stroke-opacity="0.55" stroke-width="0.5"/>
<rect x="562.79" y="333.9" width="5.5" height="5.5" fill="#a9d4ea" stroke="#7a7a7a" stroke-opacity="0.55" stroke-width="0.5"/>
<rect x="574.46" y="335.25" width="2.8" height="2.8" fill="#fbaa5a" stroke="#7a7a7a" stroke-opacity="0.55" stroke-width="0.5"/>
<rect x="583.93" y="334.4" width="4.5" height="4.5" fill="#f7904a" stroke="#7a7a7a" stroke-opacity="0.55" stroke-width="0.5"/>
<rect x="594.75" y="334.9" width="3.5" height="3.5" fill="#fbaa5a" stroke="#7a7a7a" stroke-opacity="0.55" stroke-width="0.5"/>
<rect x="605.57" y="335.4" width="2.5" height="2.5" fill="#fff2ae" stroke="#7a7a7a" stroke-opacity="0.55" stroke-width="0.5"/>
<rect x="616.14" y="335.65" width="2" height="2" fill="#fbaa5a" stroke="#7a7a7a" stroke-opacity="0.55" stroke-width="0.5"/>
<rect x="625.71" y="334.9" width="3.5" height="3.5" fill="#fbaa5a" stroke="#7a7a7a" stroke-opacity="0.55" stroke-width="0.5"/>
<rect x="635.53" y="334.4" width="4.5" height="4.5" fill="#e8f4e6" stroke="#7a7a7a" stroke-opacity="0.55" stroke-width="0.5"/>
<rect x="646" y="334.55" width="4.2" height="4.2" fill="#f0653c" stroke="#7a7a7a" stroke-opacity="0.55" stroke-width="0.5"/>
<rect x="656.42" y="334.65" width="4" height="4" fill="#f7904a" stroke="#7a7a7a" stroke-opacity="0.55" stroke-width="0.5"/>
<rect x="667.49" y="335.4" width="2.5" height="2.5" fill="#fff2ae" stroke="#7a7a7a" stroke-opacity="0.55" stroke-width="0.5"/>
<rect x="420.06" y="345.95" width="2" height="2" fill="#fbaa5a" stroke="#7a7a7a" stroke-opacity="0.55" stroke-width="0.5"/>
<rect x="428.38" y="343.95" width="6" height="6" fill="#a9d4ea" stroke="#7a7a7a" stroke-opacity="0.55" stroke-width="0.5"/>
<rect x="440.45" y="345.7" width="2.5" height="2.5" fill="#fbaa5a" stroke="#7a7a7a" stroke-opacity="0.55" stroke-width="0.5"/>
<rect x="450.77" y="345.7" width="2.5" height="2.5" fill="#fbaa5a" stroke="#7a7a7a" stroke-opacity="0.55" stroke-width="0.5"/>
<rect x="462.09" y="346.7" width="0.5" height="0.5" fill="#fbaa5a" stroke="#7a7a7a" stroke-opacity="0.55" stroke-width="0.5"/>
<rect x="471.66" y="345.95" width="2" height="2" fill="#fbaa5a" stroke="#7a7a7a" stroke-opacity="0.55" stroke-width="0.5"/>
<rect x="481.98" y="345.95" width="2" height="2" fill="#fbaa5a" stroke="#7a7a7a" stroke-opacity="0.55" stroke-width="0.5"/>
<rect x="491.55" y="345.2" width="3.5" height="3.5" fill="#fff2ae" stroke="#7a7a7a" stroke-opacity="0.55" stroke-width="0.5"/>
<rect x="501.87" y="345.2" width="3.5" height="3.5" fill="#fff2ae" stroke="#7a7a7a" stroke-opacity="0.55" stroke-width="0.5"/>
<rect x="513.19" y="346.2" width="1.5" height="1.5" fill="#fbaa5a" stroke="#7a7a7a" stroke-opacity="0.55" stroke-width="0.5"/>
<rect x="522.66" y="345.35" width="3.2" height="3.2" fill="#fbaa5a" stroke="#7a7a7a" stroke-opacity="0.55" stroke-width="0.5"/>
<rect x="532.83" y="345.2" width="3.5" height="3.5" fill="#fbaa5a" stroke="#7a7a7a" stroke-opacity="0.55" stroke-width="0.5"/>
<rect x="543.75" y="345.8" width="2.3" height="2.3" fill="#fff2ae" stroke="#7a7a7a" stroke-opacity="0.55" stroke-width="0.5"/>
<rect x="553.72" y="345.45" width="3" height="3" fill="#fbaa5a" stroke="#7a7a7a" stroke-opacity="0.55" stroke-width="0.5"/>
<rect x="564.14" y="345.55" width="2.8" height="2.8" fill="#fbaa5a" stroke="#7a7a7a" stroke-opacity="0.55" stroke-width="0.5"/>
<rect x="574.46" y="345.55" width="2.8" height="2.8" fill="#fbaa5a" stroke="#7a7a7a" stroke-opacity="0.55" stroke-width="0.5"/>
<rect x="584.78" y="345.55" width="2.8" height="2.8" fill="#fbaa5a" stroke="#7a7a7a" stroke-opacity="0.55" stroke-width="0.5"/>
<rect x="595.75" y="346.2" width="1.5" height="1.5" fill="#fbaa5a" stroke="#7a7a7a" stroke-opacity="0.55" stroke-width="0.5"/>
<rect x="605.72" y="345.85" width="2.2" height="2.2" fill="#fbaa5a" stroke="#7a7a7a" stroke-opacity="0.55" stroke-width="0.5"/>
<rect x="615.64" y="345.45" width="3" height="3" fill="#fff2ae" stroke="#7a7a7a" stroke-opacity="0.55" stroke-width="0.5"/>
<rect x="625.56" y="345.05" width="3.8" height="3.8" fill="#f7fbd2" stroke="#7a7a7a" stroke-opacity="0.55" stroke-width="0.5"/>
<rect x="636.03" y="345.2" width="3.5" height="3.5" fill="#fbaa5a" stroke="#7a7a7a" stroke-opacity="0.55" stroke-width="0.5"/>
<rect x="646.6" y="345.45" width="3" height="3" fill="#fbaa5a" stroke="#7a7a7a" stroke-opacity="0.55" stroke-width="0.5"/>
<rect x="656.92" y="345.45" width="3" height="3" fill="#fbaa5a" stroke="#7a7a7a" stroke-opacity="0.55" stroke-width="0.5"/>
<rect x="667.99" y="346.2" width="1.5" height="1.5" fill="#fbaa5a" stroke="#7a7a7a" stroke-opacity="0.55" stroke-width="0.5"/>
<rect x="418.06" y="354.25" width="6" height="6" fill="#a9d4ea" stroke="#7a7a7a" stroke-opacity="0.55" stroke-width="0.5"/>
<rect x="430.38" y="356.25" width="2" height="2" fill="#fbaa5a" stroke="#7a7a7a" stroke-opacity="0.55" stroke-width="0.5"/>
<rect x="440.3" y="355.85" width="2.8" height="2.8" fill="#fff2ae" stroke="#7a7a7a" stroke-opacity="0.55" stroke-width="0.5"/>
<rect x="450.77" y="356" width="2.5" height="2.5" fill="#fbaa5a" stroke="#7a7a7a" stroke-opacity="0.55" stroke-width="0.5"/>
<rect x="460.84" y="355.75" width="3" height="3" fill="#fbaa5a" stroke="#7a7a7a" stroke-opacity="0.55" stroke-width="0.5"/>
<rect x="470.91" y="355.5" width="3.5" height="3.5" fill="#fbaa5a" stroke="#7a7a7a" stroke-opacity="0.55" stroke-width="0.5"/>
<rect x="481.48" y="355.75" width="3" height="3" fill="#fff2ae" stroke="#7a7a7a" stroke-opacity="0.55" stroke-width="0.5"/>
<rect x="491.05" y="355" width="4.5" height="4.5" fill="#f7fbd2" stroke="#7a7a7a" stroke-opacity="0.55" stroke-width="0.5"/>
<rect x="500.87" y="354.5" width="5.5" height="5.5" fill="#a9d4ea" stroke="#7a7a7a" stroke-opacity="0.55" stroke-width="0.5"/>
<rect x="512.84" y="356.15" width="2.2" height="2.2" fill="#fbaa5a" stroke="#7a7a7a" stroke-opacity="0.55" stroke-width="0.5"/>
<rect x="522.16" y="355.15" width="4.2" height="4.2" fill="#f7904a" stroke="#7a7a7a" stroke-opacity="0.55" stroke-width="0.5"/>
<rect x="533.83" y="356.5" width="1.5" height="1.5" fill="#fbaa5a" stroke="#7a7a7a" stroke-opacity="0.55" stroke-width="0.5"/>
<rect x="543.65" y="356" width="2.5" height="2.5" fill="#fbaa5a" stroke="#7a7a7a" stroke-opacity="0.55" stroke-width="0.5"/>
<rect x="553.72" y="355.75" width="3" height="3" fill="#fbaa5a" stroke="#7a7a7a" stroke-opacity="0.55" stroke-width="0.5"/>
<rect x="564.64" y="356.35" width="1.8" height="1.8" fill="#fbaa5a" stroke="#7a7a7a" stroke-opacity="0.55" stroke-width="0.5"/>
<rect x="575.11" y="356.5" width="1.5" height="1.5" fill="#fbaa5a" stroke="#7a7a7a" stroke-opacity="0.55" stroke-width="0.5"/>
<rect x="584.43" y="355.5" width="3.5" height="3.5" fill="#fbaa5a" stroke="#7a7a7a" stroke-opacity="0.55" stroke-width="0.5"/>
<rect x="595" y="355.75" width="3" height="3" fill="#fbaa5a" stroke="#7a7a7a" stroke-opacity="0.55" stroke-width="0.5"/>
<rect x="605.82" y="356.25" width="2" height="2" fill="#fbaa5a" stroke="#7a7a7a" stroke-opacity="0.55" stroke-width="0.5"/>
<rect x="615.74" y="355.85" width="2.8" height="2.8" fill="#fbaa5a" stroke="#7a7a7a" stroke-opacity="0.55" stroke-width="0.5"/>
<rect x="625.71" y="355.5" width="3.5" height="3.5" fill="#fbaa5a" stroke="#7a7a7a" stroke-opacity="0.55" stroke-width="0.5"/>
<rect x="636.03" y="355.5" width="3.5" height="3.5" fill="#fff2ae" stroke="#7a7a7a" stroke-opacity="0.55" stroke-width="0.5"/>
<rect x="646.2" y="355.35" width="3.8" height="3.8" fill="#fbaa5a" stroke="#7a7a7a" stroke-opacity="0.55" stroke-width="0.5"/>
<rect x="656.92" y="355.75" width="3" height="3" fill="#fbaa5a" stroke="#7a7a7a" stroke-opacity="0.55" stroke-width="0.5"/>
<rect x="667.99" y="356.5" width="1.5" height="1.5" fill="#fbaa5a" stroke="#7a7a7a" stroke-opacity="0.55" stroke-width="0.5"/>
<rect x="418.96" y="365.45" width="4.2" height="4.2" fill="#f7904a" stroke="#7a7a7a" stroke-opacity="0.55" stroke-width="0.5"/>
<rect x="430.13" y="366.3" width="2.5" height="2.5" fill="#fff2ae" stroke="#7a7a7a" stroke-opacity="0.55" stroke-width="0.5"/>
<rect x="439.2" y="365.05" width="5" height="5" fill="#a9d4ea" stroke="#7a7a7a" stroke-opacity="0.55" stroke-width="0.5"/>
<rect x="449.02" y="364.55" width="6" height="6" fill="#a9d4ea" stroke="#7a7a7a" stroke-opacity="0.55" stroke-width="0.5"/>
<rect x="460.34" y="365.55" width="4" height="4" fill="#f7fbd2" stroke="#7a7a7a" stroke-opacity="0.55" stroke-width="0.5"/>
<rect x="471.41" y="366.3" width="2.5" height="2.5" fill="#fff2ae" stroke="#7a7a7a" stroke-opacity="0.55" stroke-width="0.5"/>
<rect x="482.48" y="367.05" width="1" height="1" fill="#fbaa5a" stroke="#7a7a7a" stroke-opacity="0.55" stroke-width="0.5"/>
<rect x="493.05" y="367.3" width="0.5" height="0.5" fill="#fbaa5a" stroke="#7a7a7a" stroke-opacity="0.55" stroke-width="0.5"/>
<rect x="501.12" y="365.05" width="5" height="5" fill="#c2e3ef" stroke="#7a7a7a" stroke-opacity="0.55" stroke-width="0.5"/>
<rect x="512.84" y="366.45" width="2.2" height="2.2" fill="#fbaa5a" stroke="#7a7a7a" stroke-opacity="0.55" stroke-width="0.5"/>
<rect x="522.86" y="366.15" width="2.8" height="2.8" fill="#fff2ae" stroke="#7a7a7a" stroke-opacity="0.55" stroke-width="0.5"/>
<rect x="532.68" y="365.65" width="3.8" height="3.8" fill="#fbaa5a" stroke="#7a7a7a" stroke-opacity="0.55" stroke-width="0.5"/>
<rect x="542.5" y="365.15" width="4.8" height="4.8" fill="#e8f4e6" stroke="#7a7a7a" stroke-opacity="0.55" stroke-width="0.5"/>
<rect x="553.82" y="366.15" width="2.8" height="2.8" fill="#fbaa5a" stroke="#7a7a7a" stroke-opacity="0.55" stroke-width="0.5"/>
<rect x="563.04" y="365.05" width="5" height="5" fill="#f0653c" stroke="#7a7a7a" stroke-opacity="0.55" stroke-width="0.5"/>
<rect x="574.46" y="366.15" width="2.8" height="2.8" fill="#fbaa5a" stroke="#7a7a7a" stroke-opacity="0.55" stroke-width="0.5"/>
<rect x="584.78" y="366.15" width="2.8" height="2.8" fill="#fbaa5a" stroke="#7a7a7a" stroke-opacity="0.55" stroke-width="0.5"/>
<rect x="595.75" y="366.8" width="1.5" height="1.5" fill="#fbaa5a" stroke="#7a7a7a" stroke-opacity="0.55" stroke-width="0.5"/>
<rect x="605.42" y="366.15" width="2.8" height="2.8" fill="#fbaa5a" stroke="#7a7a7a" stroke-opacity="0.55" stroke-width="0.5"/>
<rect x="614.39" y="364.8" width="5.5" height="5.5" fill="#a9d4ea" stroke="#7a7a7a" stroke-opacity="0.55" stroke-width="0.5"/>
<rect x="625.56" y="365.65" width="3.8" height="3.8" fill="#f7fbd2" stroke="#7a7a7a" stroke-opacity="0.55" stroke-width="0.5"/>
<rect x="635.53" y="365.3" width="4.5" height="4.5" fill="#f7904a" stroke="#7a7a7a" stroke-opacity="0.55" stroke-width="0.5"/>
<rect x="647.35" y="366.8" width="1.5" height="1.5" fill="#fbaa5a" stroke="#7a7a7a" stroke-opacity="0.55" stroke-width="0.5"/>
<rect x="656.42" y="365.55" width="4" height="4" fill="#fbaa5a" stroke="#7a7a7a" stroke-opacity="0.55" stroke-width="0.5"/>
<rect x="667.64" y="366.45" width="2.2" height="2.2" fill="#fbaa5a" stroke="#7a7a7a" stroke-opacity="0.55" stroke-width="0.5"/>
<rect x="420.31" y="377.1" width="1.5" height="1.5" fill="#fbaa5a" stroke="#7a7a7a" stroke-opacity="0.55" stroke-width="0.5"/>
<rect x="429.88" y="376.35" width="3" height="3" fill="#fff2ae" stroke="#7a7a7a" stroke-opacity="0.55" stroke-width="0.5"/>
<rect x="439.95" y="376.1" width="3.5" height="3.5" fill="#fbaa5a" stroke="#7a7a7a" stroke-opacity="0.55" stroke-width="0.5"/>
<rect x="448.77" y="374.6" width="6.5" height="6.5" fill="#6a9fd0" stroke="#7a7a7a" stroke-opacity="0.55" stroke-width="0.5"/>
<rect x="459.09" y="374.6" width="6.5" height="6.5" fill="#6a9fd0" stroke="#7a7a7a" stroke-opacity="0.55" stroke-width="0.5"/>
<rect x="469.16" y="374.35" width="7" height="7" fill="#b2142c" stroke="#7a7a7a" stroke-opacity="0.55" stroke-width="0.5"/>
<rect x="481.23" y="376.1" width="3.5" height="3.5" fill="#fbaa5a" stroke="#7a7a7a" stroke-opacity="0.55" stroke-width="0.5"/>
<rect x="490.8" y="375.35" width="5" height="5" fill="#c2e3ef" stroke="#7a7a7a" stroke-opacity="0.55" stroke-width="0.5"/>
<rect x="501.12" y="375.35" width="5" height="5" fill="#c2e3ef" stroke="#7a7a7a" stroke-opacity="0.55" stroke-width="0.5"/>
<rect x="510.94" y="374.85" width="6" height="6" fill="#a9d4ea" stroke="#7a7a7a" stroke-opacity="0.55" stroke-width="0.5"/>
<rect x="524.01" y="377.6" width="0.5" height="0.5" fill="#fbaa5a" stroke="#7a7a7a" stroke-opacity="0.55" stroke-width="0.5"/>
<rect x="533.68" y="376.95" width="1.8" height="1.8" fill="#fbaa5a" stroke="#7a7a7a" stroke-opacity="0.55" stroke-width="0.5"/>
<rect x="544" y="376.95" width="1.8" height="1.8" fill="#fbaa5a" stroke="#7a7a7a" stroke-opacity="0.55" stroke-width="0.5"/>
<rect x="553.72" y="376.35" width="3" height="3" fill="#fff2ae" stroke="#7a7a7a" stroke-opacity="0.55" stroke-width="0.5"/>
<rect x="563.79" y="376.1" width="3.5" height="3.5" fill="#fbaa5a" stroke="#7a7a7a" stroke-opacity="0.55" stroke-width="0.5"/>
<rect x="573.96" y="375.95" width="3.8" height="3.8" fill="#fbaa5a" stroke="#7a7a7a" stroke-opacity="0.55" stroke-width="0.5"/>
<rect x="584.18" y="375.85" width="4" height="4" fill="#f7fbd2" stroke="#7a7a7a" stroke-opacity="0.55" stroke-width="0.5"/>
<rect x="595.6" y="376.95" width="1.8" height="1.8" fill="#fbaa5a" stroke="#7a7a7a" stroke-opacity="0.55" stroke-width="0.5"/>
<rect x="606.32" y="377.35" width="1" height="1" fill="#fbaa5a" stroke="#7a7a7a" stroke-opacity="0.55" stroke-width="0.5"/>
<rect x="616.04" y="376.75" width="2.2" height="2.2" fill="#fff2ae" stroke="#7a7a7a" stroke-opacity="0.55" stroke-width="0.5"/>
<rect x="625.56" y="375.95" width="3.8" height="3.8" fill="#fbaa5a" stroke="#7a7a7a" stroke-opacity="0.55" stroke-width="0.5"/>
<rect x="636.03" y="376.1" width="3.5" height="3.5" fill="#f7fbd2" stroke="#7a7a7a" stroke-opacity="0.55" stroke-width="0.5"/>
<rect x="645.85" y="375.6" width="4.5" height="4.5" fill="#f0653c" stroke="#7a7a7a" stroke-opacity="0.55" stroke-width="0.5"/>
<rect x="657.52" y="376.95" width="1.8" height="1.8" fill="#fbaa5a" stroke="#7a7a7a" stroke-opacity="0.55" stroke-width="0.5"/>
<rect x="666.74" y="375.85" width="4" height="4" fill="#f7fbd2" stroke="#7a7a7a" stroke-opacity="0.55" stroke-width="0.5"/>
<rect x="419.56" y="386.65" width="3" height="3" fill="#fff2ae" stroke="#7a7a7a" stroke-opacity="0.55" stroke-width="0.5"/>
<rect x="429.88" y="386.65" width="3" height="3" fill="#fbaa5a" stroke="#7a7a7a" stroke-opacity="0.55" stroke-width="0.5"/>
<rect x="439.2" y="385.65" width="5" height="5" fill="#c2e3ef" stroke="#7a7a7a" stroke-opacity="0.55" stroke-width="0.5"/>
<rect x="449.52" y="385.65" width="5" height="5" fill="#f0653c" stroke="#7a7a7a" stroke-opacity="0.55" stroke-width="0.5"/>
<rect x="461.09" y="386.9" width="2.5" height="2.5" fill="#fff2ae" stroke="#7a7a7a" stroke-opacity="0.55" stroke-width="0.5"/>
<rect x="470.66" y="386.15" width="4" height="4" fill="#f7fbd2" stroke="#7a7a7a" stroke-opacity="0.55" stroke-width="0.5"/>
<rect x="482.23" y="387.4" width="1.5" height="1.5" fill="#fbaa5a" stroke="#7a7a7a" stroke-opacity="0.55" stroke-width="0.5"/>
<rect x="491.55" y="386.4" width="3.5" height="3.5" fill="#fbaa5a" stroke="#7a7a7a" stroke-opacity="0.55" stroke-width="0.5"/>
<rect x="501.12" y="385.65" width="5" height="5" fill="#f0653c" stroke="#7a7a7a" stroke-opacity="0.55" stroke-width="0.5"/>
<rect x="512.54" y="386.75" width="2.8" height="2.8" fill="#fff2ae" stroke="#7a7a7a" stroke-opacity="0.55" stroke-width="0.5"/>
<rect x="521.26" y="385.15" width="6" height="6" fill="#a9d4ea" stroke="#7a7a7a" stroke-opacity="0.55" stroke-width="0.5"/>
<rect x="532.33" y="385.9" width="4.5" height="4.5" fill="#e8f4e6" stroke="#7a7a7a" stroke-opacity="0.55" stroke-width="0.5"/>
<rect x="543.15" y="386.4" width="3.5" height="3.5" fill="#fbaa5a" stroke="#7a7a7a" stroke-opacity="0.55" stroke-width="0.5"/>
<rect x="553.97" y="386.9" width="2.5" height="2.5" fill="#fbaa5a" stroke="#7a7a7a" stroke-opacity="0.55" stroke-width="0.5"/>
<rect x="562.79" y="385.4" width="5.5" height="5.5" fill="#f0653c" stroke="#7a7a7a" stroke-opacity="0.55" stroke-width="0.5"/>
<rect x="573.36" y="385.65" width="5" height="5" fill="#f0653c" stroke="#7a7a7a" stroke-opacity="0.55" stroke-width="0.5"/>
<rect x="584.68" y="386.65" width="3" height="3" fill="#fbaa5a" stroke="#7a7a7a" stroke-opacity="0.55" stroke-width="0.5"/>
<rect x="594.25" y="385.9" width="4.5" height="4.5" fill="#e8f4e6" stroke="#7a7a7a" stroke-opacity="0.55" stroke-width="0.5"/>
<rect x="604.92" y="386.25" width="3.8" height="3.8" fill="#f7fbd2" stroke="#7a7a7a" stroke-opacity="0.55" stroke-width="0.5"/>
<rect x="614.64" y="385.65" width="5" height="5" fill="#d8eef4" stroke="#7a7a7a" stroke-opacity="0.55" stroke-width="0.5"/>
<rect x="626.21" y="386.9" width="2.5" height="2.5" fill="#fbaa5a" stroke="#7a7a7a" stroke-opacity="0.55" stroke-width="0.5"/>
<rect x="635.78" y="386.15" width="4" height="4" fill="#fbaa5a" stroke="#7a7a7a" stroke-opacity="0.55" stroke-width="0.5"/>
<rect x="646.85" y="386.9" width="2.5" height="2.5" fill="#fbaa5a" stroke="#7a7a7a" stroke-opacity="0.55" stroke-width="0.5"/>
<rect x="657.17" y="386.9" width="2.5" height="2.5" fill="#fff2ae" stroke="#7a7a7a" stroke-opacity="0.55" stroke-width="0.5"/>
<rect x="666.99" y="386.4" width="3.5" height="3.5" fill="#fbaa5a" stroke="#7a7a7a" stroke-opacity="0.55" stroke-width="0.5"/>
<rect x="419.31" y="396.7" width="3.5" height="3.5" fill="#fbaa5a" stroke="#7a7a7a" stroke-opacity="0.55" stroke-width="0.5"/>
<rect x="430.88" y="397.95" width="1" height="1" fill="#fbaa5a" stroke="#7a7a7a" stroke-opacity="0.55" stroke-width="0.5"/>
<rect x="440.2" y="396.95" width="3" height="3" fill="#fbaa5a" stroke="#7a7a7a" stroke-opacity="0.55" stroke-width="0.5"/>
<rect x="450.27" y="396.7" width="3.5" height="3.5" fill="#fbaa5a" stroke="#7a7a7a" stroke-opacity="0.55" stroke-width="0.5"/>
<rect x="460.59" y="396.7" width="3.5" height="3.5" fill="#fbaa5a" stroke="#7a7a7a" stroke-opacity="0.55" stroke-width="0.5"/>
<rect x="471.41" y="397.2" width="2.5" height="2.5" fill="#fff2ae" stroke="#7a7a7a" stroke-opacity="0.55" stroke-width="0.5"/>
<rect x="480.73" y="396.2" width="4.5" height="4.5" fill="#e8f4e6" stroke="#7a7a7a" stroke-opacity="0.55" stroke-width="0.5"/>
<rect x="492.05" y="397.2" width="2.5" height="2.5" fill="#fff2ae" stroke="#7a7a7a" stroke-opacity="0.55" stroke-width="0.5"/>
<rect x="502.37" y="397.2" width="2.5" height="2.5" fill="#fbaa5a" stroke="#7a7a7a" stroke-opacity="0.55" stroke-width="0.5"/>
<rect x="512.19" y="396.7" width="3.5" height="3.5" fill="#fbaa5a" stroke="#7a7a7a" stroke-opacity="0.55" stroke-width="0.5"/>
<rect x="522.26" y="396.45" width="4" height="4" fill="#fbaa5a" stroke="#7a7a7a" stroke-opacity="0.55" stroke-width="0.5"/>
<rect x="532.58" y="396.45" width="4" height="4" fill="#fbaa5a" stroke="#7a7a7a" stroke-opacity="0.55" stroke-width="0.5"/>
<rect x="542.65" y="396.2" width="4.5" height="4.5" fill="#e8f4e6" stroke="#7a7a7a" stroke-opacity="0.55" stroke-width="0.5"/>
<rect x="553.32" y="396.55" width="3.8" height="3.8" fill="#fbaa5a" stroke="#7a7a7a" stroke-opacity="0.55" stroke-width="0.5"/>
<rect x="565.29" y="398.2" width="0.5" height="0.5" fill="#fbaa5a" stroke="#7a7a7a" stroke-opacity="0.55" stroke-width="0.5"/>
<rect x="573.36" y="395.95" width="5" height="5" fill="#d8eef4" stroke="#7a7a7a" stroke-opacity="0.55" stroke-width="0.5"/>
<rect x="584.18" y="396.45" width="4" height="4" fill="#f7fbd2" stroke="#7a7a7a" stroke-opacity="0.55" stroke-width="0.5"/>
<rect x="594.6" y="396.55" width="3.8" height="3.8" fill="#fbaa5a" stroke="#7a7a7a" stroke-opacity="0.55" stroke-width="0.5"/>
<rect x="605.42" y="397.05" width="2.8" height="2.8" fill="#fbaa5a" stroke="#7a7a7a" stroke-opacity="0.55" stroke-width="0.5"/>
<rect x="615.14" y="396.45" width="4" height="4" fill="#fbaa5a" stroke="#7a7a7a" stroke-opacity="0.55" stroke-width="0.5"/>
<rect x="625.96" y="396.95" width="3" height="3" fill="#fbaa5a" stroke="#7a7a7a" stroke-opacity="0.55" stroke-width="0.5"/>
<rect x="635.53" y="396.2" width="4.5" height="4.5" fill="#f7fbd2" stroke="#7a7a7a" stroke-opacity="0.55" stroke-width="0.5"/>
<rect x="645.1" y="395.45" width="6" height="6" fill="#6a9fd0" stroke="#7a7a7a" stroke-opacity="0.55" stroke-width="0.5"/>
<rect x="658.17" y="398.2" width="0.5" height="0.5" fill="#fbaa5a" stroke="#7a7a7a" stroke-opacity="0.55" stroke-width="0.5"/>
<rect x="667.74" y="397.45" width="2" height="2" fill="#fbaa5a" stroke="#7a7a7a" stroke-opacity="0.55" stroke-width="0.5"/>
<rect x="419.31" y="407" width="3.5" height="3.5" fill="#fbaa5a" stroke="#7a7a7a" stroke-opacity="0.55" stroke-width="0.5"/>
<rect x="431.13" y="408.5" width="0.5" height="0.5" fill="#fbaa5a" stroke="#7a7a7a" stroke-opacity="0.55" stroke-width="0.5"/>
<rect x="441.45" y="408.5" width="0.5" height="0.5" fill="#fbaa5a" stroke="#7a7a7a" stroke-opacity="0.55" stroke-width="0.5"/>
<rect x="451.02" y="407.75" width="2" height="2" fill="#fbaa5a" stroke="#7a7a7a" stroke-opacity="0.55" stroke-width="0.5"/>
<rect x="460.84" y="407.25" width="3" height="3" fill="#fff2ae" stroke="#7a7a7a" stroke-opacity="0.55" stroke-width="0.5"/>
<rect x="470.91" y="407" width="3.5" height="3.5" fill="#fbaa5a" stroke="#7a7a7a" stroke-opacity="0.55" stroke-width="0.5"/>
<rect x="481.98" y="407.75" width="2" height="2" fill="#fbaa5a" stroke="#7a7a7a" stroke-opacity="0.55" stroke-width="0.5"/>
<rect x="491.8" y="407.25" width="3" height="3" fill="#fbaa5a" stroke="#7a7a7a" stroke-opacity="0.55" stroke-width="0.5"/>
<rect x="502.52" y="407.65" width="2.2" height="2.2" fill="#fff2ae" stroke="#7a7a7a" stroke-opacity="0.55" stroke-width="0.5"/>
<rect x="512.19" y="407" width="3.5" height="3.5" fill="#fbaa5a" stroke="#7a7a7a" stroke-opacity="0.55" stroke-width="0.5"/>
<rect x="522.66" y="407.15" width="3.2" height="3.2" fill="#fbaa5a" stroke="#7a7a7a" stroke-opacity="0.55" stroke-width="0.5"/>
<rect x="533.18" y="407.35" width="2.8" height="2.8" fill="#fbaa5a" stroke="#7a7a7a" stroke-opacity="0.55" stroke-width="0.5"/>
<rect x="543.15" y="407" width="3.5" height="3.5" fill="#fff2ae" stroke="#7a7a7a" stroke-opacity="0.55" stroke-width="0.5"/>
<rect x="554.22" y="407.75" width="2" height="2" fill="#fff2ae" stroke="#7a7a7a" stroke-opacity="0.55" stroke-width="0.5"/>
<rect x="563.79" y="407" width="3.5" height="3.5" fill="#fff2ae" stroke="#7a7a7a" stroke-opacity="0.55" stroke-width="0.5"/>
<rect x="573.36" y="406.25" width="5" height="5" fill="#d8eef4" stroke="#7a7a7a" stroke-opacity="0.55" stroke-width="0.5"/>
<rect x="585.93" y="408.5" width="0.5" height="0.5" fill="#fbaa5a" stroke="#7a7a7a" stroke-opacity="0.55" stroke-width="0.5"/>
<rect x="595.25" y="407.5" width="2.5" height="2.5" fill="#fbaa5a" stroke="#7a7a7a" stroke-opacity="0.55" stroke-width="0.5"/>
<rect x="605.82" y="407.75" width="2" height="2" fill="#fbaa5a" stroke="#7a7a7a" stroke-opacity="0.55" stroke-width="0.5"/>
<rect x="616.64" y="408.25" width="1" height="1" fill="#fbaa5a" stroke="#7a7a7a" stroke-opacity="0.55" stroke-width="0.5"/>
<rect x="626.46" y="407.75" width="2" height="2" fill="#fbaa5a" stroke="#7a7a7a" stroke-opacity="0.55" stroke-width="0.5"/>
<rect x="636.78" y="407.75" width="2" height="2" fill="#fbaa5a" stroke="#7a7a7a" stroke-opacity="0.55" stroke-width="0.5"/>
<rect x="647.1" y="407.75" width="2" height="2" fill="#fff2ae" stroke="#7a7a7a" stroke-opacity="0.55" stroke-width="0.5"/>
<rect x="657.17" y="407.5" width="2.5" height="2.5" fill="#fbaa5a" stroke="#7a7a7a" stroke-opacity="0.55" stroke-width="0.5"/>
<rect x="666.74" y="406.75" width="4" height="4" fill="#f7fbd2" stroke="#7a7a7a" stroke-opacity="0.55" stroke-width="0.5"/>
<rect x="419.81" y="417.8" width="2.5" height="2.5" fill="#fff2ae" stroke="#7a7a7a" stroke-opacity="0.55" stroke-width="0.5"/>
<rect x="430.13" y="417.8" width="2.5" height="2.5" fill="#fbaa5a" stroke="#7a7a7a" stroke-opacity="0.55" stroke-width="0.5"/>
<rect x="439.7" y="417.05" width="4" height="4" fill="#f7fbd2" stroke="#7a7a7a" stroke-opacity="0.55" stroke-width="0.5"/>
<rect x="451.62" y="418.65" width="0.8" height="0.8" fill="#fbaa5a" stroke="#7a7a7a" stroke-opacity="0.55" stroke-width="0.5"/>
<rect x="460.09" y="416.8" width="4.5" height="4.5" fill="#e8f4e6" stroke="#7a7a7a" stroke-opacity="0.55" stroke-width="0.5"/>
<rect x="471.41" y="417.8" width="2.5" height="2.5" fill="#fff2ae" stroke="#7a7a7a" stroke-opacity="0.55" stroke-width="0.5"/>
<rect x="482.58" y="418.65" width="0.8" height="0.8" fill="#fbaa5a" stroke="#7a7a7a" stroke-opacity="0.55" stroke-width="0.5"/>
<rect x="491.3" y="417.05" width="4" height="4" fill="#fbaa5a" stroke="#7a7a7a" stroke-opacity="0.55" stroke-width="0.5"/>
<rect x="502.87" y="418.3" width="1.5" height="1.5" fill="#fbaa5a" stroke="#7a7a7a" stroke-opacity="0.55" stroke-width="0.5"/>
<rect x="511.84" y="416.95" width="4.2" height="4.2" fill="#f7904a" stroke="#7a7a7a" stroke-opacity="0.55" stroke-width="0.5"/>
<rect x="521.51" y="416.3" width="5.5" height="5.5" fill="#a9d4ea" stroke="#7a7a7a" stroke-opacity="0.55" stroke-width="0.5"/>
<rect x="531.83" y="416.3" width="5.5" height="5.5" fill="#a9d4ea" stroke="#7a7a7a" stroke-opacity="0.55" stroke-width="0.5"/>
<rect x="543.8" y="417.95" width="2.2" height="2.2" fill="#fff2ae" stroke="#7a7a7a" stroke-opacity="0.55" stroke-width="0.5"/>
<rect x="553.82" y="417.65" width="2.8" height="2.8" fill="#fbaa5a" stroke="#7a7a7a" stroke-opacity="0.55" stroke-width="0.5"/>
<rect x="564.54" y="418.05" width="2" height="2" fill="#fbaa5a" stroke="#7a7a7a" stroke-opacity="0.55" stroke-width="0.5"/>
<rect x="574.61" y="417.8" width="2.5" height="2.5" fill="#fbaa5a" stroke="#7a7a7a" stroke-opacity="0.55" stroke-width="0.5"/>
<rect x="584.43" y="417.3" width="3.5" height="3.5" fill="#fbaa5a" stroke="#7a7a7a" stroke-opacity="0.55" stroke-width="0.5"/>
<rect x="595" y="417.55" width="3" height="3" fill="#fbaa5a" stroke="#7a7a7a" stroke-opacity="0.55" stroke-width="0.5"/>
<rect x="605.72" y="417.95" width="2.2" height="2.2" fill="#fbaa5a" stroke="#7a7a7a" stroke-opacity="0.55" stroke-width="0.5"/>
<rect x="615.89" y="417.8" width="2.5" height="2.5" fill="#fbaa5a" stroke="#7a7a7a" stroke-opacity="0.55" stroke-width="0.5"/>
<rect x="626.21" y="417.8" width="2.5" height="2.5" fill="#fbaa5a" stroke="#7a7a7a" stroke-opacity="0.55" stroke-width="0.5"/>
<rect x="636.03" y="417.3" width="3.5" height="3.5" fill="#fbaa5a" stroke="#7a7a7a" stroke-opacity="0.55" stroke-width="0.5"/>
<rect x="646.35" y="417.3" width="3.5" height="3.5" fill="#fbaa5a" stroke="#7a7a7a" stroke-opacity="0.55" stroke-width="0.5"/>
<rect x="656.92" y="417.55" width="3" height="3" fill="#fbaa5a" stroke="#7a7a7a" stroke-opacity="0.55" stroke-width="0.5"/>
<rect x="667.64" y="417.95" width="2.2" height="2.2" fill="#fbaa5a" stroke="#7a7a7a" stroke-opacity="0.55" stroke-width="0.5"/>
<rect x="418.81" y="427.1" width="4.5" height="4.5" fill="#f0653c" stroke="#7a7a7a" stroke-opacity="0.55" stroke-width="0.5"/>
<rect x="428.88" y="426.85" width="5" height="5" fill="#f0653c" stroke="#7a7a7a" stroke-opacity="0.55" stroke-width="0.5"/>
<rect x="439.45" y="427.1" width="4.5" height="4.5" fill="#f0653c" stroke="#7a7a7a" stroke-opacity="0.55" stroke-width="0.5"/>
<rect x="449.77" y="427.1" width="4.5" height="4.5" fill="#f0653c" stroke="#7a7a7a" stroke-opacity="0.55" stroke-width="0.5"/>
<rect x="459.34" y="426.35" width="6" height="6" fill="#d7301f" stroke="#7a7a7a" stroke-opacity="0.55" stroke-width="0.5"/>
<rect x="471.66" y="428.35" width="2" height="2" fill="#fff2ae" stroke="#7a7a7a" stroke-opacity="0.55" stroke-width="0.5"/>
<rect x="481.23" y="427.6" width="3.5" height="3.5" fill="#f7fbd2" stroke="#7a7a7a" stroke-opacity="0.55" stroke-width="0.5"/>
<rect x="491.55" y="427.6" width="3.5" height="3.5" fill="#fbaa5a" stroke="#7a7a7a" stroke-opacity="0.55" stroke-width="0.5"/>
<rect x="501.12" y="426.85" width="5" height="5" fill="#f0653c" stroke="#7a7a7a" stroke-opacity="0.55" stroke-width="0.5"/>
<rect x="513.19" y="428.6" width="1.5" height="1.5" fill="#fbaa5a" stroke="#7a7a7a" stroke-opacity="0.55" stroke-width="0.5"/>
<rect x="522.76" y="427.85" width="3" height="3" fill="#fbaa5a" stroke="#7a7a7a" stroke-opacity="0.55" stroke-width="0.5"/>
<rect x="531.58" y="426.35" width="6" height="6" fill="#a9d4ea" stroke="#7a7a7a" stroke-opacity="0.55" stroke-width="0.5"/>
<rect x="543.15" y="427.6" width="3.5" height="3.5" fill="#fbaa5a" stroke="#7a7a7a" stroke-opacity="0.55" stroke-width="0.5"/>
<rect x="553.97" y="428.1" width="2.5" height="2.5" fill="#fbaa5a" stroke="#7a7a7a" stroke-opacity="0.55" stroke-width="0.5"/>
<rect x="563.29" y="427.1" width="4.5" height="4.5" fill="#f7fbd2" stroke="#7a7a7a" stroke-opacity="0.55" stroke-width="0.5"/>
<rect x="573.11" y="426.6" width="5.5" height="5.5" fill="#d8eef4" stroke="#7a7a7a" stroke-opacity="0.55" stroke-width="0.5"/>
<rect x="583.93" y="427.1" width="4.5" height="4.5" fill="#f7fbd2" stroke="#7a7a7a" stroke-opacity="0.55" stroke-width="0.5"/>
<rect x="595.25" y="428.1" width="2.5" height="2.5" fill="#fbaa5a" stroke="#7a7a7a" stroke-opacity="0.55" stroke-width="0.5"/>
<rect x="605.07" y="427.6" width="3.5" height="3.5" fill="#fbaa5a" stroke="#7a7a7a" stroke-opacity="0.55" stroke-width="0.5"/>
<rect x="615.14" y="427.35" width="4" height="4" fill="#f7904a" stroke="#7a7a7a" stroke-opacity="0.55" stroke-width="0.5"/>
<rect x="625.71" y="427.6" width="3.5" height="3.5" fill="#f7fbd2" stroke="#7a7a7a" stroke-opacity="0.55" stroke-width="0.5"/>
<rect x="637.53" y="429.1" width="0.5" height="0.5" fill="#fbaa5a" stroke="#7a7a7a" stroke-opacity="0.55" stroke-width="0.5"/>
<rect x="647.1" y="428.35" width="2" height="2" fill="#fff2ae" stroke="#7a7a7a" stroke-opacity="0.55" stroke-width="0.5"/>
<rect x="657.67" y="428.6" width="1.5" height="1.5" fill="#fbaa5a" stroke="#7a7a7a" stroke-opacity="0.55" stroke-width="0.5"/>
<rect x="667.49" y="428.1" width="2.5" height="2.5" fill="#fff2ae" stroke="#7a7a7a" stroke-opacity="0.55" stroke-width="0.5"/>
<rect x="420.56" y="439.15" width="1" height="1" fill="#fbaa5a" stroke="#7a7a7a" stroke-opacity="0.55" stroke-width="0.5"/>
<rect x="428.63" y="436.9" width="5.5" height="5.5" fill="#a9d4ea" stroke="#7a7a7a" stroke-opacity="0.55" stroke-width="0.5"/>
<rect x="439.95" y="437.9" width="3.5" height="3.5" fill="#f7fbd2" stroke="#7a7a7a" stroke-opacity="0.55" stroke-width="0.5"/>
<rect x="448.27" y="435.9" width="7.5" height="7.5" fill="#30379a" stroke="#7a7a7a" stroke-opacity="0.55" stroke-width="0.5"/>
<rect x="459.09" y="436.4" width="6.5" height="6.5" fill="#6a9fd0" stroke="#7a7a7a" stroke-opacity="0.55" stroke-width="0.5"/>
<rect x="470.16" y="437.15" width="5" height="5" fill="#f0653c" stroke="#7a7a7a" stroke-opacity="0.55" stroke-width="0.5"/>
<rect x="481.98" y="438.65" width="2" height="2" fill="#fbaa5a" stroke="#7a7a7a" stroke-opacity="0.55" stroke-width="0.5"/>
<rect x="492.3" y="438.65" width="2" height="2" fill="#fbaa5a" stroke="#7a7a7a" stroke-opacity="0.55" stroke-width="0.5"/>
<rect x="500.37" y="436.4" width="6.5" height="6.5" fill="#6a9fd0" stroke="#7a7a7a" stroke-opacity="0.55" stroke-width="0.5"/>
<rect x="512.69" y="438.4" width="2.5" height="2.5" fill="#fff2ae" stroke="#7a7a7a" stroke-opacity="0.55" stroke-width="0.5"/>
<rect x="522.16" y="437.55" width="4.2" height="4.2" fill="#f7904a" stroke="#7a7a7a" stroke-opacity="0.55" stroke-width="0.5"/>
<rect x="531.33" y="436.4" width="6.5" height="6.5" fill="#d7301f" stroke="#7a7a7a" stroke-opacity="0.55" stroke-width="0.5"/>
<rect x="542.65" y="437.4" width="4.5" height="4.5" fill="#e8f4e6" stroke="#7a7a7a" stroke-opacity="0.55" stroke-width="0.5"/>
<rect x="553.72" y="438.15" width="3" height="3" fill="#fff2ae" stroke="#7a7a7a" stroke-opacity="0.55" stroke-width="0.5"/>
<rect x="563.04" y="437.15" width="5" height="5" fill="#f0653c" stroke="#7a7a7a" stroke-opacity="0.55" stroke-width="0.5"/>
<rect x="574.36" y="438.15" width="3" height="3" fill="#fff2ae" stroke="#7a7a7a" stroke-opacity="0.55" stroke-width="0.5"/>
<rect x="584.68" y="438.15" width="3" height="3" fill="#fff2ae" stroke="#7a7a7a" stroke-opacity="0.55" stroke-width="0.5"/>
<rect x="595.25" y="438.4" width="2.5" height="2.5" fill="#fff2ae" stroke="#7a7a7a" stroke-opacity="0.55" stroke-width="0.5"/>
<rect x="605.07" y="437.9" width="3.5" height="3.5" fill="#fbaa5a" stroke="#7a7a7a" stroke-opacity="0.55" stroke-width="0.5"/>
<rect x="615.89" y="438.4" width="2.5" height="2.5" fill="#fbaa5a" stroke="#7a7a7a" stroke-opacity="0.55" stroke-width="0.5"/>
<rect x="626.96" y="439.15" width="1" height="1" fill="#fbaa5a" stroke="#7a7a7a" stroke-opacity="0.55" stroke-width="0.5"/>
<rect x="635.28" y="437.15" width="5" height="5" fill="#f0653c" stroke="#7a7a7a" stroke-opacity="0.55" stroke-width="0.5"/>
<rect x="646.85" y="438.4" width="2.5" height="2.5" fill="#fbaa5a" stroke="#7a7a7a" stroke-opacity="0.55" stroke-width="0.5"/>
<rect x="655.67" y="436.9" width="5.5" height="5.5" fill="#f0653c" stroke="#7a7a7a" stroke-opacity="0.55" stroke-width="0.5"/>
<rect x="667.34" y="438.25" width="2.8" height="2.8" fill="#fff2ae" stroke="#7a7a7a" stroke-opacity="0.55" stroke-width="0.5"/>
<rect x="419.31" y="448.2" width="3.5" height="3.5" fill="#fbaa5a" stroke="#7a7a7a" stroke-opacity="0.55" stroke-width="0.5"/>
<rect x="428.13" y="446.7" width="6.5" height="6.5" fill="#a9d4ea" stroke="#7a7a7a" stroke-opacity="0.55" stroke-width="0.5"/>
<rect x="441.45" y="449.7" width="0.5" height="0.5" fill="#fbaa5a" stroke="#7a7a7a" stroke-opacity="0.55" stroke-width="0.5"/>
<rect x="450.02" y="447.95" width="4" height="4" fill="#e8f4e6" stroke="#7a7a7a" stroke-opacity="0.55" stroke-width="0.5"/>
<rect x="460.84" y="448.45" width="3" height="3" fill="#fff2ae" stroke="#7a7a7a" stroke-opacity="0.55" stroke-width="0.5"/>
<rect x="470.16" y="447.45" width="5" height="5" fill="#f0653c" stroke="#7a7a7a" stroke-opacity="0.55" stroke-width="0.5"/>
<rect x="481.23" y="448.2" width="3.5" height="3.5" fill="#fbaa5a" stroke="#7a7a7a" stroke-opacity="0.55" stroke-width="0.5"/>
<rect x="492.05" y="448.7" width="2.5" height="2.5" fill="#fff2ae" stroke="#7a7a7a" stroke-opacity="0.55" stroke-width="0.5"/>
<rect x="501.37" y="447.7" width="4.5" height="4.5" fill="#e8f4e6" stroke="#7a7a7a" stroke-opacity="0.55" stroke-width="0.5"/>
<rect x="511.69" y="447.7" width="4.5" height="4.5" fill="#e8f4e6" stroke="#7a7a7a" stroke-opacity="0.55" stroke-width="0.5"/>
<rect x="524.01" y="449.7" width="0.5" height="0.5" fill="#fbaa5a" stroke="#7a7a7a" stroke-opacity="0.55" stroke-width="0.5"/>
<rect x="532.08" y="447.45" width="5" height="5" fill="#f0653c" stroke="#7a7a7a" stroke-opacity="0.55" stroke-width="0.5"/>
<rect x="543.4" y="448.45" width="3" height="3" fill="#fbaa5a" stroke="#7a7a7a" stroke-opacity="0.55" stroke-width="0.5"/>
<rect x="552.22" y="446.95" width="6" height="6" fill="#a9d4ea" stroke="#7a7a7a" stroke-opacity="0.55" stroke-width="0.5"/>
<rect x="564.54" y="448.95" width="2" height="2" fill="#fbaa5a" stroke="#7a7a7a" stroke-opacity="0.55" stroke-width="0.5"/>
<rect x="575.11" y="449.2" width="1.5" height="1.5" fill="#fbaa5a" stroke="#7a7a7a" stroke-opacity="0.55" stroke-width="0.5"/>
<rect x="585.93" y="449.7" width="0.5" height="0.5" fill="#fbaa5a" stroke="#7a7a7a" stroke-opacity="0.55" stroke-width="0.5"/>
<rect x="595.1" y="448.55" width="2.8" height="2.8" fill="#fff2ae" stroke="#7a7a7a" stroke-opacity="0.55" stroke-width="0.5"/>
<rect x="605.72" y="448.85" width="2.2" height="2.2" fill="#fbaa5a" stroke="#7a7a7a" stroke-opacity="0.55" stroke-width="0.5"/>
<rect x="614.64" y="447.45" width="5" height="5" fill="#d8eef4" stroke="#7a7a7a" stroke-opacity="0.55" stroke-width="0.5"/>
<rect x="625.71" y="448.2" width="3.5" height="3.5" fill="#fbaa5a" stroke="#7a7a7a" stroke-opacity="0.55" stroke-width="0.5"/>
<rect x="636.68" y="448.85" width="2.2" height="2.2" fill="#fbaa5a" stroke="#7a7a7a" stroke-opacity="0.55" stroke-width="0.5"/>
<rect x="645.85" y="447.7" width="4.5" height="4.5" fill="#f7904a" stroke="#7a7a7a" stroke-opacity="0.55" stroke-width="0.5"/>
<rect x="656.82" y="448.35" width="3.2" height="3.2" fill="#fbaa5a" stroke="#7a7a7a" stroke-opacity="0.55" stroke-width="0.5"/>
<rect x="666.24" y="447.45" width="5" height="5" fill="#d8eef4" stroke="#7a7a7a" stroke-opacity="0.55" stroke-width="0.5"/>
<rect x="419.31" y="458.5" width="3.5" height="3.5" fill="#f7fbd2" stroke="#7a7a7a" stroke-opacity="0.55" stroke-width="0.5"/>
<rect x="429.63" y="458.5" width="3.5" height="3.5" fill="#f7fbd2" stroke="#7a7a7a" stroke-opacity="0.55" stroke-width="0.5"/>
<rect x="438.45" y="457" width="6.5" height="6.5" fill="#6a9fd0" stroke="#7a7a7a" stroke-opacity="0.55" stroke-width="0.5"/>
<rect x="450.92" y="459.15" width="2.2" height="2.2" fill="#fbaa5a" stroke="#7a7a7a" stroke-opacity="0.55" stroke-width="0.5"/>
<rect x="459.84" y="457.75" width="5" height="5" fill="#d8eef4" stroke="#7a7a7a" stroke-opacity="0.55" stroke-width="0.5"/>
<rect x="471.41" y="459" width="2.5" height="2.5" fill="#fff2ae" stroke="#7a7a7a" stroke-opacity="0.55" stroke-width="0.5"/>
<rect x="481.73" y="459" width="2.5" height="2.5" fill="#fbaa5a" stroke="#7a7a7a" stroke-opacity="0.55" stroke-width="0.5"/>
<rect x="492.05" y="459" width="2.5" height="2.5" fill="#fbaa5a" stroke="#7a7a7a" stroke-opacity="0.55" stroke-width="0.5"/>
<rect x="502.37" y="459" width="2.5" height="2.5" fill="#fff2ae" stroke="#7a7a7a" stroke-opacity="0.55" stroke-width="0.5"/>
<rect x="512.19" y="458.5" width="3.5" height="3.5" fill="#fbaa5a" stroke="#7a7a7a" stroke-opacity="0.55" stroke-width="0.5"/>
<rect x="522.01" y="458" width="4.5" height="4.5" fill="#e8f4e6" stroke="#7a7a7a" stroke-opacity="0.55" stroke-width="0.5"/>
<rect x="534.08" y="459.75" width="1" height="1" fill="#fbaa5a" stroke="#7a7a7a" stroke-opacity="0.55" stroke-width="0.5"/>
<rect x="542.65" y="458" width="4.5" height="4.5" fill="#e8f4e6" stroke="#7a7a7a" stroke-opacity="0.55" stroke-width="0.5"/>
<rect x="553.82" y="458.85" width="2.8" height="2.8" fill="#fbaa5a" stroke="#7a7a7a" stroke-opacity="0.55" stroke-width="0.5"/>
<rect x="563.54" y="458.25" width="4" height="4" fill="#fbaa5a" stroke="#7a7a7a" stroke-opacity="0.55" stroke-width="0.5"/>
<rect x="573.61" y="458" width="4.5" height="4.5" fill="#f7904a" stroke="#7a7a7a" stroke-opacity="0.55" stroke-width="0.5"/>
<rect x="583.43" y="457.5" width="5.5" height="5.5" fill="#f0653c" stroke="#7a7a7a" stroke-opacity="0.55" stroke-width="0.5"/>
<rect x="595.25" y="459" width="2.5" height="2.5" fill="#fff2ae" stroke="#7a7a7a" stroke-opacity="0.55" stroke-width="0.5"/>
<rect x="604.07" y="457.5" width="5.5" height="5.5" fill="#a9d4ea" stroke="#7a7a7a" stroke-opacity="0.55" stroke-width="0.5"/>
<rect x="616.64" y="459.75" width="1" height="1" fill="#fbaa5a" stroke="#7a7a7a" stroke-opacity="0.55" stroke-width="0.5"/>
<rect x="626.71" y="459.5" width="1.5" height="1.5" fill="#fbaa5a" stroke="#7a7a7a" stroke-opacity="0.55" stroke-width="0.5"/>
<rect x="635.78" y="458.25" width="4" height="4" fill="#fbaa5a" stroke="#7a7a7a" stroke-opacity="0.55" stroke-width="0.5"/>
<rect x="646.85" y="459" width="2.5" height="2.5" fill="#fff2ae" stroke="#7a7a7a" stroke-opacity="0.55" stroke-width="0.5"/>
<rect x="657.32" y="459.15" width="2.2" height="2.2" fill="#fbaa5a" stroke="#7a7a7a" stroke-opacity="0.55" stroke-width="0.5"/>
<rect x="667.34" y="458.85" width="2.8" height="2.8" fill="#fbaa5a" stroke="#7a7a7a" stroke-opacity="0.55" stroke-width="0.5"/>
<rect x="420.56" y="470.05" width="1" height="1" fill="#fbaa5a" stroke="#7a7a7a" stroke-opacity="0.55" stroke-width="0.5"/>
<rect x="429.63" y="468.8" width="3.5" height="3.5" fill="#fbaa5a" stroke="#7a7a7a" stroke-opacity="0.55" stroke-width="0.5"/>
<rect x="439.7" y="468.55" width="4" height="4" fill="#fbaa5a" stroke="#7a7a7a" stroke-opacity="0.55" stroke-width="0.5"/>
<rect x="450.77" y="469.3" width="2.5" height="2.5" fill="#fbaa5a" stroke="#7a7a7a" stroke-opacity="0.55" stroke-width="0.5"/>
<rect x="460.59" y="468.8" width="3.5" height="3.5" fill="#fbaa5a" stroke="#7a7a7a" stroke-opacity="0.55" stroke-width="0.5"/>
<rect x="470.91" y="468.8" width="3.5" height="3.5" fill="#f7fbd2" stroke="#7a7a7a" stroke-opacity="0.55" stroke-width="0.5"/>
<rect x="481.98" y="469.55" width="2" height="2" fill="#fbaa5a" stroke="#7a7a7a" stroke-opacity="0.55" stroke-width="0.5"/>
<rect x="491.05" y="468.3" width="4.5" height="4.5" fill="#e8f4e6" stroke="#7a7a7a" stroke-opacity="0.55" stroke-width="0.5"/>
<rect x="502.37" y="469.3" width="2.5" height="2.5" fill="#fbaa5a" stroke="#7a7a7a" stroke-opacity="0.55" stroke-width="0.5"/>
<rect x="512.94" y="469.55" width="2" height="2" fill="#fbaa5a" stroke="#7a7a7a" stroke-opacity="0.55" stroke-width="0.5"/>
<rect x="522.76" y="469.05" width="3" height="3" fill="#fbaa5a" stroke="#7a7a7a" stroke-opacity="0.55" stroke-width="0.5"/>
<rect x="532.83" y="468.8" width="3.5" height="3.5" fill="#fbaa5a" stroke="#7a7a7a" stroke-opacity="0.55" stroke-width="0.5"/>
<rect x="544.15" y="469.8" width="1.5" height="1.5" fill="#fbaa5a" stroke="#7a7a7a" stroke-opacity="0.55" stroke-width="0.5"/>
<rect x="554.72" y="470.05" width="1" height="1" fill="#fbaa5a" stroke="#7a7a7a" stroke-opacity="0.55" stroke-width="0.5"/>
<rect x="563.79" y="468.8" width="3.5" height="3.5" fill="#fbaa5a" stroke="#7a7a7a" stroke-opacity="0.55" stroke-width="0.5"/>
<rect x="573.86" y="468.55" width="4" height="4" fill="#f7fbd2" stroke="#7a7a7a" stroke-opacity="0.55" stroke-width="0.5"/>
<rect x="584.93" y="469.3" width="2.5" height="2.5" fill="#fff2ae" stroke="#7a7a7a" stroke-opacity="0.55" stroke-width="0.5"/>
<rect x="594.75" y="468.8" width="3.5" height="3.5" fill="#fbaa5a" stroke="#7a7a7a" stroke-opacity="0.55" stroke-width="0.5"/>
<rect x="606.07" y="469.8" width="1.5" height="1.5" fill="#fbaa5a" stroke="#7a7a7a" stroke-opacity="0.55" stroke-width="0.5"/>
<rect x="615.39" y="468.8" width="3.5" height="3.5" fill="#fbaa5a" stroke="#7a7a7a" stroke-opacity="0.55" stroke-width="0.5"/>
<rect x="624.96" y="468.05" width="5" height="5" fill="#d8eef4" stroke="#7a7a7a" stroke-opacity="0.55" stroke-width="0.5"/>
<rect x="636.53" y="469.3" width="2.5" height="2.5" fill="#fbaa5a" stroke="#7a7a7a" stroke-opacity="0.55" stroke-width="0.5"/>
<rect x="646.2" y="468.65" width="3.8" height="3.8" fill="#f7fbd2" stroke="#7a7a7a" stroke-opacity="0.55" stroke-width="0.5"/>
<rect x="656.52" y="468.65" width="3.8" height="3.8" fill="#fbaa5a" stroke="#7a7a7a" stroke-opacity="0.55" stroke-width="0.5"/>
<rect x="667.49" y="469.3" width="2.5" height="2.5" fill="#fbaa5a" stroke="#7a7a7a" stroke-opacity="0.55" stroke-width="0.5"/>
<rect x="418.56" y="478.35" width="5" height="5" fill="#d8eef4" stroke="#7a7a7a" stroke-opacity="0.55" stroke-width="0.5"/>
<rect x="429.63" y="479.1" width="3.5" height="3.5" fill="#fbaa5a" stroke="#7a7a7a" stroke-opacity="0.55" stroke-width="0.5"/>
<rect x="440.45" y="479.6" width="2.5" height="2.5" fill="#fbaa5a" stroke="#7a7a7a" stroke-opacity="0.55" stroke-width="0.5"/>
<rect x="450.27" y="479.1" width="3.5" height="3.5" fill="#fbaa5a" stroke="#7a7a7a" stroke-opacity="0.55" stroke-width="0.5"/>
<rect x="462.09" y="480.6" width="0.5" height="0.5" fill="#fbaa5a" stroke="#7a7a7a" stroke-opacity="0.55" stroke-width="0.5"/>
<rect x="470.76" y="478.95" width="3.8" height="3.8" fill="#fbaa5a" stroke="#7a7a7a" stroke-opacity="0.55" stroke-width="0.5"/>
<rect x="481.98" y="479.85" width="2" height="2" fill="#fbaa5a" stroke="#7a7a7a" stroke-opacity="0.55" stroke-width="0.5"/>
<rect x="491.3" y="478.85" width="4" height="4" fill="#f7fbd2" stroke="#7a7a7a" stroke-opacity="0.55" stroke-width="0.5"/>
<rect x="502.37" y="479.6" width="2.5" height="2.5" fill="#fbaa5a" stroke="#7a7a7a" stroke-opacity="0.55" stroke-width="0.5"/>
<rect x="512.19" y="479.1" width="3.5" height="3.5" fill="#fbaa5a" stroke="#7a7a7a" stroke-opacity="0.55" stroke-width="0.5"/>
<rect x="521.51" y="478.1" width="5.5" height="5.5" fill="#f0653c" stroke="#7a7a7a" stroke-opacity="0.55" stroke-width="0.5"/>
<rect x="531.58" y="477.85" width="6" height="6" fill="#a9d4ea" stroke="#7a7a7a" stroke-opacity="0.55" stroke-width="0.5"/>
<rect x="543.5" y="479.45" width="2.8" height="2.8" fill="#fff2ae" stroke="#7a7a7a" stroke-opacity="0.55" stroke-width="0.5"/>
<rect x="553.97" y="479.6" width="2.5" height="2.5" fill="#fbaa5a" stroke="#7a7a7a" stroke-opacity="0.55" stroke-width="0.5"/>
<rect x="564.79" y="480.1" width="1.5" height="1.5" fill="#fbaa5a" stroke="#7a7a7a" stroke-opacity="0.55" stroke-width="0.5"/>
<rect x="573.86" y="478.85" width="4" height="4" fill="#f7fbd2" stroke="#7a7a7a" stroke-opacity="0.55" stroke-width="0.5"/>
<rect x="584.43" y="479.1" width="3.5" height="3.5" fill="#fbaa5a" stroke="#7a7a7a" stroke-opacity="0.55" stroke-width="0.5"/>
<rect x="594.75" y="479.1" width="3.5" height="3.5" fill="#fbaa5a" stroke="#7a7a7a" stroke-opacity="0.55" stroke-width="0.5"/>
<rect x="604.32" y="478.35" width="5" height="5" fill="#d8eef4" stroke="#7a7a7a" stroke-opacity="0.55" stroke-width="0.5"/>
<rect x="615.39" y="479.1" width="3.5" height="3.5" fill="#fbaa5a" stroke="#7a7a7a" stroke-opacity="0.55" stroke-width="0.5"/>
<rect x="625.46" y="478.85" width="4" height="4" fill="#fbaa5a" stroke="#7a7a7a" stroke-opacity="0.55" stroke-width="0.5"/>
<rect x="636.38" y="479.45" width="2.8" height="2.8" fill="#fbaa5a" stroke="#7a7a7a" stroke-opacity="0.55" stroke-width="0.5"/>
<rect x="647" y="479.75" width="2.2" height="2.2" fill="#fbaa5a" stroke="#7a7a7a" stroke-opacity="0.55" stroke-width="0.5"/>
<rect x="656.42" y="478.85" width="4" height="4" fill="#fbaa5a" stroke="#7a7a7a" stroke-opacity="0.55" stroke-width="0.5"/>
<rect x="668.49" y="480.6" width="0.5" height="0.5" fill="#fbaa5a" stroke="#7a7a7a" stroke-opacity="0.55" stroke-width="0.5"/>
<rect x="419.16" y="489.25" width="3.8" height="3.8" fill="#fbaa5a" stroke="#7a7a7a" stroke-opacity="0.55" stroke-width="0.5"/>
<rect x="430.28" y="490.05" width="2.2" height="2.2" fill="#fff2ae" stroke="#7a7a7a" stroke-opacity="0.55" stroke-width="0.5"/>
<rect x="439.8" y="489.25" width="3.8" height="3.8" fill="#f7fbd2" stroke="#7a7a7a" stroke-opacity="0.55" stroke-width="0.5"/>
<rect x="451.77" y="490.9" width="0.5" height="0.5" fill="#fbaa5a" stroke="#7a7a7a" stroke-opacity="0.55" stroke-width="0.5"/>
<rect x="460.44" y="489.25" width="3.8" height="3.8" fill="#f7fbd2" stroke="#7a7a7a" stroke-opacity="0.55" stroke-width="0.5"/>
<rect x="470.41" y="488.9" width="4.5" height="4.5" fill="#f0653c" stroke="#7a7a7a" stroke-opacity="0.55" stroke-width="0.5"/>
<rect x="482.08" y="490.25" width="1.8" height="1.8" fill="#fbaa5a" stroke="#7a7a7a" stroke-opacity="0.55" stroke-width="0.5"/>
<rect x="492.8" y="490.65" width="1" height="1" fill="#fbaa5a" stroke="#7a7a7a" stroke-opacity="0.55" stroke-width="0.5"/>
<rect x="501.72" y="489.25" width="3.8" height="3.8" fill="#f7fbd2" stroke="#7a7a7a" stroke-opacity="0.55" stroke-width="0.5"/>
<rect x="512.69" y="489.9" width="2.5" height="2.5" fill="#fbaa5a" stroke="#7a7a7a" stroke-opacity="0.55" stroke-width="0.5"/>
<rect x="523.51" y="490.4" width="1.5" height="1.5" fill="#fbaa5a" stroke="#7a7a7a" stroke-opacity="0.55" stroke-width="0.5"/>
<rect x="533.18" y="489.75" width="2.8" height="2.8" fill="#fbaa5a" stroke="#7a7a7a" stroke-opacity="0.55" stroke-width="0.5"/>
<rect x="542.8" y="489.05" width="4.2" height="4.2" fill="#f7fbd2" stroke="#7a7a7a" stroke-opacity="0.55" stroke-width="0.5"/>
<rect x="553.82" y="489.75" width="2.8" height="2.8" fill="#fbaa5a" stroke="#7a7a7a" stroke-opacity="0.55" stroke-width="0.5"/>
<rect x="564.54" y="490.15" width="2" height="2" fill="#fff2ae" stroke="#7a7a7a" stroke-opacity="0.55" stroke-width="0.5"/>
<rect x="573.76" y="489.05" width="4.2" height="4.2" fill="#f7fbd2" stroke="#7a7a7a" stroke-opacity="0.55" stroke-width="0.5"/>
<rect x="585.43" y="490.4" width="1.5" height="1.5" fill="#fbaa5a" stroke="#7a7a7a" stroke-opacity="0.55" stroke-width="0.5"/>
<rect x="595.75" y="490.4" width="1.5" height="1.5" fill="#fbaa5a" stroke="#7a7a7a" stroke-opacity="0.55" stroke-width="0.5"/>
<rect x="605.82" y="490.15" width="2" height="2" fill="#fbaa5a" stroke="#7a7a7a" stroke-opacity="0.55" stroke-width="0.5"/>
<rect x="616.39" y="490.4" width="1.5" height="1.5" fill="#fbaa5a" stroke="#7a7a7a" stroke-opacity="0.55" stroke-width="0.5"/>
<rect x="625.86" y="489.55" width="3.2" height="3.2" fill="#f7fbd2" stroke="#7a7a7a" stroke-opacity="0.55" stroke-width="0.5"/>
<rect x="636.18" y="489.55" width="3.2" height="3.2" fill="#fbaa5a" stroke="#7a7a7a" stroke-opacity="0.55" stroke-width="0.5"/>
<rect x="646.85" y="489.9" width="2.5" height="2.5" fill="#fff2ae" stroke="#7a7a7a" stroke-opacity="0.55" stroke-width="0.5"/>
<rect x="657.42" y="490.15" width="2" height="2" fill="#fbaa5a" stroke="#7a7a7a" stroke-opacity="0.55" stroke-width="0.5"/>
<rect x="667.74" y="490.15" width="2" height="2" fill="#fff2ae" stroke="#7a7a7a" stroke-opacity="0.55" stroke-width="0.5"/>
<rect x="419.46" y="499.85" width="3.2" height="3.2" fill="#fbaa5a" stroke="#7a7a7a" stroke-opacity="0.55" stroke-width="0.5"/>
<rect x="430.28" y="500.35" width="2.2" height="2.2" fill="#fbaa5a" stroke="#7a7a7a" stroke-opacity="0.55" stroke-width="0.5"/>
<rect x="440.8" y="500.55" width="1.8" height="1.8" fill="#fbaa5a" stroke="#7a7a7a" stroke-opacity="0.55" stroke-width="0.5"/>
<rect x="450.77" y="500.2" width="2.5" height="2.5" fill="#fbaa5a" stroke="#7a7a7a" stroke-opacity="0.55" stroke-width="0.5"/>
<rect x="460.94" y="500.05" width="2.8" height="2.8" fill="#fbaa5a" stroke="#7a7a7a" stroke-opacity="0.55" stroke-width="0.5"/>
<rect x="471.41" y="500.2" width="2.5" height="2.5" fill="#fbaa5a" stroke="#7a7a7a" stroke-opacity="0.55" stroke-width="0.5"/>
<rect x="481.48" y="499.95" width="3" height="3" fill="#fbaa5a" stroke="#7a7a7a" stroke-opacity="0.55" stroke-width="0.5"/>
<rect x="490.3" y="498.45" width="6" height="6" fill="#a9d4ea" stroke="#7a7a7a" stroke-opacity="0.55" stroke-width="0.5"/>
<rect x="501.72" y="499.55" width="3.8" height="3.8" fill="#fbaa5a" stroke="#7a7a7a" stroke-opacity="0.55" stroke-width="0.5"/>
<rect x="512.19" y="499.7" width="3.5" height="3.5" fill="#fbaa5a" stroke="#7a7a7a" stroke-opacity="0.55" stroke-width="0.5"/>
<rect x="522.66" y="499.85" width="3.2" height="3.2" fill="#fff2ae" stroke="#7a7a7a" stroke-opacity="0.55" stroke-width="0.5"/>
<rect x="532.83" y="499.7" width="3.5" height="3.5" fill="#fbaa5a" stroke="#7a7a7a" stroke-opacity="0.55" stroke-width="0.5"/>
<rect x="543" y="499.55" width="3.8" height="3.8" fill="#f7fbd2" stroke="#7a7a7a" stroke-opacity="0.55" stroke-width="0.5"/>
<rect x="553.97" y="500.2" width="2.5" height="2.5" fill="#fff2ae" stroke="#7a7a7a" stroke-opacity="0.55" stroke-width="0.5"/>
<rect x="564.29" y="500.2" width="2.5" height="2.5" fill="#fbaa5a" stroke="#7a7a7a" stroke-opacity="0.55" stroke-width="0.5"/>
<rect x="574.36" y="499.95" width="3" height="3" fill="#fbaa5a" stroke="#7a7a7a" stroke-opacity="0.55" stroke-width="0.5"/>
<rect x="584.93" y="500.2" width="2.5" height="2.5" fill="#fbaa5a" stroke="#7a7a7a" stroke-opacity="0.55" stroke-width="0.5"/>
<rect x="594.9" y="499.85" width="3.2" height="3.2" fill="#fbaa5a" stroke="#7a7a7a" stroke-opacity="0.55" stroke-width="0.5"/>
<rect x="605.72" y="500.35" width="2.2" height="2.2" fill="#fbaa5a" stroke="#7a7a7a" stroke-opacity="0.55" stroke-width="0.5"/>
<rect x="616.04" y="500.35" width="2.2" height="2.2" fill="#fff2ae" stroke="#7a7a7a" stroke-opacity="0.55" stroke-width="0.5"/>
<rect x="625.86" y="499.85" width="3.2" height="3.2" fill="#fff2ae" stroke="#7a7a7a" stroke-opacity="0.55" stroke-width="0.5"/>
<rect x="636.78" y="500.45" width="2" height="2" fill="#fff2ae" stroke="#7a7a7a" stroke-opacity="0.55" stroke-width="0.5"/>
<rect x="646.35" y="499.7" width="3.5" height="3.5" fill="#f7fbd2" stroke="#7a7a7a" stroke-opacity="0.55" stroke-width="0.5"/>
<rect x="657.42" y="500.45" width="2" height="2" fill="#fbaa5a" stroke="#7a7a7a" stroke-opacity="0.55" stroke-width="0.5"/>
<rect x="667.74" y="500.45" width="2" height="2" fill="#fbaa5a" stroke="#7a7a7a" stroke-opacity="0.55" stroke-width="0.5"/>
<rect x="419.81" y="510.5" width="2.5" height="2.5" fill="#fbaa5a" stroke="#7a7a7a" stroke-opacity="0.55" stroke-width="0.5"/>
<rect x="429.98" y="510.35" width="2.8" height="2.8" fill="#fbaa5a" stroke="#7a7a7a" stroke-opacity="0.55" stroke-width="0.5"/>
<rect x="440.8" y="510.85" width="1.8" height="1.8" fill="#fbaa5a" stroke="#7a7a7a" stroke-opacity="0.55" stroke-width="0.5"/>
<rect x="451.12" y="510.85" width="1.8" height="1.8" fill="#fbaa5a" stroke="#7a7a7a" stroke-opacity="0.55" stroke-width="0.5"/>
<rect x="461.44" y="510.85" width="1.8" height="1.8" fill="#fbaa5a" stroke="#7a7a7a" stroke-opacity="0.55" stroke-width="0.5"/>
<rect x="471.26" y="510.35" width="2.8" height="2.8" fill="#fbaa5a" stroke="#7a7a7a" stroke-opacity="0.55" stroke-width="0.5"/>
<rect x="481.58" y="510.35" width="2.8" height="2.8" fill="#fbaa5a" stroke="#7a7a7a" stroke-opacity="0.55" stroke-width="0.5"/>
<rect x="491.55" y="510" width="3.5" height="3.5" fill="#fbaa5a" stroke="#7a7a7a" stroke-opacity="0.55" stroke-width="0.5"/>
<rect x="502.87" y="511" width="1.5" height="1.5" fill="#fbaa5a" stroke="#7a7a7a" stroke-opacity="0.55" stroke-width="0.5"/>
<rect x="511.94" y="509.75" width="4" height="4" fill="#f7fbd2" stroke="#7a7a7a" stroke-opacity="0.55" stroke-width="0.5"/>
<rect x="521.76" y="509.25" width="5" height="5" fill="#d8eef4" stroke="#7a7a7a" stroke-opacity="0.55" stroke-width="0.5"/>
<rect x="533.48" y="510.65" width="2.2" height="2.2" fill="#fbaa5a" stroke="#7a7a7a" stroke-opacity="0.55" stroke-width="0.5"/>
<rect x="543.5" y="510.35" width="2.8" height="2.8" fill="#fbaa5a" stroke="#7a7a7a" stroke-opacity="0.55" stroke-width="0.5"/>
<rect x="553.32" y="509.85" width="3.8" height="3.8" fill="#fbaa5a" stroke="#7a7a7a" stroke-opacity="0.55" stroke-width="0.5"/>
<rect x="565.29" y="511.5" width="0.5" height="0.5" fill="#fbaa5a" stroke="#7a7a7a" stroke-opacity="0.55" stroke-width="0.5"/>
<rect x="574.46" y="510.35" width="2.8" height="2.8" fill="#fff2ae" stroke="#7a7a7a" stroke-opacity="0.55" stroke-width="0.5"/>
<rect x="584.18" y="509.75" width="4" height="4" fill="#f7904a" stroke="#7a7a7a" stroke-opacity="0.55" stroke-width="0.5"/>
<rect x="594.25" y="509.5" width="4.5" height="4.5" fill="#e8f4e6" stroke="#7a7a7a" stroke-opacity="0.55" stroke-width="0.5"/>
<rect x="603.82" y="508.75" width="6" height="6" fill="#6a9fd0" stroke="#7a7a7a" stroke-opacity="0.55" stroke-width="0.5"/>
<rect x="615.24" y="509.85" width="3.8" height="3.8" fill="#f7fbd2" stroke="#7a7a7a" stroke-opacity="0.55" stroke-width="0.5"/>
<rect x="626.21" y="510.5" width="2.5" height="2.5" fill="#fbaa5a" stroke="#7a7a7a" stroke-opacity="0.55" stroke-width="0.5"/>
<rect x="635.88" y="509.85" width="3.8" height="3.8" fill="#fbaa5a" stroke="#7a7a7a" stroke-opacity="0.55" stroke-width="0.5"/>
<rect x="645.85" y="509.5" width="4.5" height="4.5" fill="#f0653c" stroke="#7a7a7a" stroke-opacity="0.55" stroke-width="0.5"/>
<rect x="658.17" y="511.5" width="0.5" height="0.5" fill="#fbaa5a" stroke="#7a7a7a" stroke-opacity="0.55" stroke-width="0.5"/>
<rect x="668.49" y="511.5" width="0.5" height="0.5" fill="#fbaa5a" stroke="#7a7a7a" stroke-opacity="0.55" stroke-width="0.5"/>
<rect x="419.31" y="520.3" width="3.5" height="3.5" fill="#fbaa5a" stroke="#7a7a7a" stroke-opacity="0.55" stroke-width="0.5"/>
<rect x="429.78" y="520.45" width="3.2" height="3.2" fill="#fbaa5a" stroke="#7a7a7a" stroke-opacity="0.55" stroke-width="0.5"/>
<rect x="440.45" y="520.8" width="2.5" height="2.5" fill="#fff2ae" stroke="#7a7a7a" stroke-opacity="0.55" stroke-width="0.5"/>
<rect x="451.77" y="521.8" width="0.5" height="0.5" fill="#fbaa5a" stroke="#7a7a7a" stroke-opacity="0.55" stroke-width="0.5"/>
<rect x="461.09" y="520.8" width="2.5" height="2.5" fill="#fbaa5a" stroke="#7a7a7a" stroke-opacity="0.55" stroke-width="0.5"/>
<rect x="471.16" y="520.55" width="3" height="3" fill="#fbaa5a" stroke="#7a7a7a" stroke-opacity="0.55" stroke-width="0.5"/>
<rect x="481.08" y="520.15" width="3.8" height="3.8" fill="#fbaa5a" stroke="#7a7a7a" stroke-opacity="0.55" stroke-width="0.5"/>
<rect x="490.3" y="519.05" width="6" height="6" fill="#a9d4ea" stroke="#7a7a7a" stroke-opacity="0.55" stroke-width="0.5"/>
<rect x="501.12" y="519.55" width="5" height="5" fill="#f0653c" stroke="#7a7a7a" stroke-opacity="0.55" stroke-width="0.5"/>
<rect x="512.04" y="520.15" width="3.8" height="3.8" fill="#fbaa5a" stroke="#7a7a7a" stroke-opacity="0.55" stroke-width="0.5"/>
<rect x="521.76" y="519.55" width="5" height="5" fill="#d8eef4" stroke="#7a7a7a" stroke-opacity="0.55" stroke-width="0.5"/>
<rect x="533.08" y="520.55" width="3" height="3" fill="#fbaa5a" stroke="#7a7a7a" stroke-opacity="0.55" stroke-width="0.5"/>
<rect x="543.8" y="520.95" width="2.2" height="2.2" fill="#fff2ae" stroke="#7a7a7a" stroke-opacity="0.55" stroke-width="0.5"/>
<rect x="553.12" y="519.95" width="4.2" height="4.2" fill="#f7fbd2" stroke="#7a7a7a" stroke-opacity="0.55" stroke-width="0.5"/>
<rect x="563.79" y="520.3" width="3.5" height="3.5" fill="#fbaa5a" stroke="#7a7a7a" stroke-opacity="0.55" stroke-width="0.5"/>
<rect x="574.61" y="520.8" width="2.5" height="2.5" fill="#fbaa5a" stroke="#7a7a7a" stroke-opacity="0.55" stroke-width="0.5"/>
<rect x="584.43" y="520.3" width="3.5" height="3.5" fill="#fbaa5a" stroke="#7a7a7a" stroke-opacity="0.55" stroke-width="0.5"/>
<rect x="595.1" y="520.65" width="2.8" height="2.8" fill="#fbaa5a" stroke="#7a7a7a" stroke-opacity="0.55" stroke-width="0.5"/>
<rect x="605.57" y="520.8" width="2.5" height="2.5" fill="#fbaa5a" stroke="#7a7a7a" stroke-opacity="0.55" stroke-width="0.5"/>
<rect x="615.89" y="520.8" width="2.5" height="2.5" fill="#fff2ae" stroke="#7a7a7a" stroke-opacity="0.55" stroke-width="0.5"/>
<rect x="624.96" y="519.55" width="5" height="5" fill="#d8eef4" stroke="#7a7a7a" stroke-opacity="0.55" stroke-width="0.5"/>
<rect x="636.53" y="520.8" width="2.5" height="2.5" fill="#fbaa5a" stroke="#7a7a7a" stroke-opacity="0.55" stroke-width="0.5"/>
<rect x="647.1" y="521.05" width="2" height="2" fill="#fff2ae" stroke="#7a7a7a" stroke-opacity="0.55" stroke-width="0.5"/>
<rect x="657.17" y="520.8" width="2.5" height="2.5" fill="#fff2ae" stroke="#7a7a7a" stroke-opacity="0.55" stroke-width="0.5"/>
<rect x="668.49" y="521.8" width="0.5" height="0.5" fill="#fbaa5a" stroke="#7a7a7a" stroke-opacity="0.55" stroke-width="0.5"/>
<rect x="419.16" y="530.45" width="3.8" height="3.8" fill="#f7fbd2" stroke="#7a7a7a" stroke-opacity="0.55" stroke-width="0.5"/>
<rect x="429.78" y="530.75" width="3.2" height="3.2" fill="#fbaa5a" stroke="#7a7a7a" stroke-opacity="0.55" stroke-width="0.5"/>
<rect x="439.95" y="530.6" width="3.5" height="3.5" fill="#f7fbd2" stroke="#7a7a7a" stroke-opacity="0.55" stroke-width="0.5"/>
<rect x="450.27" y="530.6" width="3.5" height="3.5" fill="#fbaa5a" stroke="#7a7a7a" stroke-opacity="0.55" stroke-width="0.5"/>
<rect x="460.84" y="530.85" width="3" height="3" fill="#fbaa5a" stroke="#7a7a7a" stroke-opacity="0.55" stroke-width="0.5"/>
<rect x="470.91" y="530.6" width="3.5" height="3.5" fill="#fbaa5a" stroke="#7a7a7a" stroke-opacity="0.55" stroke-width="0.5"/>
<rect x="481.98" y="531.35" width="2" height="2" fill="#fbaa5a" stroke="#7a7a7a" stroke-opacity="0.55" stroke-width="0.5"/>
<rect x="492.3" y="531.35" width="2" height="2" fill="#fff2ae" stroke="#7a7a7a" stroke-opacity="0.55" stroke-width="0.5"/>
<rect x="503.37" y="532.1" width="0.5" height="0.5" fill="#fbaa5a" stroke="#7a7a7a" stroke-opacity="0.55" stroke-width="0.5"/>
<rect x="513.04" y="531.45" width="1.8" height="1.8" fill="#fbaa5a" stroke="#7a7a7a" stroke-opacity="0.55" stroke-width="0.5"/>
<rect x="522.16" y="530.25" width="4.2" height="4.2" fill="#f7fbd2" stroke="#7a7a7a" stroke-opacity="0.55" stroke-width="0.5"/>
<rect x="533.58" y="531.35" width="2" height="2" fill="#fbaa5a" stroke="#7a7a7a" stroke-opacity="0.55" stroke-width="0.5"/>
<rect x="543.9" y="531.35" width="2" height="2" fill="#fbaa5a" stroke="#7a7a7a" stroke-opacity="0.55" stroke-width="0.5"/>
<rect x="554.97" y="532.1" width="0.5" height="0.5" fill="#fbaa5a" stroke="#7a7a7a" stroke-opacity="0.55" stroke-width="0.5"/>
<rect x="564.04" y="530.85" width="3" height="3" fill="#fff2ae" stroke="#7a7a7a" stroke-opacity="0.55" stroke-width="0.5"/>
<rect x="574.36" y="530.85" width="3" height="3" fill="#fbaa5a" stroke="#7a7a7a" stroke-opacity="0.55" stroke-width="0.5"/>
<rect x="584.28" y="530.45" width="3.8" height="3.8" fill="#fbaa5a" stroke="#7a7a7a" stroke-opacity="0.55" stroke-width="0.5"/>
<rect x="594.25" y="530.1" width="4.5" height="4.5" fill="#e8f4e6" stroke="#7a7a7a" stroke-opacity="0.55" stroke-width="0.5"/>
<rect x="606.67" y="532.2" width="0.3" height="0.3" fill="#fbaa5a" stroke="#7a7a7a" stroke-opacity="0.55" stroke-width="0.5"/>
<rect x="616.04" y="531.25" width="2.2" height="2.2" fill="#fbaa5a" stroke="#7a7a7a" stroke-opacity="0.55" stroke-width="0.5"/>
<rect x="625.86" y="530.75" width="3.2" height="3.2" fill="#fff2ae" stroke="#7a7a7a" stroke-opacity="0.55" stroke-width="0.5"/>
<rect x="635.78" y="530.35" width="4" height="4" fill="#fbaa5a" stroke="#7a7a7a" stroke-opacity="0.55" stroke-width="0.5"/>
<rect x="647.35" y="531.6" width="1.5" height="1.5" fill="#fbaa5a" stroke="#7a7a7a" stroke-opacity="0.55" stroke-width="0.5"/>
<rect x="656.82" y="530.75" width="3.2" height="3.2" fill="#fff2ae" stroke="#7a7a7a" stroke-opacity="0.55" stroke-width="0.5"/>
<rect x="667.99" y="531.6" width="1.5" height="1.5" fill="#fbaa5a" stroke="#7a7a7a" stroke-opacity="0.55" stroke-width="0.5"/>
<rect x="418.56" y="540.15" width="5" height="5" fill="#d8eef4" stroke="#7a7a7a" stroke-opacity="0.55" stroke-width="0.5"/>
<rect x="429.63" y="540.9" width="3.5" height="3.5" fill="#fbaa5a" stroke="#7a7a7a" stroke-opacity="0.55" stroke-width="0.5"/>
<rect x="441.45" y="542.4" width="0.5" height="0.5" fill="#fbaa5a" stroke="#7a7a7a" stroke-opacity="0.55" stroke-width="0.5"/>
<rect x="451.02" y="541.65" width="2" height="2" fill="#fbaa5a" stroke="#7a7a7a" stroke-opacity="0.55" stroke-width="0.5"/>
<rect x="460.94" y="541.25" width="2.8" height="2.8" fill="#fbaa5a" stroke="#7a7a7a" stroke-opacity="0.55" stroke-width="0.5"/>
<rect x="471.16" y="541.15" width="3" height="3" fill="#fbaa5a" stroke="#7a7a7a" stroke-opacity="0.55" stroke-width="0.5"/>
<rect x="481.98" y="541.65" width="2" height="2" fill="#fbaa5a" stroke="#7a7a7a" stroke-opacity="0.55" stroke-width="0.5"/>
<rect x="491.55" y="540.9" width="3.5" height="3.5" fill="#fbaa5a" stroke="#7a7a7a" stroke-opacity="0.55" stroke-width="0.5"/>
<rect x="502.37" y="541.4" width="2.5" height="2.5" fill="#fff2ae" stroke="#7a7a7a" stroke-opacity="0.55" stroke-width="0.5"/>
<rect x="512.54" y="541.25" width="2.8" height="2.8" fill="#fff2ae" stroke="#7a7a7a" stroke-opacity="0.55" stroke-width="0.5"/>
<rect x="523.26" y="541.65" width="2" height="2" fill="#fbaa5a" stroke="#7a7a7a" stroke-opacity="0.55" stroke-width="0.5"/>
<rect x="533.33" y="541.4" width="2.5" height="2.5" fill="#fbaa5a" stroke="#7a7a7a" stroke-opacity="0.55" stroke-width="0.5"/>
<rect x="543.3" y="541.05" width="3.2" height="3.2" fill="#fbaa5a" stroke="#7a7a7a" stroke-opacity="0.55" stroke-width="0.5"/>
<rect x="553.72" y="541.15" width="3" height="3" fill="#fbaa5a" stroke="#7a7a7a" stroke-opacity="0.55" stroke-width="0.5"/>
<rect x="563.29" y="540.4" width="4.5" height="4.5" fill="#e8f4e6" stroke="#7a7a7a" stroke-opacity="0.55" stroke-width="0.5"/>
<rect x="574.76" y="541.55" width="2.2" height="2.2" fill="#fbaa5a" stroke="#7a7a7a" stroke-opacity="0.55" stroke-width="0.5"/>
<rect x="585.93" y="542.4" width="0.5" height="0.5" fill="#fbaa5a" stroke="#7a7a7a" stroke-opacity="0.55" stroke-width="0.5"/>
<rect x="594.25" y="540.4" width="4.5" height="4.5" fill="#e8f4e6" stroke="#7a7a7a" stroke-opacity="0.55" stroke-width="0.5"/>
<rect x="604.92" y="540.75" width="3.8" height="3.8" fill="#f7fbd2" stroke="#7a7a7a" stroke-opacity="0.55" stroke-width="0.5"/>
<rect x="616.14" y="541.65" width="2" height="2" fill="#fbaa5a" stroke="#7a7a7a" stroke-opacity="0.55" stroke-width="0.5"/>
<rect x="625.71" y="540.9" width="3.5" height="3.5" fill="#fbaa5a" stroke="#7a7a7a" stroke-opacity="0.55" stroke-width="0.5"/>
<rect x="636.18" y="541.05" width="3.2" height="3.2" fill="#fff2ae" stroke="#7a7a7a" stroke-opacity="0.55" stroke-width="0.5"/>
<rect x="646.6" y="541.15" width="3" height="3" fill="#fbaa5a" stroke="#7a7a7a" stroke-opacity="0.55" stroke-width="0.5"/>
<rect x="657.17" y="541.4" width="2.5" height="2.5" fill="#fff2ae" stroke="#7a7a7a" stroke-opacity="0.55" stroke-width="0.5"/>
<rect x="667.99" y="541.9" width="1.5" height="1.5" fill="#fbaa5a" stroke="#7a7a7a" stroke-opacity="0.55" stroke-width="0.5"/>
<path d="M586.03 302.4L586.03 305.1M584.86 303.07L587.2 304.43M584.86 304.43L587.2 303.07M419.16 312.7L419.16 315.4M417.99 313.38L420.33 314.73M417.99 314.73L420.33 313.38M422.66 312.7L422.66 315.4M421.49 313.38L423.83 314.73M421.49 314.73L423.83 313.38M472.51 312.7L472.51 315.4M471.34 313.38L473.68 314.73M471.34 314.73L473.68 313.38M563.64 312.7L563.64 315.4M562.47 313.38L564.81 314.73M562.47 314.73L564.81 313.38M567.14 312.7L567.14 315.4M565.97 313.38L568.31 314.73M565.97 314.73L568.31 313.38M637.63 312.7L637.63 315.4M636.46 313.38L638.8 314.73M636.46 314.73L638.8 313.38M493.15 323L493.15 325.7M491.98 323.68L494.32 325.03M491.98 325.03L494.32 323.68M419.16 333.3L419.16 336M417.99 333.98L420.33 335.33M417.99 335.33L420.33 333.98M422.66 333.3L422.66 336M421.49 333.98L423.83 335.33M421.49 335.33L423.83 333.98M503.47 333.3L503.47 336M502.3 333.98L504.64 335.33M502.3 335.33L504.64 333.98M563.64 333.3L563.64 336M562.47 333.98L564.81 335.33M562.47 335.33L564.81 333.98M567.14 333.3L567.14 336M565.97 333.98L568.31 335.33M565.97 335.33L568.31 333.98M429.48 343.6L429.48 346.3M428.31 344.28L430.65 345.63M428.31 345.63L430.65 344.28M432.98 343.6L432.98 346.3M431.81 344.28L434.15 345.63M431.81 345.63L434.15 344.28M419.16 353.9L419.16 356.6M417.99 354.57L420.33 355.93M417.99 355.93L420.33 354.57M422.66 353.9L422.66 356.6M421.49 354.57L423.83 355.93M421.49 355.93L423.83 354.57M501.72 353.9L501.72 356.6M500.55 354.57L502.89 355.93M500.55 355.93L502.89 354.57M505.22 353.9L505.22 356.6M504.05 354.57L506.39 355.93M504.05 355.93L506.39 354.57M439.8 364.2L439.8 366.9M438.63 364.88L440.97 366.23M438.63 366.23L440.97 364.88M443.3 364.2L443.3 366.9M442.13 364.88L444.47 366.23M442.13 366.23L444.47 364.88M448.37 364.2L448.37 366.9M447.2 364.88L449.54 366.23M447.2 366.23L449.54 364.88M451.87 364.2L451.87 366.9M450.7 364.88L453.04 366.23M450.7 366.23L453.04 364.88M455.37 364.2L455.37 366.9M454.2 364.88L456.54 366.23M454.2 366.23L456.54 364.88M503.47 364.2L503.47 366.9M502.3 364.88L504.64 366.23M502.3 366.23L504.64 364.88M565.39 364.2L565.39 366.9M564.22 364.88L566.56 366.23M564.22 366.23L566.56 364.88M613.49 364.2L613.49 366.9M612.32 364.88L614.66 366.23M612.32 366.23L614.66 364.88M616.99 364.2L616.99 366.9M615.82 364.88L618.16 366.23M615.82 366.23L618.16 364.88M620.49 364.2L620.49 366.9M619.32 364.88L621.66 366.23M619.32 366.23L621.66 364.88M448.37 374.5L448.37 377.2M447.2 375.18L449.54 376.53M447.2 376.53L449.54 375.18M451.87 374.5L451.87 377.2M450.7 375.18L453.04 376.53M450.7 376.53L453.04 375.18M455.37 374.5L455.37 377.2M454.2 375.18L456.54 376.53M454.2 376.53L456.54 375.18M458.69 374.5L458.69 377.2M457.52 375.18L459.86 376.53M457.52 376.53L459.86 375.18M462.19 374.5L462.19 377.2M461.02 375.18L463.36 376.53M461.02 376.53L463.36 375.18M465.69 374.5L465.69 377.2M464.52 375.18L466.86 376.53M464.52 376.53L466.86 375.18M469.01 374.5L469.01 377.2M467.84 375.18L470.18 376.53M467.84 376.53L470.18 375.18M472.51 374.5L472.51 377.2M471.34 375.18L473.68 376.53M471.34 376.53L473.68 375.18M476.01 374.5L476.01 377.2M474.84 375.18L477.18 376.53M474.84 376.53L477.18 375.18M493.15 374.5L493.15 377.2M491.98 375.18L494.32 376.53M491.98 376.53L494.32 375.18M503.47 374.5L503.47 377.2M502.3 375.18L504.64 376.53M502.3 376.53L504.64 375.18M510.29 374.5L510.29 377.2M509.12 375.18L511.46 376.53M509.12 376.53L511.46 375.18M513.79 374.5L513.79 377.2M512.62 375.18L514.96 376.53M512.62 376.53L514.96 375.18M517.29 374.5L517.29 377.2M516.12 375.18L518.46 376.53M516.12 376.53L518.46 375.18M647.95 374.5L647.95 377.2M646.78 375.18L649.12 376.53M646.78 376.53L649.12 375.18M441.55 384.8L441.55 387.5M440.38 385.48L442.72 386.83M440.38 386.83L442.72 385.48M451.87 384.8L451.87 387.5M450.7 385.48L453.04 386.83M450.7 386.83L453.04 385.48M503.47 384.8L503.47 387.5M502.3 385.48L504.64 386.83M502.3 386.83L504.64 385.48M520.61 384.8L520.61 387.5M519.44 385.48L521.78 386.83M519.44 386.83L521.78 385.48M524.11 384.8L524.11 387.5M522.94 385.48L525.28 386.83M522.94 386.83L525.28 385.48M527.61 384.8L527.61 387.5M526.44 385.48L528.78 386.83M526.44 386.83L528.78 385.48M563.64 384.8L563.64 387.5M562.47 385.48L564.81 386.83M562.47 386.83L564.81 385.48M567.14 384.8L567.14 387.5M565.97 385.48L568.31 386.83M565.97 386.83L568.31 385.48M575.71 384.8L575.71 387.5M574.54 385.48L576.88 386.83M574.54 386.83L576.88 385.48M616.99 384.8L616.99 387.5M615.82 385.48L618.16 386.83M615.82 386.83L618.16 385.48M575.71 395.1L575.71 397.8M574.54 395.78L576.88 397.13M574.54 397.13L576.88 395.78M644.45 395.1L644.45 397.8M643.28 395.78L645.62 397.13M643.28 397.13L645.62 395.78M647.95 395.1L647.95 397.8M646.78 395.78L649.12 397.13M646.78 397.13L649.12 395.78M651.45 395.1L651.45 397.8M650.28 395.78L652.62 397.13M650.28 397.13L652.62 395.78M575.71 405.4L575.71 408.1M574.54 406.07L576.88 407.43M574.54 407.43L576.88 406.07M522.36 415.7L522.36 418.4M521.19 416.38L523.53 417.73M521.19 417.73L523.53 416.38M525.86 415.7L525.86 418.4M524.69 416.38L527.03 417.73M524.69 417.73L527.03 416.38M532.68 415.7L532.68 418.4M531.51 416.38L533.85 417.73M531.51 417.73L533.85 416.38M536.18 415.7L536.18 418.4M535.01 416.38L537.35 417.73M535.01 417.73L537.35 416.38M420.91 426L420.91 428.7M419.74 426.68L422.08 428.03M419.74 428.03L422.08 426.68M429.48 426L429.48 428.7M428.31 426.68L430.65 428.03M428.31 428.03L430.65 426.68M432.98 426L432.98 428.7M431.81 426.68L434.15 428.03M431.81 428.03L434.15 426.68M441.55 426L441.55 428.7M440.38 426.68L442.72 428.03M440.38 428.03L442.72 426.68M451.87 426L451.87 428.7M450.7 426.68L453.04 428.03M450.7 428.03L453.04 426.68M460.44 426L460.44 428.7M459.27 426.68L461.61 428.03M459.27 428.03L461.61 426.68M463.94 426L463.94 428.7M462.77 426.68L465.11 428.03M462.77 428.03L465.11 426.68M503.47 426L503.47 428.7M502.3 426.68L504.64 428.03M502.3 428.03L504.64 426.68M532.68 426L532.68 428.7M531.51 426.68L533.85 428.03M531.51 428.03L533.85 426.68M536.18 426L536.18 428.7M535.01 426.68L537.35 428.03M535.01 428.03L537.35 426.68M575.71 426L575.71 428.7M574.54 426.68L576.88 428.03M574.54 428.03L576.88 426.68M429.48 436.3L429.48 439M428.31 436.98L430.65 438.33M428.31 438.33L430.65 436.98M432.98 436.3L432.98 439M431.81 436.98L434.15 438.33M431.81 438.33L434.15 436.98M448.37 436.3L448.37 439M447.2 436.98L449.54 438.33M447.2 438.33L449.54 436.98M451.87 436.3L451.87 439M450.7 436.98L453.04 438.33M450.7 438.33L453.04 436.98M455.37 436.3L455.37 439M454.2 436.98L456.54 438.33M454.2 438.33L456.54 436.98M458.69 436.3L458.69 439M457.52 436.98L459.86 438.33M457.52 438.33L459.86 436.98M462.19 436.3L462.19 439M461.02 436.98L463.36 438.33M461.02 438.33L463.36 436.98M465.69 436.3L465.69 439M464.52 436.98L466.86 438.33M464.52 438.33L466.86 436.98M470.76 436.3L470.76 439M469.59 436.98L471.93 438.33M469.59 438.33L471.93 436.98M474.26 436.3L474.26 439M473.09 436.98L475.43 438.33M473.09 438.33L475.43 436.98M499.97 436.3L499.97 439M498.8 436.98L501.14 438.33M498.8 438.33L501.14 436.98M503.47 436.3L503.47 439M502.3 436.98L504.64 438.33M502.3 438.33L504.64 436.98M506.97 436.3L506.97 439M505.8 436.98L508.14 438.33M505.8 438.33L508.14 436.98M530.93 436.3L530.93 439M529.76 436.98L532.1 438.33M529.76 438.33L532.1 436.98M534.43 436.3L534.43 439M533.26 436.98L535.6 438.33M533.26 438.33L535.6 436.98M537.93 436.3L537.93 439M536.76 436.98L539.1 438.33M536.76 438.33L539.1 436.98M565.39 436.3L565.39 439M564.22 436.98L566.56 438.33M564.22 438.33L566.56 436.98M637.63 436.3L637.63 439M636.46 436.98L638.8 438.33M636.46 438.33L638.8 436.98M656.52 436.3L656.52 439M655.35 436.98L657.69 438.33M655.35 438.33L657.69 436.98M660.02 436.3L660.02 439M658.85 436.98L661.19 438.33M658.85 438.33L661.19 436.98M427.73 446.6L427.73 449.3M426.56 447.28L428.9 448.63M426.56 448.63L428.9 447.28M431.23 446.6L431.23 449.3M430.06 447.28L432.4 448.63M430.06 448.63L432.4 447.28M434.73 446.6L434.73 449.3M433.56 447.28L435.9 448.63M433.56 448.63L435.9 447.28M470.76 446.6L470.76 449.3M469.59 447.28L471.93 448.63M469.59 448.63L471.93 447.28M474.26 446.6L474.26 449.3M473.09 447.28L475.43 448.63M473.09 448.63L475.43 447.28M534.43 446.6L534.43 449.3M533.26 447.28L535.6 448.63M533.26 448.63L535.6 447.28M551.57 446.6L551.57 449.3M550.4 447.28L552.74 448.63M550.4 448.63L552.74 447.28M555.07 446.6L555.07 449.3M553.9 447.28L556.24 448.63M553.9 448.63L556.24 447.28M558.57 446.6L558.57 449.3M557.4 447.28L559.74 448.63M557.4 448.63L559.74 447.28M616.99 446.6L616.99 449.3M615.82 447.28L618.16 448.63M615.82 448.63L618.16 447.28M668.59 446.6L668.59 449.3M667.42 447.28L669.76 448.63M667.42 448.63L669.76 447.28M438.05 456.9L438.05 459.6M436.88 457.57L439.22 458.93M436.88 458.93L439.22 457.57M441.55 456.9L441.55 459.6M440.38 457.57L442.72 458.93M440.38 458.93L442.72 457.57M445.05 456.9L445.05 459.6M443.88 457.57L446.22 458.93M443.88 458.93L446.22 457.57M462.19 456.9L462.19 459.6M461.02 457.57L463.36 458.93M461.02 458.93L463.36 457.57M584.28 456.9L584.28 459.6M583.11 457.57L585.45 458.93M583.11 458.93L585.45 457.57M587.78 456.9L587.78 459.6M586.61 457.57L588.95 458.93M586.61 458.93L588.95 457.57M604.92 456.9L604.92 459.6M603.75 457.57L606.09 458.93M603.75 458.93L606.09 457.57M608.42 456.9L608.42 459.6M607.25 457.57L609.59 458.93M607.25 458.93L609.59 457.57M627.31 467.2L627.31 469.9M626.14 467.88L628.48 469.23M626.14 469.23L628.48 467.88M420.91 477.5L420.91 480.2M419.74 478.18L422.08 479.53M419.74 479.53L422.08 478.18M522.36 477.5L522.36 480.2M521.19 478.18L523.53 479.53M521.19 479.53L523.53 478.18M525.86 477.5L525.86 480.2M524.69 478.18L527.03 479.53M524.69 479.53L527.03 478.18M530.93 477.5L530.93 480.2M529.76 478.18L532.1 479.53M529.76 479.53L532.1 478.18M534.43 477.5L534.43 480.2M533.26 478.18L535.6 479.53M533.26 479.53L535.6 478.18M537.93 477.5L537.93 480.2M536.76 478.18L539.1 479.53M536.76 479.53L539.1 478.18M606.67 477.5L606.67 480.2M605.5 478.18L607.84 479.53M605.5 479.53L607.84 478.18M472.51 487.8L472.51 490.5M471.34 488.48L473.68 489.83M471.34 489.83L473.68 488.48M489.65 498.1L489.65 500.8M488.48 498.78L490.82 500.13M488.48 500.13L490.82 498.78M493.15 498.1L493.15 500.8M491.98 498.78L494.32 500.13M491.98 500.13L494.32 498.78M496.65 498.1L496.65 500.8M495.48 498.78L497.82 500.13M495.48 500.13L497.82 498.78M524.11 508.4L524.11 511.1M522.94 509.07L525.28 510.43M522.94 510.43L525.28 509.07M603.17 508.4L603.17 511.1M602 509.07L604.34 510.43M602 510.43L604.34 509.07M606.67 508.4L606.67 511.1M605.5 509.07L607.84 510.43M605.5 510.43L607.84 509.07M610.17 508.4L610.17 511.1M609 509.07L611.34 510.43M609 510.43L611.34 509.07M647.95 508.4L647.95 511.1M646.78 509.07L649.12 510.43M646.78 510.43L649.12 509.07M489.65 518.7L489.65 521.4M488.48 519.38L490.82 520.73M488.48 520.73L490.82 519.38M493.15 518.7L493.15 521.4M491.98 519.38L494.32 520.73M491.98 520.73L494.32 519.38M496.65 518.7L496.65 521.4M495.48 519.38L497.82 520.73M495.48 520.73L497.82 519.38M503.47 518.7L503.47 521.4M502.3 519.38L504.64 520.73M502.3 520.73L504.64 519.38M524.11 518.7L524.11 521.4M522.94 519.38L525.28 520.73M522.94 520.73L525.28 519.38M627.31 518.7L627.31 521.4M626.14 519.38L628.48 520.73M626.14 520.73L628.48 519.38M420.91 539.3L420.91 542M419.74 539.98L422.08 541.33M419.74 541.33L422.08 539.98" stroke="#000" stroke-width="0.85" stroke-linecap="round" fill="none"/>
<g fill="#000"><circle cx="586.03" cy="303.75" r="0.85"/><circle cx="419.16" cy="314.05" r="0.85"/><circle cx="422.66" cy="314.05" r="0.85"/><circle cx="472.51" cy="314.05" r="0.85"/><circle cx="563.64" cy="314.05" r="0.85"/><circle cx="567.14" cy="314.05" r="0.85"/><circle cx="637.63" cy="314.05" r="0.85"/><circle cx="493.15" cy="324.35" r="0.85"/><circle cx="419.16" cy="334.65" r="0.85"/><circle cx="422.66" cy="334.65" r="0.85"/><circle cx="503.47" cy="334.65" r="0.85"/><circle cx="563.64" cy="334.65" r="0.85"/><circle cx="567.14" cy="334.65" r="0.85"/><circle cx="429.48" cy="344.95" r="0.85"/><circle cx="432.98" cy="344.95" r="0.85"/><circle cx="419.16" cy="355.25" r="0.85"/><circle cx="422.66" cy="355.25" r="0.85"/><circle cx="501.72" cy="355.25" r="0.85"/><circle cx="505.22" cy="355.25" r="0.85"/><circle cx="439.8" cy="365.55" r="0.85"/><circle cx="443.3" cy="365.55" r="0.85"/><circle cx="448.37" cy="365.55" r="0.85"/><circle cx="451.87" cy="365.55" r="0.85"/><circle cx="455.37" cy="365.55" r="0.85"/><circle cx="503.47" cy="365.55" r="0.85"/><circle cx="565.39" cy="365.55" r="0.85"/><circle cx="613.49" cy="365.55" r="0.85"/><circle cx="616.99" cy="365.55" r="0.85"/><circle cx="620.49" cy="365.55" r="0.85"/><circle cx="448.37" cy="375.85" r="0.85"/><circle cx="451.87" cy="375.85" r="0.85"/><circle cx="455.37" cy="375.85" r="0.85"/><circle cx="458.69" cy="375.85" r="0.85"/><circle cx="462.19" cy="375.85" r="0.85"/><circle cx="465.69" cy="375.85" r="0.85"/><circle cx="469.01" cy="375.85" r="0.85"/><circle cx="472.51" cy="375.85" r="0.85"/><circle cx="476.01" cy="375.85" r="0.85"/><circle cx="493.15" cy="375.85" r="0.85"/><circle cx="503.47" cy="375.85" r="0.85"/><circle cx="510.29" cy="375.85" r="0.85"/><circle cx="513.79" cy="375.85" r="0.85"/><circle cx="517.29" cy="375.85" r="0.85"/><circle cx="647.95" cy="375.85" r="0.85"/><circle cx="441.55" cy="386.15" r="0.85"/><circle cx="451.87" cy="386.15" r="0.85"/><circle cx="503.47" cy="386.15" r="0.85"/><circle cx="520.61" cy="386.15" r="0.85"/><circle cx="524.11" cy="386.15" r="0.85"/><circle cx="527.61" cy="386.15" r="0.85"/><circle cx="563.64" cy="386.15" r="0.85"/><circle cx="567.14" cy="386.15" r="0.85"/><circle cx="575.71" cy="386.15" r="0.85"/><circle cx="616.99" cy="386.15" r="0.85"/><circle cx="575.71" cy="396.45" r="0.85"/><circle cx="644.45" cy="396.45" r="0.85"/><circle cx="647.95" cy="396.45" r="0.85"/><circle cx="651.45" cy="396.45" r="0.85"/><circle cx="575.71" cy="406.75" r="0.85"/><circle cx="522.36" cy="417.05" r="0.85"/><circle cx="525.86" cy="417.05" r="0.85"/><circle cx="532.68" cy="417.05" r="0.85"/><circle cx="536.18" cy="417.05" r="0.85"/><circle cx="420.91" cy="427.35" r="0.85"/><circle cx="429.48" cy="427.35" r="0.85"/><circle cx="432.98" cy="427.35" r="0.85"/><circle cx="441.55" cy="427.35" r="0.85"/><circle cx="451.87" cy="427.35" r="0.85"/><circle cx="460.44" cy="427.35" r="0.85"/><circle cx="463.94" cy="427.35" r="0.85"/><circle cx="503.47" cy="427.35" r="0.85"/><circle cx="532.68" cy="427.35" r="0.85"/><circle cx="536.18" cy="427.35" r="0.85"/><circle cx="575.71" cy="427.35" r="0.85"/><circle cx="429.48" cy="437.65" r="0.85"/><circle cx="432.98" cy="437.65" r="0.85"/><circle cx="448.37" cy="437.65" r="0.85"/><circle cx="451.87" cy="437.65" r="0.85"/><circle cx="455.37" cy="437.65" r="0.85"/><circle cx="458.69" cy="437.65" r="0.85"/><circle cx="462.19" cy="437.65" r="0.85"/><circle cx="465.69" cy="437.65" r="0.85"/><circle cx="470.76" cy="437.65" r="0.85"/><circle cx="474.26" cy="437.65" r="0.85"/><circle cx="499.97" cy="437.65" r="0.85"/><circle cx="503.47" cy="437.65" r="0.85"/><circle cx="506.97" cy="437.65" r="0.85"/><circle cx="530.93" cy="437.65" r="0.85"/><circle cx="534.43" cy="437.65" r="0.85"/><circle cx="537.93" cy="437.65" r="0.85"/><circle cx="565.39" cy="437.65" r="0.85"/><circle cx="637.63" cy="437.65" r="0.85"/><circle cx="656.52" cy="437.65" r="0.85"/><circle cx="660.02" cy="437.65" r="0.85"/><circle cx="427.73" cy="447.95" r="0.85"/><circle cx="431.23" cy="447.95" r="0.85"/><circle cx="434.73" cy="447.95" r="0.85"/><circle cx="470.76" cy="447.95" r="0.85"/><circle cx="474.26" cy="447.95" r="0.85"/><circle cx="534.43" cy="447.95" r="0.85"/><circle cx="551.57" cy="447.95" r="0.85"/><circle cx="555.07" cy="447.95" r="0.85"/><circle cx="558.57" cy="447.95" r="0.85"/><circle cx="616.99" cy="447.95" r="0.85"/><circle cx="668.59" cy="447.95" r="0.85"/><circle cx="438.05" cy="458.25" r="0.85"/><circle cx="441.55" cy="458.25" r="0.85"/><circle cx="445.05" cy="458.25" r="0.85"/><circle cx="462.19" cy="458.25" r="0.85"/><circle cx="584.28" cy="458.25" r="0.85"/><circle cx="587.78" cy="458.25" r="0.85"/><circle cx="604.92" cy="458.25" r="0.85"/><circle cx="608.42" cy="458.25" r="0.85"/><circle cx="627.31" cy="468.55" r="0.85"/><circle cx="420.91" cy="478.85" r="0.85"/><circle cx="522.36" cy="478.85" r="0.85"/><circle cx="525.86" cy="478.85" r="0.85"/><circle cx="530.93" cy="478.85" r="0.85"/><circle cx="534.43" cy="478.85" r="0.85"/><circle cx="537.93" cy="478.85" r="0.85"/><circle cx="606.67" cy="478.85" r="0.85"/><circle cx="472.51" cy="489.15" r="0.85"/><circle cx="489.65" cy="499.45" r="0.85"/><circle cx="493.15" cy="499.45" r="0.85"/><circle cx="496.65" cy="499.45" r="0.85"/><circle cx="524.11" cy="509.75" r="0.85"/><circle cx="603.17" cy="509.75" r="0.85"/><circle cx="606.67" cy="509.75" r="0.85"/><circle cx="610.17" cy="509.75" r="0.85"/><circle cx="647.95" cy="509.75" r="0.85"/><circle cx="489.65" cy="520.05" r="0.85"/><circle cx="493.15" cy="520.05" r="0.85"/><circle cx="496.65" cy="520.05" r="0.85"/><circle cx="503.47" cy="520.05" r="0.85"/><circle cx="524.11" cy="520.05" r="0.85"/><circle cx="627.31" cy="520.05" r="0.85"/><circle cx="420.91" cy="540.65" r="0.85"/></g>
<text transform="translate(423.86,551.4) rotate(-90) scale(1,1.13)" font-size="6.7" text-anchor="end">Burkholderiaceae</text>
<text transform="translate(434.18,551.4) rotate(-90) scale(1,1.13)" font-size="6.7" text-anchor="end">Rhizobiaceae</text>
<text transform="translate(444.5,551.4) rotate(-90) scale(1,1.13)" font-size="6.7" text-anchor="end">Isosphaeraceae</text>
<text transform="translate(454.82,551.4) rotate(-90) scale(1,1.13)" font-size="6.7" text-anchor="end">Microscillaceae</text>
<text transform="translate(465.14,551.4) rotate(-90) scale(1,1.13)" font-size="6.7" text-anchor="end">Sphingomonadaceae</text>
<text transform="translate(475.46,551.4) rotate(-90) scale(1,1.13)" font-size="6.7" text-anchor="end">Micropepsaceae</text>
<text transform="translate(485.78,551.4) rotate(-90) scale(1,1.13)" font-size="6.7" text-anchor="end">Sphingobacteriaceae</text>
<text transform="translate(496.1,551.4) rotate(-90) scale(1,1.13)" font-size="6.7" text-anchor="end">Chitinophagaceae</text>
<text transform="translate(506.42,551.4) rotate(-90) scale(1,1.13)" font-size="6.7" text-anchor="end">Xanthobacteraceae</text>
<text transform="translate(516.74,551.4) rotate(-90) scale(1,1.13)" font-size="6.7" text-anchor="end">Microbacteriaceae</text>
<text transform="translate(527.06,551.4) rotate(-90) scale(1,1.13)" font-size="6.7" text-anchor="end">Caulobacteraceae</text>
<text transform="translate(537.38,551.4) rotate(-90) scale(1,1.13)" font-size="6.7" text-anchor="end">Mitochondria</text>
<text transform="translate(547.7,551.4) rotate(-90) scale(1,1.13)" font-size="6.7" text-anchor="end">67_14</text>
<text transform="translate(558.02,551.4) rotate(-90) scale(1,1.13)" font-size="6.7" text-anchor="end">Gemmatimonadaceae</text>
<text transform="translate(568.34,551.4) rotate(-90) scale(1,1.13)" font-size="6.7" text-anchor="end">Acidobacteriaceae</text>
<text transform="translate(578.66,551.4) rotate(-90) scale(1,1.13)" font-size="6.7" text-anchor="end">Rhodanobacteraceae</text>
<text transform="translate(588.98,551.4) rotate(-90) scale(1,1.13)" font-size="6.7" text-anchor="end">Solibacteraceae</text>
<text transform="translate(599.3,551.4) rotate(-90) scale(1,1.13)" font-size="6.7" text-anchor="end">Solirubrobacteraceae</text>
<text transform="translate(609.62,551.4) rotate(-90) scale(1,1.13)" font-size="6.7" text-anchor="end">Streptomycetaceae</text>
<text transform="translate(619.94,551.4) rotate(-90) scale(1,1.13)" font-size="6.7" text-anchor="end">Reyranellaceae</text>
<text transform="translate(630.26,551.4) rotate(-90) scale(1,1.13)" font-size="6.7" text-anchor="end">env.OPS_17</text>
<text transform="translate(640.58,551.4) rotate(-90) scale(1,1.13)" font-size="6.7" text-anchor="end">Acetobacteraceae</text>
<text transform="translate(650.9,551.4) rotate(-90) scale(1,1.13)" font-size="6.7" text-anchor="end">Devosiaceae</text>
<text transform="translate(661.22,551.4) rotate(-90) scale(1,1.13)" font-size="6.7" text-anchor="end">Cytophagaceae</text>
<text transform="translate(671.54,551.4) rotate(-90) scale(1,1.13)" font-size="6.7" text-anchor="end">Nitrosomonadaceae</text>
<text x="342.6" y="306.1" font-size="9.4" font-weight="bold">D</text>
</svg>
</body></html>
